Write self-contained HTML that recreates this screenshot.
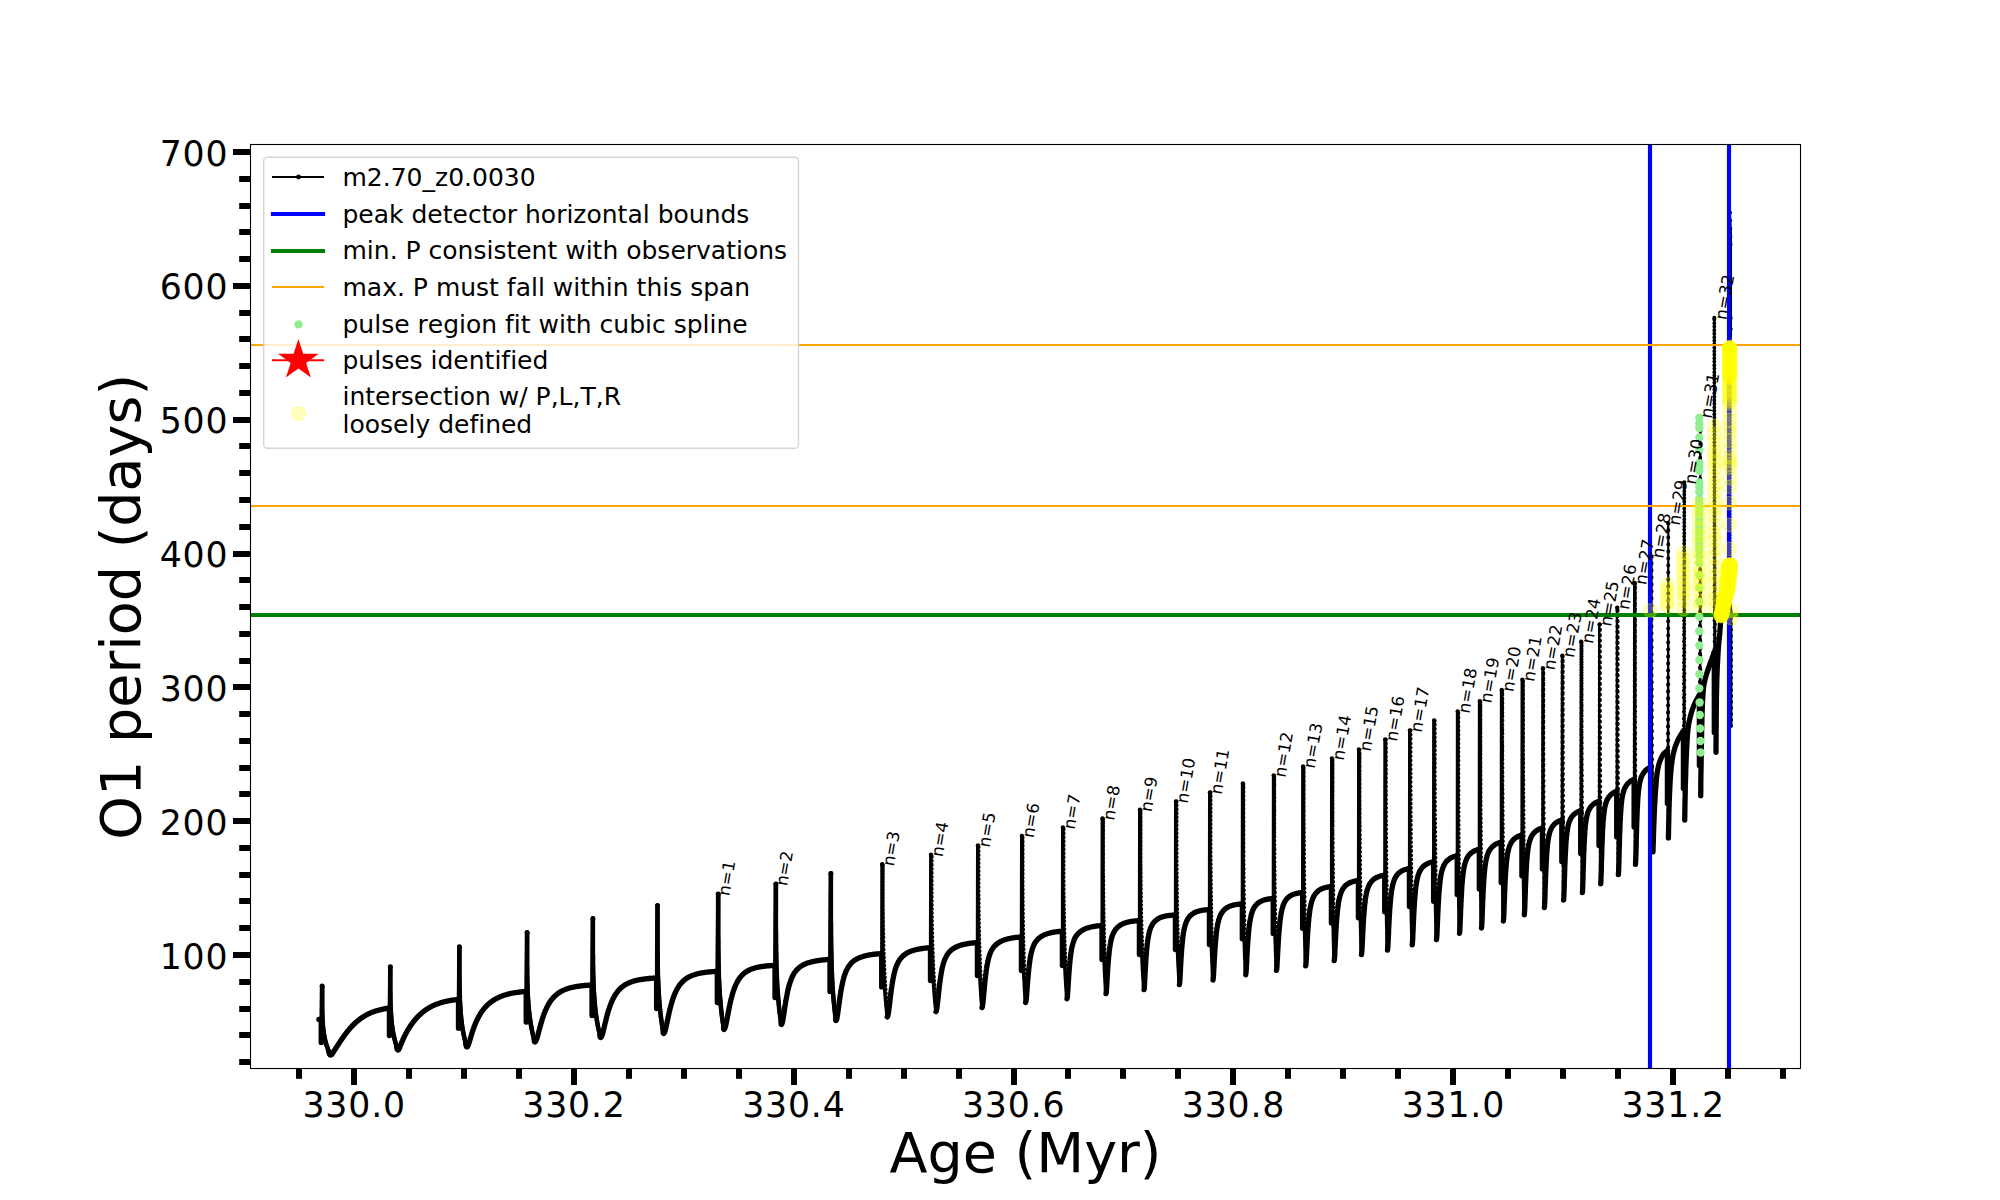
<!DOCTYPE html>
<html lang="en"><head><meta charset="utf-8"><title>O1 period vs Age</title>
<style>html,body{margin:0;padding:0;background:#fff}svg{display:block}text{font-family:"DejaVu Sans","Liberation Sans",sans-serif;fill:#000;font-variant-ligatures:none;font-kerning:none}</style></head><body>
<svg width="2000" height="1200" viewBox="0 0 2000 1200">
<rect width="2000" height="1200" fill="#fff"/>
<defs><clipPath id="ax"><rect x="250.5" y="144.5" width="1550.0" height="924.0"/></clipPath></defs>
<g clip-path="url(#ax)">
<g fill="none" stroke="#000" stroke-linejoin="round" stroke-linecap="round">
<g stroke-width="5.3">
<polyline points="318.9,1019.4 321.0,1019.4"/>
<polyline points="321.2,1019.4 321.2,1042.6"/>
<polyline points="328.7,1051.1 328.9,1052.0 329.1,1052.8 329.3,1053.5 329.5,1054.1 329.7,1054.5 330.0,1054.8 330.3,1055.0 330.6,1055.1 330.9,1055.0 331.3,1054.8 331.7,1054.5 332.1,1054.1 332.5,1053.5 333.0,1052.8 333.4,1052.0 333.9,1051.1 334.1,1050.9 334.3,1050.5 334.6,1050.1 334.8,1049.8 335.1,1049.4 335.3,1049.0 335.6,1048.6 335.8,1048.3 336.1,1047.9 336.3,1047.5 336.6,1047.1 336.8,1046.7 337.1,1046.4 337.3,1046.0 337.5,1045.6 337.8,1045.2 338.0,1044.8 338.3,1044.4 338.5,1044.1 338.8,1043.7 339.0,1043.3 339.3,1042.9 339.5,1042.5 339.8,1042.2 340.0,1041.8 340.3,1041.4 340.5,1041.0 340.8,1040.7 341.0,1040.3 341.3,1039.9 341.5,1039.6 341.8,1039.2 342.0,1038.8 342.3,1038.5 342.5,1038.1 342.8,1037.7 343.0,1037.4 343.3,1037.0 343.5,1036.7 343.7,1036.3 344.0,1036.0 344.2,1035.7 344.5,1035.3 344.7,1035.0 345.0,1034.6 345.2,1034.3 345.5,1034.0 345.7,1033.6 346.0,1033.3 346.2,1033.0 346.5,1032.7 346.7,1032.3 347.0,1032.0 347.2,1031.7 347.5,1031.4 347.7,1031.1 348.0,1030.8 348.2,1030.5 348.5,1030.2 348.7,1029.9 349.0,1029.6 349.2,1029.3 349.5,1029.0 349.7,1028.7 350.0,1028.4 350.2,1028.1 350.4,1027.9 350.7,1027.6 350.9,1027.3 351.2,1027.0 351.4,1026.8 351.7,1026.5 351.9,1026.2 352.2,1026.0 352.4,1025.7 352.7,1025.5 352.9,1025.2 353.2,1025.0 353.4,1024.7 353.7,1024.5 353.9,1024.2 354.2,1024.0 354.4,1023.7 354.7,1023.5 354.9,1023.3 355.2,1023.0 355.4,1022.8 355.7,1022.6 355.9,1022.4 356.2,1022.1 356.4,1021.9 356.7,1021.7 356.9,1021.5 357.1,1021.3 357.4,1021.1 357.6,1020.9 357.9,1020.7 358.1,1020.5 358.4,1020.3 358.6,1020.1 358.9,1019.9 359.1,1019.7 359.4,1019.5 359.6,1019.3 359.9,1019.1 360.1,1018.9 360.4,1018.7 360.6,1018.6 360.9,1018.4 361.1,1018.2 361.4,1018.0 361.6,1017.9 361.9,1017.7 362.1,1017.5 362.4,1017.4 362.6,1017.2 362.9,1017.0 363.1,1016.9 363.3,1016.7 363.6,1016.6 363.8,1016.4 364.1,1016.3 364.3,1016.1 364.6,1016.0 364.8,1015.8 365.1,1015.7 365.3,1015.5 365.6,1015.4 365.8,1015.3 366.1,1015.1 366.3,1015.0 366.6,1014.8 366.8,1014.7 367.1,1014.6 367.3,1014.5 367.6,1014.3 367.8,1014.2 368.1,1014.1 368.3,1014.0 368.6,1013.8 368.8,1013.7 369.1,1013.6 369.3,1013.5 369.6,1013.4 369.8,1013.3 370.0,1013.2 370.3,1013.0 370.5,1012.9 370.8,1012.8 371.0,1012.7 371.3,1012.6 371.5,1012.5 371.8,1012.4 372.0,1012.3 372.3,1012.2 372.5,1012.1 372.8,1012.0 373.0,1011.9 373.3,1011.9 373.5,1011.8 373.8,1011.7 374.0,1011.6 374.3,1011.5 374.5,1011.4 374.8,1011.3 375.0,1011.2 375.3,1011.2 375.5,1011.1 375.8,1011.0 376.0,1010.9 376.3,1010.8 376.5,1010.8 376.7,1010.7 377.0,1010.6 377.2,1010.5 377.5,1010.5 377.7,1010.4 378.0,1010.3 378.2,1010.3 378.5,1010.2 378.7,1010.1 379.0,1010.1 379.2,1010.0 379.5,1009.9 379.7,1009.9 380.0,1009.8 380.2,1009.7 380.5,1009.7 380.7,1009.6 381.0,1009.6 381.2,1009.5 381.5,1009.4 381.7,1009.4 382.0,1009.3 382.2,1009.3 382.5,1009.2 382.7,1009.2 382.9,1009.1 383.2,1009.1 383.4,1009.0 383.7,1009.0 383.9,1008.9 384.2,1008.9 384.4,1008.8 384.7,1008.8 384.9,1008.7 385.2,1008.7 385.4,1008.6 385.7,1008.6 385.9,1008.5 386.2,1008.5 386.4,1008.5 386.7,1008.4 386.9,1008.4 387.2,1008.3 387.4,1008.3 387.7,1008.3 387.9,1008.2 388.2,1008.2 388.4,1008.1 388.7,1008.1 388.9,1008.1 389.2,1008.0 389.4,1008.0"/>
<polyline points="389.4,1008.0 389.4,1035.6"/>
<polyline points="396.6,1046.1 396.7,1047.0 396.8,1047.8 397.0,1048.5 397.2,1049.1 397.4,1049.5 397.6,1049.8 397.8,1050.0 398.0,1050.1 398.2,1050.0 398.5,1049.8 398.7,1049.5 399.0,1049.1 399.3,1048.5 399.6,1047.8 399.9,1047.0 400.2,1046.1 400.2,1046.1 400.5,1045.4 400.7,1044.8 401.0,1044.2 401.2,1043.6 401.5,1043.0 401.7,1042.4 402.0,1041.8 402.2,1041.2 402.5,1040.6 402.7,1040.1 403.0,1039.5 403.2,1039.0 403.5,1038.4 403.7,1037.9 404.0,1037.4 404.2,1036.8 404.4,1036.3 404.7,1035.8 404.9,1035.3 405.2,1034.8 405.4,1034.4 405.7,1033.9 405.9,1033.4 406.2,1033.0 406.4,1032.5 406.7,1032.1 406.9,1031.6 407.2,1031.2 407.4,1030.7 407.7,1030.3 407.9,1029.9 408.2,1029.5 408.4,1029.1 408.7,1028.7 408.9,1028.3 409.2,1027.9 409.4,1027.5 409.7,1027.1 409.9,1026.7 410.1,1026.3 410.4,1026.0 410.6,1025.6 410.9,1025.2 411.1,1024.9 411.4,1024.5 411.6,1024.2 411.9,1023.8 412.1,1023.5 412.4,1023.2 412.6,1022.8 412.9,1022.5 413.1,1022.2 413.4,1021.9 413.6,1021.5 413.9,1021.2 414.1,1020.9 414.4,1020.6 414.6,1020.3 414.9,1020.0 415.1,1019.7 415.4,1019.4 415.6,1019.1 415.9,1018.9 416.1,1018.6 416.3,1018.3 416.6,1018.0 416.8,1017.7 417.1,1017.5 417.3,1017.2 417.6,1017.0 417.8,1016.7 418.1,1016.4 418.3,1016.2 418.6,1015.9 418.8,1015.7 419.1,1015.4 419.3,1015.2 419.6,1015.0 419.8,1014.7 420.1,1014.5 420.3,1014.3 420.6,1014.0 420.8,1013.8 421.1,1013.6 421.3,1013.4 421.6,1013.2 421.8,1013.0 422.1,1012.7 422.3,1012.5 422.5,1012.3 422.8,1012.1 423.0,1011.9 423.3,1011.7 423.5,1011.5 423.8,1011.3 424.0,1011.2 424.3,1011.0 424.5,1010.8 424.8,1010.6 425.0,1010.4 425.3,1010.2 425.5,1010.1 425.8,1009.9 426.0,1009.7 426.3,1009.5 426.5,1009.4 426.8,1009.2 427.0,1009.0 427.3,1008.9 427.5,1008.7 427.8,1008.6 428.0,1008.4 428.2,1008.3 428.5,1008.1 428.7,1008.0 429.0,1007.8 429.2,1007.7 429.5,1007.5 429.7,1007.4 430.0,1007.3 430.2,1007.1 430.5,1007.0 430.7,1006.8 431.0,1006.7 431.2,1006.6 431.5,1006.5 431.7,1006.3 432.0,1006.2 432.2,1006.1 432.5,1006.0 432.7,1005.8 433.0,1005.7 433.2,1005.6 433.5,1005.5 433.7,1005.4 434.0,1005.3 434.2,1005.2 434.4,1005.0 434.7,1004.9 434.9,1004.8 435.2,1004.7 435.4,1004.6 435.7,1004.5 435.9,1004.4 436.2,1004.3 436.4,1004.2 436.7,1004.1 436.9,1004.0 437.2,1003.9 437.4,1003.8 437.7,1003.8 437.9,1003.7 438.2,1003.6 438.4,1003.5 438.7,1003.4 438.9,1003.3 439.2,1003.2 439.4,1003.2 439.7,1003.1 439.9,1003.0 440.2,1002.9 440.4,1002.8 440.6,1002.8 440.9,1002.7 441.1,1002.6 441.4,1002.5 441.6,1002.5 441.9,1002.4 442.1,1002.3 442.4,1002.3 442.6,1002.2 442.9,1002.1 443.1,1002.1 443.4,1002.0 443.6,1001.9 443.9,1001.9 444.1,1001.8 444.4,1001.7 444.6,1001.7 444.9,1001.6 445.1,1001.6 445.4,1001.5 445.6,1001.4 445.9,1001.4 446.1,1001.3 446.4,1001.3 446.6,1001.2 446.8,1001.2 447.1,1001.1 447.3,1001.1 447.6,1001.0 447.8,1001.0 448.1,1000.9 448.3,1000.9 448.6,1000.8 448.8,1000.8 449.1,1000.7 449.3,1000.7 449.6,1000.6 449.8,1000.6 450.1,1000.5 450.3,1000.5 450.6,1000.5 450.8,1000.4 451.1,1000.4 451.3,1000.3 451.6,1000.3 451.8,1000.3 452.1,1000.2 452.3,1000.2 452.5,1000.1 452.8,1000.1 453.0,1000.1 453.3,1000.0 453.5,1000.0 453.8,1000.0 454.0,999.9 454.3,999.9 454.5,999.9 454.8,999.8 455.0,999.8 455.3,999.8 455.5,999.7 455.8,999.7 456.0,999.7 456.3,999.6 456.5,999.6 456.8,999.6 457.0,999.6 457.3,999.5 457.5,999.5 457.8,999.5 458.0,999.5 458.3,999.4 458.5,999.4"/>
<polyline points="458.5,999.4 458.5,1028.2"/>
<polyline points="465.7,1043.0 465.8,1043.9 465.9,1044.8 466.1,1045.4 466.2,1046.0 466.4,1046.4 466.5,1046.8 466.7,1046.9 466.9,1047.0 467.1,1046.9 467.3,1046.8 467.6,1046.4 467.8,1046.0 468.1,1045.4 468.4,1044.8 468.7,1043.9 469.0,1043.0 469.1,1042.5 469.4,1041.7 469.6,1040.9 469.9,1040.1 470.1,1039.2 470.4,1038.4 470.6,1037.5 470.9,1036.7 471.1,1035.9 471.4,1035.0 471.6,1034.2 471.9,1033.4 472.1,1032.7 472.4,1031.9 472.6,1031.1 472.9,1030.4 473.1,1029.7 473.4,1029.0 473.6,1028.3 473.8,1027.6 474.1,1026.9 474.3,1026.2 474.6,1025.6 474.8,1025.0 475.1,1024.4 475.3,1023.8 475.6,1023.2 475.8,1022.6 476.1,1022.0 476.3,1021.5 476.6,1020.9 476.8,1020.4 477.1,1019.9 477.3,1019.3 477.6,1018.8 477.8,1018.4 478.1,1017.9 478.3,1017.4 478.6,1016.9 478.8,1016.5 479.1,1016.0 479.3,1015.6 479.6,1015.2 479.8,1014.8 480.1,1014.3 480.3,1013.9 480.5,1013.5 480.8,1013.2 481.0,1012.8 481.3,1012.4 481.5,1012.0 481.8,1011.7 482.0,1011.3 482.3,1011.0 482.5,1010.6 482.8,1010.3 483.0,1010.0 483.3,1009.6 483.5,1009.3 483.8,1009.0 484.0,1008.7 484.3,1008.4 484.5,1008.1 484.8,1007.8 485.0,1007.5 485.3,1007.3 485.5,1007.0 485.8,1006.7 486.0,1006.5 486.3,1006.2 486.5,1005.9 486.7,1005.7 487.0,1005.4 487.2,1005.2 487.5,1004.9 487.7,1004.7 488.0,1004.5 488.2,1004.3 488.5,1004.0 488.7,1003.8 489.0,1003.6 489.2,1003.4 489.5,1003.2 489.7,1003.0 490.0,1002.8 490.2,1002.6 490.5,1002.4 490.7,1002.2 491.0,1002.0 491.2,1001.8 491.5,1001.6 491.7,1001.4 492.0,1001.3 492.2,1001.1 492.5,1000.9 492.7,1000.7 493.0,1000.6 493.2,1000.4 493.4,1000.2 493.7,1000.1 493.9,999.9 494.2,999.8 494.4,999.6 494.7,999.5 494.9,999.3 495.2,999.2 495.4,999.0 495.7,998.9 495.9,998.8 496.2,998.6 496.4,998.5 496.7,998.4 496.9,998.2 497.2,998.1 497.4,998.0 497.7,997.9 497.9,997.7 498.2,997.6 498.4,997.5 498.7,997.4 498.9,997.3 499.2,997.2 499.4,997.0 499.7,996.9 499.9,996.8 500.1,996.7 500.4,996.6 500.6,996.5 500.9,996.4 501.1,996.3 501.4,996.2 501.6,996.1 501.9,996.0 502.1,995.9 502.4,995.9 502.6,995.8 502.9,995.7 503.1,995.6 503.4,995.5 503.6,995.4 503.9,995.3 504.1,995.3 504.4,995.2 504.6,995.1 504.9,995.0 505.1,994.9 505.4,994.9 505.6,994.8 505.9,994.7 506.1,994.6 506.4,994.6 506.6,994.5 506.8,994.4 507.1,994.4 507.3,994.3 507.6,994.2 507.8,994.2 508.1,994.1 508.3,994.0 508.6,994.0 508.8,993.9 509.1,993.9 509.3,993.8 509.6,993.7 509.8,993.7 510.1,993.6 510.3,993.6 510.6,993.5 510.8,993.5 511.1,993.4 511.3,993.4 511.6,993.3 511.8,993.3 512.1,993.2 512.3,993.2 512.6,993.1 512.8,993.1 513.0,993.0 513.3,993.0 513.5,992.9 513.8,992.9 514.0,992.9 514.3,992.8 514.5,992.8 514.8,992.7 515.0,992.7 515.3,992.6 515.5,992.6 515.8,992.6 516.0,992.5 516.3,992.5 516.5,992.5 516.8,992.4 517.0,992.4 517.3,992.3 517.5,992.3 517.8,992.3 518.0,992.2 518.3,992.2 518.5,992.2 518.8,992.1 519.0,992.1 519.3,992.1 519.5,992.1 519.7,992.0 520.0,992.0 520.2,992.0 520.5,991.9 520.7,991.9 521.0,991.9 521.2,991.9 521.5,991.8 521.7,991.8 522.0,991.8 522.2,991.8 522.5,991.7 522.7,991.7 523.0,991.7 523.2,991.7 523.5,991.6 523.7,991.6 524.0,991.6 524.2,991.6 524.5,991.5 524.7,991.5 525.0,991.5 525.2,991.5 525.5,991.5 525.7,991.4 526.0,991.4 526.2,991.4"/>
<polyline points="526.2,991.4 526.2,1022.0"/>
<polyline points="534.2,1039.5 534.2,1040.1 534.3,1040.6 534.3,1041.0 534.4,1041.4 534.5,1041.6 534.6,1041.8 534.8,1042.0 534.9,1042.0 535.1,1042.0 535.2,1041.8 535.4,1041.6 535.6,1041.4 535.8,1041.0 536.0,1040.6 536.3,1040.1 536.5,1039.5 536.6,1039.2 536.9,1038.5 537.1,1037.7 537.4,1036.8 537.6,1036.0 537.9,1035.1 538.1,1034.1 538.4,1033.2 538.6,1032.3 538.9,1031.3 539.1,1030.4 539.4,1029.4 539.6,1028.5 539.9,1027.5 540.1,1026.6 540.4,1025.7 540.6,1024.8 540.9,1023.9 541.1,1023.1 541.4,1022.2 541.6,1021.4 541.9,1020.6 542.1,1019.8 542.3,1019.0 542.6,1018.2 542.8,1017.5 543.1,1016.7 543.3,1016.0 543.6,1015.3 543.8,1014.6 544.1,1013.9 544.3,1013.3 544.6,1012.7 544.8,1012.0 545.1,1011.4 545.3,1010.8 545.6,1010.2 545.8,1009.7 546.1,1009.1 546.3,1008.6 546.6,1008.0 546.8,1007.5 547.1,1007.0 547.3,1006.5 547.6,1006.1 547.8,1005.6 548.1,1005.1 548.3,1004.7 548.6,1004.2 548.8,1003.8 549.1,1003.4 549.3,1003.0 549.5,1002.6 549.8,1002.2 550.0,1001.8 550.3,1001.5 550.5,1001.1 550.8,1000.8 551.0,1000.4 551.3,1000.1 551.5,999.7 551.8,999.4 552.0,999.1 552.3,998.8 552.5,998.5 552.8,998.2 553.0,997.9 553.3,997.7 553.5,997.4 553.8,997.1 554.0,996.9 554.3,996.6 554.5,996.4 554.8,996.1 555.0,995.9 555.3,995.6 555.5,995.4 555.8,995.2 556.0,995.0 556.3,994.8 556.5,994.6 556.7,994.4 557.0,994.2 557.2,994.0 557.5,993.8 557.7,993.6 558.0,993.4 558.2,993.2 558.5,993.1 558.7,992.9 559.0,992.7 559.2,992.5 559.5,992.4 559.7,992.2 560.0,992.1 560.2,991.9 560.5,991.8 560.7,991.6 561.0,991.5 561.2,991.4 561.5,991.2 561.7,991.1 562.0,991.0 562.2,990.8 562.5,990.7 562.7,990.6 563.0,990.5 563.2,990.4 563.5,990.2 563.7,990.1 563.9,990.0 564.2,989.9 564.4,989.8 564.7,989.7 564.9,989.6 565.2,989.5 565.4,989.4 565.7,989.3 565.9,989.2 566.2,989.1 566.4,989.0 566.7,988.9 566.9,988.9 567.2,988.8 567.4,988.7 567.7,988.6 567.9,988.5 568.2,988.4 568.4,988.4 568.7,988.3 568.9,988.2 569.2,988.2 569.4,988.1 569.7,988.0 569.9,987.9 570.2,987.9 570.4,987.8 570.6,987.7 570.9,987.7 571.1,987.6 571.4,987.6 571.6,987.5 571.9,987.4 572.1,987.4 572.4,987.3 572.6,987.3 572.9,987.2 573.1,987.2 573.4,987.1 573.6,987.1 573.9,987.0 574.1,987.0 574.4,986.9 574.6,986.9 574.9,986.8 575.1,986.8 575.4,986.7 575.6,986.7 575.9,986.6 576.1,986.6 576.4,986.6 576.6,986.5 576.9,986.5 577.1,986.4 577.4,986.4 577.6,986.4 577.8,986.3 578.1,986.3 578.3,986.2 578.6,986.2 578.8,986.2 579.1,986.1 579.3,986.1 579.6,986.1 579.8,986.0 580.1,986.0 580.3,986.0 580.6,985.9 580.8,985.9 581.1,985.9 581.3,985.9 581.6,985.8 581.8,985.8 582.1,985.8 582.3,985.7 582.6,985.7 582.8,985.7 583.1,985.7 583.3,985.6 583.6,985.6 583.8,985.6 584.1,985.6 584.3,985.6 584.6,985.5 584.8,985.5 585.0,985.5 585.3,985.5 585.5,985.4 585.8,985.4 586.0,985.4 586.3,985.4 586.5,985.4 586.8,985.3 587.0,985.3 587.3,985.3 587.5,985.3 587.8,985.3 588.0,985.2 588.3,985.2 588.5,985.2 588.8,985.2 589.0,985.2 589.3,985.2 589.5,985.1 589.8,985.1 590.0,985.1 590.3,985.1 590.5,985.1 590.8,985.1 591.0,985.1 591.3,985.0 591.5,985.0 591.8,985.0 592.0,985.0"/>
<polyline points="592.0,985.0 592.0,1015.6"/>
<polyline points="599.9,1035.1 600.0,1035.7 600.0,1036.2 600.1,1036.6 600.2,1037.0 600.3,1037.2 600.4,1037.4 600.5,1037.6 600.6,1037.6 600.7,1037.6 600.9,1037.4 601.1,1037.2 601.3,1037.0 601.5,1036.6 601.7,1036.2 601.9,1035.7 602.1,1035.1 602.3,1034.5 602.6,1033.6 602.8,1032.7 603.1,1031.8 603.3,1030.8 603.6,1029.8 603.8,1028.7 604.1,1027.7 604.3,1026.6 604.6,1025.6 604.8,1024.5 605.1,1023.5 605.3,1022.4 605.6,1021.4 605.8,1020.4 606.1,1019.4 606.3,1018.4 606.5,1017.4 606.8,1016.5 607.0,1015.6 607.3,1014.7 607.5,1013.8 607.8,1012.9 608.0,1012.1 608.3,1011.2 608.5,1010.4 608.8,1009.7 609.0,1008.9 609.3,1008.1 609.5,1007.4 609.8,1006.7 610.0,1006.0 610.3,1005.3 610.5,1004.7 610.8,1004.0 611.0,1003.4 611.3,1002.8 611.5,1002.2 611.8,1001.6 612.0,1001.0 612.2,1000.5 612.5,1000.0 612.7,999.4 613.0,998.9 613.2,998.4 613.5,998.0 613.7,997.5 614.0,997.0 614.2,996.6 614.5,996.2 614.7,995.7 615.0,995.3 615.2,994.9 615.5,994.5 615.7,994.1 616.0,993.8 616.2,993.4 616.5,993.0 616.7,992.7 617.0,992.4 617.2,992.0 617.4,991.7 617.7,991.4 617.9,991.1 618.2,990.8 618.4,990.5 618.7,990.2 618.9,990.0 619.2,989.7 619.4,989.4 619.7,989.2 619.9,988.9 620.2,988.7 620.4,988.4 620.7,988.2 620.9,988.0 621.2,987.8 621.4,987.5 621.7,987.3 621.9,987.1 622.2,986.9 622.4,986.7 622.7,986.5 622.9,986.3 623.1,986.2 623.4,986.0 623.6,985.8 623.9,985.6 624.1,985.5 624.4,985.3 624.6,985.1 624.9,985.0 625.1,984.8 625.4,984.7 625.6,984.5 625.9,984.4 626.1,984.2 626.4,984.1 626.6,984.0 626.9,983.8 627.1,983.7 627.4,983.6 627.6,983.5 627.9,983.3 628.1,983.2 628.4,983.1 628.6,983.0 628.8,982.9 629.1,982.8 629.3,982.7 629.6,982.6 629.8,982.5 630.1,982.4 630.3,982.3 630.6,982.2 630.8,982.1 631.1,982.0 631.3,981.9 631.6,981.8 631.8,981.7 632.1,981.6 632.3,981.5 632.6,981.5 632.8,981.4 633.1,981.3 633.3,981.2 633.6,981.2 633.8,981.1 634.1,981.0 634.3,980.9 634.5,980.9 634.8,980.8 635.0,980.7 635.3,980.7 635.5,980.6 635.8,980.6 636.0,980.5 636.3,980.4 636.5,980.4 636.8,980.3 637.0,980.3 637.3,980.2 637.5,980.2 637.8,980.1 638.0,980.0 638.3,980.0 638.5,979.9 638.8,979.9 639.0,979.9 639.3,979.8 639.5,979.8 639.8,979.7 640.0,979.7 640.2,979.6 640.5,979.6 640.7,979.5 641.0,979.5 641.2,979.5 641.5,979.4 641.7,979.4 642.0,979.3 642.2,979.3 642.5,979.3 642.7,979.2 643.0,979.2 643.2,979.2 643.5,979.1 643.7,979.1 644.0,979.1 644.2,979.0 644.5,979.0 644.7,979.0 645.0,978.9 645.2,978.9 645.4,978.9 645.7,978.8 645.9,978.8 646.2,978.8 646.4,978.8 646.7,978.7 646.9,978.7 647.2,978.7 647.4,978.7 647.7,978.6 647.9,978.6 648.2,978.6 648.4,978.6 648.7,978.5 648.9,978.5 649.2,978.5 649.4,978.5 649.7,978.5 649.9,978.4 650.2,978.4 650.4,978.4 650.7,978.4 650.9,978.4 651.1,978.3 651.4,978.3 651.6,978.3 651.9,978.3 652.1,978.3 652.4,978.2 652.6,978.2 652.9,978.2 653.1,978.2 653.4,978.2 653.6,978.2 653.9,978.2 654.1,978.1 654.4,978.1 654.6,978.1 654.9,978.1 655.1,978.1 655.4,978.1 655.6,978.1 655.9,978.0 656.1,978.0 656.4,978.0 656.6,978.0"/>
<polyline points="656.6,978.0 656.6,1008.6"/>
<polyline points="663.1,1031.1 663.1,1031.7 663.2,1032.2 663.2,1032.6 663.2,1033.0 663.3,1033.2 663.4,1033.4 663.5,1033.6 663.6,1033.6 663.7,1033.6 663.9,1033.4 664.0,1033.2 664.2,1033.0 664.4,1032.6 664.6,1032.2 664.8,1031.7 665.0,1031.1 665.1,1030.9 665.3,1030.0 665.6,1029.0 665.8,1028.0 666.1,1026.9 666.3,1025.7 666.6,1024.6 666.8,1023.4 667.1,1022.2 667.3,1021.0 667.6,1019.8 667.8,1018.6 668.1,1017.5 668.3,1016.3 668.6,1015.2 668.8,1014.0 669.1,1012.9 669.3,1011.8 669.6,1010.8 669.8,1009.8 670.1,1008.7 670.3,1007.8 670.6,1006.8 670.8,1005.8 671.1,1004.9 671.3,1004.0 671.6,1003.2 671.8,1002.3 672.1,1001.5 672.3,1000.7 672.5,999.9 672.8,999.2 673.0,998.5 673.3,997.7 673.5,997.0 673.8,996.4 674.0,995.7 674.3,995.1 674.5,994.5 674.8,993.9 675.0,993.3 675.3,992.7 675.5,992.2 675.8,991.6 676.0,991.1 676.3,990.6 676.5,990.1 676.8,989.6 677.0,989.2 677.3,988.7 677.5,988.3 677.8,987.9 678.0,987.5 678.3,987.1 678.5,986.7 678.8,986.3 679.0,985.9 679.3,985.6 679.5,985.2 679.8,984.9 680.0,984.5 680.3,984.2 680.5,983.9 680.8,983.6 681.0,983.3 681.3,983.0 681.5,982.7 681.7,982.4 682.0,982.2 682.2,981.9 682.5,981.7 682.7,981.4 683.0,981.2 683.2,980.9 683.5,980.7 683.7,980.5 684.0,980.3 684.2,980.1 684.5,979.9 684.7,979.7 685.0,979.5 685.2,979.3 685.5,979.1 685.7,978.9 686.0,978.7 686.2,978.6 686.5,978.4 686.7,978.2 687.0,978.1 687.2,977.9 687.5,977.7 687.7,977.6 688.0,977.5 688.2,977.3 688.5,977.2 688.7,977.0 689.0,976.9 689.2,976.8 689.5,976.6 689.7,976.5 690.0,976.4 690.2,976.3 690.5,976.2 690.7,976.1 690.9,975.9 691.2,975.8 691.4,975.7 691.7,975.6 691.9,975.5 692.2,975.4 692.4,975.3 692.7,975.2 692.9,975.1 693.2,975.1 693.4,975.0 693.7,974.9 693.9,974.8 694.2,974.7 694.4,974.6 694.7,974.6 694.9,974.5 695.2,974.4 695.4,974.3 695.7,974.3 695.9,974.2 696.2,974.1 696.4,974.1 696.7,974.0 696.9,973.9 697.2,973.9 697.4,973.8 697.7,973.7 697.9,973.7 698.2,973.6 698.4,973.6 698.7,973.5 698.9,973.4 699.2,973.4 699.4,973.3 699.6,973.3 699.9,973.2 700.1,973.2 700.4,973.1 700.6,973.1 700.9,973.1 701.1,973.0 701.4,973.0 701.6,972.9 701.9,972.9 702.1,972.8 702.4,972.8 702.6,972.8 702.9,972.7 703.1,972.7 703.4,972.6 703.6,972.6 703.9,972.6 704.1,972.5 704.4,972.5 704.6,972.5 704.9,972.4 705.1,972.4 705.4,972.4 705.6,972.3 705.9,972.3 706.1,972.3 706.4,972.2 706.6,972.2 706.9,972.2 707.1,972.2 707.4,972.1 707.6,972.1 707.9,972.1 708.1,972.1 708.3,972.0 708.6,972.0 708.8,972.0 709.1,972.0 709.3,971.9 709.6,971.9 709.8,971.9 710.1,971.9 710.3,971.9 710.6,971.8 710.8,971.8 711.1,971.8 711.3,971.8 711.6,971.8 711.8,971.7 712.1,971.7 712.3,971.7 712.6,971.7 712.8,971.7 713.1,971.6 713.3,971.6 713.6,971.6 713.8,971.6 714.1,971.6 714.3,971.6 714.6,971.5 714.8,971.5 715.1,971.5 715.3,971.5 715.6,971.5 715.8,971.5 716.1,971.5 716.3,971.5 716.6,971.4 716.8,971.4 717.1,971.4 717.3,971.4"/>
<polyline points="717.3,971.4 717.3,1002.6"/>
<polyline points="723.6,1027.1 723.6,1027.7 723.6,1028.2 723.6,1028.6 723.7,1029.0 723.7,1029.2 723.8,1029.4 723.9,1029.6 724.0,1029.6 724.1,1029.6 724.2,1029.4 724.4,1029.2 724.5,1029.0 724.7,1028.6 724.9,1028.2 725.1,1027.7 725.3,1027.1 725.5,1026.5 725.7,1025.5 726.0,1024.4 726.2,1023.2 726.5,1022.0 726.7,1020.7 727.0,1019.4 727.2,1018.1 727.5,1016.7 727.7,1015.4 728.0,1014.1 728.2,1012.7 728.5,1011.4 728.7,1010.2 729.0,1008.9 729.2,1007.7 729.4,1006.5 729.7,1005.3 729.9,1004.1 730.2,1003.0 730.4,1001.9 730.7,1000.9 730.9,999.8 731.2,998.8 731.4,997.9 731.7,996.9 731.9,996.0 732.2,995.1 732.4,994.3 732.7,993.4 732.9,992.6 733.2,991.8 733.4,991.1 733.7,990.3 733.9,989.6 734.2,988.9 734.4,988.2 734.6,987.6 734.9,987.0 735.1,986.4 735.4,985.8 735.6,985.2 735.9,984.6 736.1,984.1 736.4,983.6 736.6,983.1 736.9,982.6 737.1,982.1 737.4,981.7 737.6,981.2 737.9,980.8 738.1,980.4 738.4,980.0 738.6,979.6 738.9,979.2 739.1,978.8 739.3,978.5 739.6,978.1 739.8,977.8 740.1,977.4 740.3,977.1 740.6,976.8 740.8,976.5 741.1,976.2 741.3,975.9 741.6,975.7 741.8,975.4 742.1,975.1 742.3,974.9 742.6,974.6 742.8,974.4 743.1,974.2 743.3,973.9 743.6,973.7 743.8,973.5 744.1,973.3 744.3,973.1 744.5,972.9 744.8,972.7 745.0,972.5 745.3,972.3 745.5,972.2 745.8,972.0 746.0,971.8 746.3,971.7 746.5,971.5 746.8,971.4 747.0,971.2 747.3,971.1 747.5,970.9 747.8,970.8 748.0,970.6 748.3,970.5 748.5,970.4 748.8,970.3 749.0,970.1 749.3,970.0 749.5,969.9 749.7,969.8 750.0,969.7 750.2,969.6 750.5,969.5 750.7,969.4 751.0,969.2 751.2,969.2 751.5,969.1 751.7,969.0 752.0,968.9 752.2,968.8 752.5,968.7 752.7,968.6 753.0,968.5 753.2,968.4 753.5,968.4 753.7,968.3 754.0,968.2 754.2,968.1 754.5,968.1 754.7,968.0 754.9,967.9 755.2,967.9 755.4,967.8 755.7,967.7 755.9,967.7 756.2,967.6 756.4,967.6 756.7,967.5 756.9,967.4 757.2,967.4 757.4,967.3 757.7,967.3 757.9,967.2 758.2,967.2 758.4,967.1 758.7,967.1 758.9,967.0 759.2,967.0 759.4,966.9 759.7,966.9 759.9,966.8 760.1,966.8 760.4,966.8 760.6,966.7 760.9,966.7 761.1,966.6 761.4,966.6 761.6,966.6 761.9,966.5 762.1,966.5 762.4,966.5 762.6,966.4 762.9,966.4 763.1,966.4 763.4,966.3 763.6,966.3 763.9,966.3 764.1,966.2 764.4,966.2 764.6,966.2 764.8,966.2 765.1,966.1 765.3,966.1 765.6,966.1 765.8,966.0 766.1,966.0 766.3,966.0 766.6,966.0 766.8,965.9 767.1,965.9 767.3,965.9 767.6,965.9 767.8,965.9 768.1,965.8 768.3,965.8 768.6,965.8 768.8,965.8 769.1,965.8 769.3,965.7 769.6,965.7 769.8,965.7 770.0,965.7 770.3,965.7 770.5,965.7 770.8,965.6 771.0,965.6 771.3,965.6 771.5,965.6 771.8,965.6 772.0,965.6 772.3,965.5 772.5,965.5 772.8,965.5 773.0,965.5 773.3,965.5 773.5,965.5 773.8,965.5 774.0,965.4 774.3,965.4 774.5,965.4 774.8,965.4 775.0,965.4"/>
<polyline points="775.0,965.4 775.0,997.6"/>
<polyline points="781.0,1022.1 781.0,1022.7 781.0,1023.2 781.1,1023.6 781.1,1024.0 781.2,1024.2 781.2,1024.4 781.3,1024.6 781.4,1024.6 781.5,1024.6 781.6,1024.4 781.7,1024.2 781.8,1024.0 782.0,1023.6 782.1,1023.2 782.3,1022.7 782.5,1022.1 782.6,1021.2 782.9,1019.9 783.1,1018.5 783.4,1017.0 783.6,1015.4 783.9,1013.7 784.1,1012.0 784.4,1010.4 784.6,1008.7 784.9,1007.0 785.1,1005.4 785.4,1003.9 785.6,1002.3 785.9,1000.8 786.1,999.4 786.4,998.0 786.6,996.6 786.9,995.3 787.1,994.1 787.4,992.9 787.6,991.7 787.8,990.6 788.1,989.5 788.3,988.5 788.6,987.5 788.8,986.6 789.1,985.7 789.3,984.8 789.6,984.0 789.8,983.2 790.1,982.4 790.3,981.7 790.6,981.0 790.8,980.3 791.1,979.6 791.3,979.0 791.6,978.4 791.8,977.8 792.1,977.3 792.3,976.7 792.6,976.2 792.8,975.7 793.1,975.2 793.3,974.8 793.5,974.4 793.8,973.9 794.0,973.5 794.3,973.1 794.5,972.7 794.8,972.4 795.0,972.0 795.3,971.7 795.5,971.4 795.8,971.0 796.0,970.7 796.3,970.4 796.5,970.1 796.8,969.9 797.0,969.6 797.3,969.3 797.5,969.1 797.8,968.8 798.0,968.6 798.3,968.4 798.5,968.1 798.8,967.9 799.0,967.7 799.3,967.5 799.5,967.3 799.7,967.1 800.0,966.9 800.2,966.8 800.5,966.6 800.7,966.4 801.0,966.2 801.2,966.1 801.5,965.9 801.7,965.8 802.0,965.6 802.2,965.5 802.5,965.3 802.7,965.2 803.0,965.0 803.2,964.9 803.5,964.8 803.7,964.7 804.0,964.5 804.2,964.4 804.5,964.3 804.7,964.2 805.0,964.1 805.2,964.0 805.5,963.8 805.7,963.7 805.9,963.6 806.2,963.5 806.4,963.4 806.7,963.3 806.9,963.3 807.2,963.2 807.4,963.1 807.7,963.0 807.9,962.9 808.2,962.8 808.4,962.7 808.7,962.7 808.9,962.6 809.2,962.5 809.4,962.4 809.7,962.4 809.9,962.3 810.2,962.2 810.4,962.1 810.7,962.1 810.9,962.0 811.2,961.9 811.4,961.9 811.7,961.8 811.9,961.8 812.1,961.7 812.4,961.6 812.6,961.6 812.9,961.5 813.1,961.5 813.4,961.4 813.6,961.4 813.9,961.3 814.1,961.3 814.4,961.2 814.6,961.2 814.9,961.1 815.1,961.1 815.4,961.0 815.6,961.0 815.9,960.9 816.1,960.9 816.4,960.8 816.6,960.8 816.9,960.8 817.1,960.7 817.4,960.7 817.6,960.6 817.9,960.6 818.1,960.6 818.3,960.5 818.6,960.5 818.8,960.5 819.1,960.4 819.3,960.4 819.6,960.4 819.8,960.3 820.1,960.3 820.3,960.3 820.6,960.2 820.8,960.2 821.1,960.2 821.3,960.1 821.6,960.1 821.8,960.1 822.1,960.1 822.3,960.0 822.6,960.0 822.8,960.0 823.1,959.9 823.3,959.9 823.6,959.9 823.8,959.9 824.0,959.8 824.3,959.8 824.5,959.8 824.8,959.8 825.0,959.8 825.3,959.7 825.5,959.7 825.8,959.7 826.0,959.7 826.3,959.7 826.5,959.6 826.8,959.6 827.0,959.6 827.3,959.6 827.5,959.6 827.8,959.5 828.0,959.5 828.3,959.5 828.5,959.5 828.8,959.5 829.0,959.5 829.3,959.4 829.5,959.4 829.8,959.4 830.0,959.4"/>
<polyline points="830.0,959.4 830.0,991.6"/>
<polyline points="835.6,1018.1 835.7,1018.7 835.7,1019.2 835.7,1019.6 835.7,1020.0 835.8,1020.2 835.9,1020.4 835.9,1020.6 836.0,1020.6 836.1,1020.6 836.2,1020.4 836.3,1020.2 836.4,1020.0 836.5,1019.6 836.7,1019.2 836.8,1018.7 837.0,1018.1 837.0,1018.0 837.2,1016.7 837.5,1015.2 837.7,1013.5 838.0,1011.8 838.2,1010.0 838.5,1008.1 838.7,1006.2 839.0,1004.3 839.2,1002.5 839.5,1000.7 839.7,998.9 840.0,997.2 840.2,995.5 840.5,993.9 840.7,992.3 841.0,990.8 841.2,989.4 841.5,988.0 841.7,986.7 842.0,985.5 842.2,984.3 842.5,983.1 842.7,982.0 843.0,981.0 843.2,980.0 843.5,979.0 843.7,978.1 843.9,977.3 844.2,976.4 844.4,975.6 844.7,974.9 844.9,974.2 845.2,973.5 845.4,972.8 845.7,972.2 845.9,971.6 846.2,971.0 846.4,970.5 846.7,969.9 846.9,969.4 847.2,968.9 847.4,968.5 847.7,968.0 847.9,967.6 848.2,967.2 848.4,966.8 848.7,966.4 848.9,966.0 849.2,965.7 849.4,965.3 849.7,965.0 849.9,964.7 850.2,964.4 850.4,964.1 850.7,963.8 850.9,963.5 851.2,963.2 851.4,963.0 851.6,962.7 851.9,962.5 852.1,962.3 852.4,962.0 852.6,961.8 852.9,961.6 853.1,961.4 853.4,961.2 853.6,961.0 853.9,960.8 854.1,960.6 854.4,960.5 854.6,960.3 854.9,960.1 855.1,960.0 855.4,959.8 855.6,959.6 855.9,959.5 856.1,959.3 856.4,959.2 856.6,959.1 856.9,958.9 857.1,958.8 857.4,958.7 857.6,958.5 857.9,958.4 858.1,958.3 858.4,958.2 858.6,958.1 858.9,957.9 859.1,957.8 859.3,957.7 859.6,957.6 859.8,957.5 860.1,957.4 860.3,957.3 860.6,957.2 860.8,957.1 861.1,957.1 861.3,957.0 861.6,956.9 861.8,956.8 862.1,956.7 862.3,956.6 862.6,956.6 862.8,956.5 863.1,956.4 863.3,956.3 863.6,956.3 863.8,956.2 864.1,956.1 864.3,956.1 864.6,956.0 864.8,955.9 865.1,955.9 865.3,955.8 865.6,955.7 865.8,955.7 866.1,955.6 866.3,955.6 866.5,955.5 866.8,955.4 867.0,955.4 867.3,955.3 867.5,955.3 867.8,955.2 868.0,955.2 868.3,955.1 868.5,955.1 868.8,955.1 869.0,955.0 869.3,955.0 869.5,954.9 869.8,954.9 870.0,954.8 870.3,954.8 870.5,954.8 870.8,954.7 871.0,954.7 871.3,954.6 871.5,954.6 871.8,954.6 872.0,954.5 872.3,954.5 872.5,954.5 872.8,954.4 873.0,954.4 873.3,954.4 873.5,954.3 873.8,954.3 874.0,954.3 874.2,954.2 874.5,954.2 874.7,954.2 875.0,954.2 875.2,954.1 875.5,954.1 875.7,954.1 876.0,954.1 876.2,954.0 876.5,954.0 876.7,954.0 877.0,954.0 877.2,953.9 877.5,953.9 877.7,953.9 878.0,953.9 878.2,953.9 878.5,953.8 878.7,953.8 879.0,953.8 879.2,953.8 879.5,953.8 879.7,953.7 880.0,953.7 880.2,953.7 880.5,953.7 880.7,953.7 881.0,953.6 881.2,953.6 881.5,953.6 881.7,953.6"/>
<polyline points="881.7,953.6 881.7,986.9"/>
<polyline points="887.3,1016.9 887.5,1016.7 887.8,1016.1 888.0,1015.1 888.3,1013.9 888.5,1012.3 888.8,1010.5 889.0,1008.6 889.3,1006.6 889.5,1004.5 889.8,1002.3 890.0,1000.2 890.3,998.1 890.5,996.0 890.8,994.0 891.0,992.1 891.3,990.2 891.5,988.4 891.8,986.6 892.0,985.0 892.3,983.4 892.5,981.9 892.8,980.5 893.0,979.1 893.3,977.8 893.5,976.6 893.8,975.4 894.0,974.3 894.3,973.3 894.5,972.3 894.7,971.4 895.0,970.5 895.2,969.6 895.5,968.8 895.7,968.1 896.0,967.3 896.2,966.6 896.5,966.0 896.7,965.3 897.0,964.8 897.2,964.2 897.5,963.6 897.7,963.1 898.0,962.6 898.2,962.1 898.5,961.7 898.7,961.3 899.0,960.8 899.2,960.4 899.5,960.1 899.7,959.7 900.0,959.3 900.2,959.0 900.5,958.7 900.7,958.4 901.0,958.1 901.2,957.8 901.5,957.5 901.7,957.2 901.9,956.9 902.2,956.7 902.4,956.4 902.7,956.2 902.9,956.0 903.2,955.8 903.4,955.5 903.7,955.3 903.9,955.1 904.2,954.9 904.4,954.7 904.7,954.6 904.9,954.4 905.2,954.2 905.4,954.0 905.7,953.9 905.9,953.7 906.2,953.5 906.4,953.4 906.7,953.2 906.9,953.1 907.2,953.0 907.4,952.8 907.7,952.7 907.9,952.6 908.2,952.4 908.4,952.3 908.7,952.2 908.9,952.1 909.1,952.0 909.4,951.8 909.6,951.7 909.9,951.6 910.1,951.5 910.4,951.4 910.6,951.3 910.9,951.2 911.1,951.1 911.4,951.0 911.6,950.9 911.9,950.9 912.1,950.8 912.4,950.7 912.6,950.6 912.9,950.5 913.1,950.4 913.4,950.4 913.6,950.3 913.9,950.2 914.1,950.1 914.4,950.1 914.6,950.0 914.9,949.9 915.1,949.9 915.4,949.8 915.6,949.8 915.9,949.7 916.1,949.6 916.3,949.6 916.6,949.5 916.8,949.5 917.1,949.4 917.3,949.3 917.6,949.3 917.8,949.2 918.1,949.2 918.3,949.1 918.6,949.1 918.8,949.1 919.1,949.0 919.3,949.0 919.6,948.9 919.8,948.9 920.1,948.8 920.3,948.8 920.6,948.8 920.8,948.7 921.1,948.7 921.3,948.6 921.6,948.6 921.8,948.6 922.1,948.5 922.3,948.5 922.6,948.5 922.8,948.4 923.1,948.4 923.3,948.4 923.5,948.3 923.8,948.3 924.0,948.3 924.3,948.2 924.5,948.2 924.8,948.2 925.0,948.2 925.3,948.1 925.5,948.1 925.8,948.1 926.0,948.1 926.3,948.0 926.5,948.0 926.8,948.0 927.0,948.0 927.3,947.9 927.5,947.9 927.8,947.9 928.0,947.9 928.3,947.9 928.5,947.8 928.8,947.8 929.0,947.8 929.3,947.8 929.5,947.8 929.8,947.8 930.0,947.7 930.3,947.7 930.5,947.7"/>
<polyline points="930.5,947.7 930.5,980.6"/>
<polyline points="936.0,1011.6 936.2,1011.3 936.5,1010.6 936.7,1009.3 937.0,1007.7 937.2,1005.8 937.5,1003.7 937.7,1001.4 938.0,999.0 938.2,996.6 938.5,994.3 938.7,991.9 939.0,989.7 939.2,987.5 939.5,985.4 939.7,983.3 940.0,981.4 940.2,979.6 940.5,977.9 940.7,976.2 941.0,974.7 941.2,973.3 941.5,971.9 941.7,970.6 941.9,969.4 942.2,968.2 942.4,967.2 942.7,966.1 942.9,965.2 943.2,964.3 943.4,963.4 943.7,962.6 943.9,961.8 944.2,961.1 944.4,960.4 944.7,959.8 944.9,959.2 945.2,958.6 945.4,958.0 945.7,957.5 945.9,957.0 946.2,956.5 946.4,956.1 946.7,955.6 946.9,955.2 947.2,954.8 947.4,954.4 947.7,954.1 947.9,953.7 948.1,953.4 948.4,953.1 948.6,952.8 948.9,952.5 949.1,952.2 949.4,951.9 949.6,951.6 949.9,951.4 950.1,951.1 950.4,950.9 950.6,950.7 950.9,950.4 951.1,950.2 951.4,950.0 951.6,949.8 951.9,949.6 952.1,949.4 952.4,949.2 952.6,949.1 952.9,948.9 953.1,948.7 953.4,948.6 953.6,948.4 953.8,948.2 954.1,948.1 954.3,947.9 954.6,947.8 954.8,947.7 955.1,947.5 955.3,947.4 955.6,947.3 955.8,947.1 956.1,947.0 956.3,946.9 956.6,946.8 956.8,946.7 957.1,946.6 957.3,946.5 957.6,946.4 957.8,946.2 958.1,946.1 958.3,946.1 958.6,946.0 958.8,945.9 959.1,945.8 959.3,945.7 959.6,945.6 959.8,945.5 960.0,945.4 960.3,945.3 960.5,945.3 960.8,945.2 961.0,945.1 961.3,945.0 961.5,945.0 961.8,944.9 962.0,944.8 962.3,944.8 962.5,944.7 962.8,944.6 963.0,944.6 963.3,944.5 963.5,944.5 963.8,944.4 964.0,944.3 964.3,944.3 964.5,944.2 964.8,944.2 965.0,944.1 965.3,944.1 965.5,944.0 965.7,944.0 966.0,943.9 966.2,943.9 966.5,943.8 966.7,943.8 967.0,943.8 967.2,943.7 967.5,943.7 967.7,943.6 968.0,943.6 968.2,943.6 968.5,943.5 968.7,943.5 969.0,943.4 969.2,943.4 969.5,943.4 969.7,943.3 970.0,943.3 970.2,943.3 970.5,943.2 970.7,943.2 971.0,943.2 971.2,943.2 971.5,943.1 971.7,943.1 971.9,943.1 972.2,943.0 972.4,943.0 972.7,943.0 972.9,943.0 973.2,942.9 973.4,942.9 973.7,942.9 973.9,942.9 974.2,942.8 974.4,942.8 974.7,942.8 974.9,942.8 975.2,942.8 975.4,942.7 975.7,942.7 975.9,942.7 976.2,942.7 976.4,942.7 976.7,942.7 976.9,942.6 977.2,942.6 977.4,942.6"/>
<polyline points="977.4,942.6 977.4,975.6"/>
<polyline points="982.0,1007.6 982.2,1007.2 982.5,1006.2 982.7,1004.5 983.0,1002.4 983.2,999.9 983.5,997.2 983.7,994.5 984.0,991.7 984.2,988.9 984.5,986.2 984.7,983.6 985.0,981.2 985.2,978.9 985.5,976.6 985.7,974.6 986.0,972.6 986.2,970.8 986.5,969.1 986.7,967.5 987.0,966.0 987.2,964.6 987.5,963.3 987.7,962.1 987.9,960.9 988.2,959.9 988.4,958.9 988.7,957.9 988.9,957.0 989.2,956.2 989.4,955.4 989.7,954.7 989.9,954.0 990.2,953.4 990.4,952.8 990.7,952.2 990.9,951.6 991.2,951.1 991.4,950.6 991.7,950.2 991.9,949.7 992.2,949.3 992.4,948.9 992.7,948.5 992.9,948.2 993.2,947.8 993.4,947.5 993.6,947.1 993.9,946.8 994.1,946.5 994.4,946.3 994.6,946.0 994.9,945.7 995.1,945.5 995.4,945.2 995.6,945.0 995.9,944.8 996.1,944.5 996.4,944.3 996.6,944.1 996.9,943.9 997.1,943.7 997.4,943.5 997.6,943.4 997.9,943.2 998.1,943.0 998.4,942.8 998.6,942.7 998.9,942.5 999.1,942.4 999.3,942.2 999.6,942.1 999.8,941.9 1000.1,941.8 1000.3,941.7 1000.6,941.5 1000.8,941.4 1001.1,941.3 1001.3,941.2 1001.6,941.1 1001.8,940.9 1002.1,940.8 1002.3,940.7 1002.6,940.6 1002.8,940.5 1003.1,940.4 1003.3,940.3 1003.6,940.2 1003.8,940.1 1004.1,940.0 1004.3,939.9 1004.5,939.9 1004.8,939.8 1005.0,939.7 1005.3,939.6 1005.5,939.5 1005.8,939.5 1006.0,939.4 1006.3,939.3 1006.5,939.2 1006.8,939.2 1007.0,939.1 1007.3,939.0 1007.5,939.0 1007.8,938.9 1008.0,938.8 1008.3,938.8 1008.5,938.7 1008.8,938.7 1009.0,938.6 1009.3,938.6 1009.5,938.5 1009.8,938.5 1010.0,938.4 1010.2,938.4 1010.5,938.3 1010.7,938.3 1011.0,938.2 1011.2,938.2 1011.5,938.1 1011.7,938.1 1012.0,938.0 1012.2,938.0 1012.5,938.0 1012.7,937.9 1013.0,937.9 1013.2,937.8 1013.5,937.8 1013.7,937.8 1014.0,937.7 1014.2,937.7 1014.5,937.7 1014.7,937.6 1015.0,937.6 1015.2,937.6 1015.5,937.5 1015.7,937.5 1015.9,937.5 1016.2,937.5 1016.4,937.4 1016.7,937.4 1016.9,937.4 1017.2,937.4 1017.4,937.3 1017.7,937.3 1017.9,937.3 1018.2,937.3 1018.4,937.2 1018.7,937.2 1018.9,937.2 1019.2,937.2 1019.4,937.1 1019.7,937.1 1019.9,937.1 1020.2,937.1 1020.4,937.1 1020.7,937.1 1020.9,937.0 1021.2,937.0 1021.4,937.0"/>
<polyline points="1021.4,937.0 1021.4,970.6"/>
<polyline points="1025.6,1002.6 1025.8,1002.1 1026.1,1000.5 1026.3,998.2 1026.6,995.4 1026.8,992.2 1027.1,988.9 1027.3,985.6 1027.6,982.4 1027.8,979.4 1028.1,976.5 1028.3,973.7 1028.6,971.2 1028.8,968.8 1029.1,966.6 1029.3,964.6 1029.6,962.7 1029.8,960.9 1030.0,959.3 1030.3,957.8 1030.5,956.4 1030.8,955.2 1031.0,954.0 1031.3,952.9 1031.5,951.9 1031.8,950.9 1032.0,950.0 1032.3,949.2 1032.5,948.4 1032.8,947.7 1033.0,947.0 1033.3,946.4 1033.5,945.8 1033.8,945.3 1034.0,944.7 1034.2,944.2 1034.5,943.8 1034.7,943.3 1035.0,942.9 1035.2,942.5 1035.5,942.1 1035.7,941.7 1036.0,941.4 1036.2,941.1 1036.5,940.8 1036.7,940.5 1037.0,940.2 1037.2,939.9 1037.5,939.6 1037.7,939.4 1037.9,939.1 1038.2,938.9 1038.4,938.6 1038.7,938.4 1038.9,938.2 1039.2,938.0 1039.4,937.8 1039.7,937.6 1039.9,937.4 1040.2,937.2 1040.4,937.1 1040.7,936.9 1040.9,936.7 1041.2,936.6 1041.4,936.4 1041.7,936.3 1041.9,936.1 1042.1,936.0 1042.4,935.8 1042.6,935.7 1042.9,935.6 1043.1,935.4 1043.4,935.3 1043.6,935.2 1043.9,935.1 1044.1,935.0 1044.4,934.8 1044.6,934.7 1044.9,934.6 1045.1,934.5 1045.4,934.4 1045.6,934.3 1045.9,934.2 1046.1,934.1 1046.3,934.0 1046.6,934.0 1046.8,933.9 1047.1,933.8 1047.3,933.7 1047.6,933.6 1047.8,933.6 1048.1,933.5 1048.3,933.4 1048.6,933.3 1048.8,933.3 1049.1,933.2 1049.3,933.1 1049.6,933.1 1049.8,933.0 1050.1,932.9 1050.3,932.9 1050.5,932.8 1050.8,932.8 1051.0,932.7 1051.3,932.6 1051.5,932.6 1051.8,932.5 1052.0,932.5 1052.3,932.4 1052.5,932.4 1052.8,932.4 1053.0,932.3 1053.3,932.3 1053.5,932.2 1053.8,932.2 1054.0,932.1 1054.2,932.1 1054.5,932.1 1054.7,932.0 1055.0,932.0 1055.2,931.9 1055.5,931.9 1055.7,931.9 1056.0,931.8 1056.2,931.8 1056.5,931.8 1056.7,931.7 1057.0,931.7 1057.2,931.7 1057.5,931.7 1057.7,931.6 1058.0,931.6 1058.2,931.6 1058.4,931.5 1058.7,931.5 1058.9,931.5 1059.2,931.5 1059.4,931.4 1059.7,931.4 1059.9,931.4 1060.2,931.4 1060.4,931.4 1060.7,931.3 1060.9,931.3 1061.2,931.3 1061.4,931.3 1061.7,931.3 1061.9,931.2 1062.2,931.2 1062.4,931.2"/>
<polyline points="1062.4,931.2 1062.4,965.6"/>
<polyline points="1067.0,998.8 1067.2,997.9 1067.5,995.5 1067.7,992.0 1068.0,988.1 1068.2,984.1 1068.5,980.1 1068.7,976.3 1069.0,972.7 1069.2,969.4 1069.5,966.4 1069.7,963.6 1070.0,961.1 1070.2,958.8 1070.5,956.7 1070.7,954.7 1070.9,953.0 1071.2,951.4 1071.4,949.9 1071.7,948.6 1071.9,947.4 1072.2,946.2 1072.4,945.2 1072.7,944.2 1072.9,943.4 1073.2,942.5 1073.4,941.8 1073.7,941.1 1073.9,940.4 1074.1,939.8 1074.4,939.2 1074.6,938.7 1074.9,938.2 1075.1,937.7 1075.4,937.3 1075.6,936.9 1075.9,936.5 1076.1,936.1 1076.4,935.7 1076.6,935.4 1076.9,935.1 1077.1,934.8 1077.4,934.5 1077.6,934.2 1077.8,933.9 1078.1,933.6 1078.3,933.4 1078.6,933.1 1078.8,932.9 1079.1,932.7 1079.3,932.5 1079.6,932.3 1079.8,932.0 1080.1,931.9 1080.3,931.7 1080.6,931.5 1080.8,931.3 1081.0,931.1 1081.3,931.0 1081.5,930.8 1081.8,930.6 1082.0,930.5 1082.3,930.3 1082.5,930.2 1082.8,930.0 1083.0,929.9 1083.3,929.8 1083.5,929.6 1083.8,929.5 1084.0,929.4 1084.3,929.3 1084.5,929.2 1084.7,929.1 1085.0,928.9 1085.2,928.8 1085.5,928.7 1085.7,928.6 1086.0,928.5 1086.2,928.4 1086.5,928.3 1086.7,928.2 1087.0,928.2 1087.2,928.1 1087.5,928.0 1087.7,927.9 1088.0,927.8 1088.2,927.8 1088.4,927.7 1088.7,927.6 1088.9,927.5 1089.2,927.5 1089.4,927.4 1089.7,927.3 1089.9,927.3 1090.2,927.2 1090.4,927.1 1090.7,927.1 1090.9,927.0 1091.2,927.0 1091.4,926.9 1091.6,926.9 1091.9,926.8 1092.1,926.8 1092.4,926.7 1092.6,926.7 1092.9,926.6 1093.1,926.6 1093.4,926.5 1093.6,926.5 1093.9,926.4 1094.1,926.4 1094.4,926.3 1094.6,926.3 1094.9,926.3 1095.1,926.2 1095.3,926.2 1095.6,926.2 1095.8,926.1 1096.1,926.1 1096.3,926.1 1096.6,926.0 1096.8,926.0 1097.1,926.0 1097.3,925.9 1097.6,925.9 1097.8,925.9 1098.1,925.9 1098.3,925.8 1098.5,925.8 1098.8,925.8 1099.0,925.8 1099.3,925.7 1099.5,925.7 1099.8,925.7 1100.0,925.7 1100.3,925.6 1100.5,925.6 1100.8,925.6 1101.0,925.6 1101.3,925.6 1101.5,925.5 1101.8,925.5 1102.0,925.5"/>
<polyline points="1102.0,925.5 1102.0,959.6"/>
<polyline points="1106.0,993.6 1106.2,992.5 1106.5,989.7 1106.7,985.8 1107.0,981.5 1107.2,977.2 1107.5,973.0 1107.7,969.1 1108.0,965.4 1108.2,962.1 1108.5,959.1 1108.7,956.4 1109.0,953.9 1109.2,951.6 1109.5,949.6 1109.7,947.8 1110.0,946.1 1110.2,944.6 1110.5,943.2 1110.7,941.9 1110.9,940.7 1111.2,939.7 1111.4,938.7 1111.7,937.8 1111.9,937.0 1112.2,936.2 1112.4,935.5 1112.7,934.8 1112.9,934.2 1113.2,933.6 1113.4,933.1 1113.7,932.6 1113.9,932.1 1114.2,931.7 1114.4,931.2 1114.7,930.8 1114.9,930.5 1115.2,930.1 1115.4,929.8 1115.6,929.4 1115.9,929.1 1116.1,928.8 1116.4,928.5 1116.6,928.3 1116.9,928.0 1117.1,927.7 1117.4,927.5 1117.6,927.3 1117.9,927.0 1118.1,926.8 1118.4,926.6 1118.6,926.4 1118.9,926.2 1119.1,926.0 1119.4,925.8 1119.6,925.7 1119.9,925.5 1120.1,925.3 1120.3,925.2 1120.6,925.0 1120.8,924.9 1121.1,924.7 1121.3,924.6 1121.6,924.5 1121.8,924.3 1122.1,924.2 1122.3,924.1 1122.6,924.0 1122.8,923.8 1123.1,923.7 1123.3,923.6 1123.6,923.5 1123.8,923.4 1124.1,923.3 1124.3,923.2 1124.6,923.1 1124.8,923.0 1125.1,922.9 1125.3,922.9 1125.5,922.8 1125.8,922.7 1126.0,922.6 1126.3,922.5 1126.5,922.5 1126.8,922.4 1127.0,922.3 1127.3,922.3 1127.5,922.2 1127.8,922.1 1128.0,922.1 1128.3,922.0 1128.5,922.0 1128.8,921.9 1129.0,921.9 1129.3,921.8 1129.5,921.8 1129.8,921.7 1130.0,921.7 1130.2,921.6 1130.5,921.6 1130.7,921.5 1131.0,921.5 1131.2,921.4 1131.5,921.4 1131.7,921.4 1132.0,921.3 1132.2,921.3 1132.5,921.3 1132.7,921.2 1133.0,921.2 1133.2,921.2 1133.5,921.1 1133.7,921.1 1134.0,921.1 1134.2,921.0 1134.5,921.0 1134.7,921.0 1134.9,921.0 1135.2,920.9 1135.4,920.9 1135.7,920.9 1135.9,920.9 1136.2,920.8 1136.4,920.8 1136.7,920.8 1136.9,920.8 1137.2,920.8 1137.4,920.7 1137.7,920.7 1137.9,920.7 1138.2,920.7 1138.4,920.7 1138.7,920.6 1138.9,920.6 1139.2,920.6 1139.4,920.6"/>
<polyline points="1139.4,920.6 1139.4,954.6"/>
<polyline points="1144.0,989.6 1144.2,988.3 1144.5,984.9 1144.7,980.3 1145.0,975.5 1145.2,970.7 1145.5,966.2 1145.7,962.1 1146.0,958.3 1146.2,954.9 1146.5,951.9 1146.7,949.1 1147.0,946.6 1147.2,944.4 1147.5,942.3 1147.7,940.5 1148.0,938.9 1148.2,937.4 1148.5,936.0 1148.7,934.8 1148.9,933.7 1149.2,932.6 1149.4,931.7 1149.7,930.8 1149.9,930.0 1150.2,929.3 1150.4,928.6 1150.7,927.9 1150.9,927.3 1151.2,926.8 1151.4,926.3 1151.7,925.8 1151.9,925.3 1152.2,924.9 1152.4,924.4 1152.7,924.1 1152.9,923.7 1153.1,923.3 1153.4,923.0 1153.6,922.7 1153.9,922.4 1154.1,922.1 1154.4,921.8 1154.6,921.5 1154.9,921.3 1155.1,921.0 1155.4,920.8 1155.6,920.6 1155.9,920.4 1156.1,920.2 1156.4,920.0 1156.6,919.8 1156.9,919.6 1157.1,919.4 1157.4,919.2 1157.6,919.1 1157.8,918.9 1158.1,918.8 1158.3,918.6 1158.6,918.5 1158.8,918.3 1159.1,918.2 1159.3,918.1 1159.6,918.0 1159.8,917.9 1160.1,917.7 1160.3,917.6 1160.6,917.5 1160.8,917.4 1161.1,917.3 1161.3,917.2 1161.6,917.1 1161.8,917.1 1162.0,917.0 1162.3,916.9 1162.5,916.8 1162.8,916.7 1163.0,916.7 1163.3,916.6 1163.5,916.5 1163.8,916.5 1164.0,916.4 1164.3,916.3 1164.5,916.3 1164.8,916.2 1165.0,916.2 1165.3,916.1 1165.5,916.1 1165.8,916.0 1166.0,916.0 1166.3,915.9 1166.5,915.9 1166.7,915.8 1167.0,915.8 1167.2,915.8 1167.5,915.7 1167.7,915.7 1168.0,915.6 1168.2,915.6 1168.5,915.6 1168.7,915.5 1169.0,915.5 1169.2,915.5 1169.5,915.5 1169.7,915.4 1170.0,915.4 1170.2,915.4 1170.5,915.3 1170.7,915.3 1170.9,915.3 1171.2,915.3 1171.4,915.3 1171.7,915.2 1171.9,915.2 1172.2,915.2 1172.4,915.2 1172.7,915.2 1172.9,915.1 1173.2,915.1 1173.4,915.1 1173.7,915.1 1173.9,915.1 1174.2,915.1 1174.4,915.1 1174.7,915.0 1174.9,915.0 1175.2,915.0 1175.4,915.0"/>
<polyline points="1175.4,915.0 1175.4,949.6"/>
<polyline points="1179.4,984.6 1179.6,983.3 1179.9,980.0 1180.1,975.6 1180.4,970.9 1180.6,966.1 1180.9,961.6 1181.1,957.5 1181.4,953.7 1181.6,950.2 1181.9,947.1 1182.1,944.3 1182.4,941.8 1182.6,939.5 1182.8,937.4 1183.1,935.5 1183.3,933.8 1183.6,932.3 1183.8,930.9 1184.1,929.7 1184.3,928.5 1184.6,927.4 1184.8,926.5 1185.1,925.6 1185.3,924.7 1185.5,924.0 1185.8,923.3 1186.0,922.6 1186.3,922.0 1186.5,921.4 1186.8,920.9 1187.0,920.4 1187.3,919.9 1187.5,919.4 1187.8,919.0 1188.0,918.6 1188.3,918.2 1188.5,917.9 1188.7,917.5 1189.0,917.2 1189.2,916.9 1189.5,916.6 1189.7,916.3 1190.0,916.1 1190.2,915.8 1190.5,915.6 1190.7,915.3 1191.0,915.1 1191.2,914.9 1191.4,914.7 1191.7,914.5 1191.9,914.3 1192.2,914.1 1192.4,913.9 1192.7,913.8 1192.9,913.6 1193.2,913.4 1193.4,913.3 1193.7,913.1 1193.9,913.0 1194.2,912.9 1194.4,912.7 1194.6,912.6 1194.9,912.5 1195.1,912.4 1195.4,912.3 1195.6,912.1 1195.9,912.0 1196.1,911.9 1196.4,911.8 1196.6,911.7 1196.9,911.7 1197.1,911.6 1197.4,911.5 1197.6,911.4 1197.8,911.3 1198.1,911.3 1198.3,911.2 1198.6,911.1 1198.8,911.0 1199.1,911.0 1199.3,910.9 1199.6,910.9 1199.8,910.8 1200.1,910.7 1200.3,910.7 1200.5,910.6 1200.8,910.6 1201.0,910.5 1201.3,910.5 1201.5,910.4 1201.8,910.4 1202.0,910.4 1202.3,910.3 1202.5,910.3 1202.8,910.2 1203.0,910.2 1203.3,910.2 1203.5,910.1 1203.7,910.1 1204.0,910.1 1204.2,910.0 1204.5,910.0 1204.7,910.0 1205.0,910.0 1205.2,909.9 1205.5,909.9 1205.7,909.9 1206.0,909.9 1206.2,909.8 1206.4,909.8 1206.7,909.8 1206.9,909.8 1207.2,909.7 1207.4,909.7 1207.7,909.7 1207.9,909.7 1208.2,909.7 1208.4,909.7 1208.7,909.6 1208.9,909.6 1209.2,909.6 1209.4,909.6"/>
<polyline points="1209.4,909.6 1209.4,944.6"/>
<polyline points="1213.0,980.0 1213.2,978.8 1213.5,975.5 1213.7,971.2 1214.0,966.4 1214.2,961.6 1214.5,957.1 1214.7,952.9 1215.0,949.0 1215.2,945.5 1215.5,942.3 1215.7,939.5 1216.0,936.9 1216.2,934.5 1216.4,932.4 1216.7,930.5 1216.9,928.8 1217.2,927.2 1217.4,925.7 1217.7,924.4 1217.9,923.2 1218.2,922.1 1218.4,921.1 1218.7,920.2 1218.9,919.4 1219.2,918.6 1219.4,917.8 1219.6,917.2 1219.9,916.5 1220.1,915.9 1220.4,915.4 1220.6,914.9 1220.9,914.4 1221.1,913.9 1221.4,913.5 1221.6,913.1 1221.9,912.7 1222.1,912.3 1222.4,912.0 1222.6,911.6 1222.8,911.3 1223.1,911.0 1223.3,910.7 1223.6,910.5 1223.8,910.2 1224.1,910.0 1224.3,909.7 1224.6,909.5 1224.8,909.3 1225.1,909.1 1225.3,908.8 1225.6,908.7 1225.8,908.5 1226.0,908.3 1226.3,908.1 1226.5,907.9 1226.8,907.8 1227.0,907.6 1227.3,907.5 1227.5,907.3 1227.8,907.2 1228.0,907.1 1228.3,906.9 1228.5,906.8 1228.8,906.7 1229.0,906.6 1229.3,906.5 1229.5,906.4 1229.7,906.3 1230.0,906.2 1230.2,906.1 1230.5,906.0 1230.7,905.9 1231.0,905.8 1231.2,905.7 1231.5,905.6 1231.7,905.6 1232.0,905.5 1232.2,905.4 1232.5,905.3 1232.7,905.3 1232.9,905.2 1233.2,905.1 1233.4,905.1 1233.7,905.0 1233.9,905.0 1234.2,904.9 1234.4,904.9 1234.7,904.8 1234.9,904.8 1235.2,904.7 1235.4,904.7 1235.7,904.6 1235.9,904.6 1236.1,904.6 1236.4,904.5 1236.6,904.5 1236.9,904.4 1237.1,904.4 1237.4,904.4 1237.6,904.3 1237.9,904.3 1238.1,904.3 1238.4,904.3 1238.6,904.2 1238.9,904.2 1239.1,904.2 1239.3,904.1 1239.6,904.1 1239.8,904.1 1240.1,904.1 1240.3,904.1 1240.6,904.0 1240.8,904.0 1241.1,904.0 1241.3,904.0 1241.6,904.0 1241.8,903.9 1242.1,903.9 1242.3,903.9"/>
<polyline points="1242.3,903.9 1242.3,938.8"/>
<polyline points="1245.7,974.8 1245.9,973.6 1246.2,970.5 1246.4,966.2 1246.7,961.5 1246.9,956.8 1247.2,952.2 1247.4,948.0 1247.7,944.1 1247.9,940.5 1248.2,937.3 1248.4,934.4 1248.6,931.7 1248.9,929.3 1249.1,927.2 1249.4,925.2 1249.6,923.4 1249.9,921.8 1250.1,920.3 1250.4,919.0 1250.6,917.8 1250.9,916.6 1251.1,915.6 1251.3,914.7 1251.6,913.8 1251.8,913.0 1252.1,912.2 1252.3,911.5 1252.6,910.9 1252.8,910.3 1253.1,909.7 1253.3,909.2 1253.6,908.7 1253.8,908.2 1254.0,907.8 1254.3,907.4 1254.5,907.0 1254.8,906.6 1255.0,906.3 1255.3,905.9 1255.5,905.6 1255.8,905.3 1256.0,905.0 1256.3,904.7 1256.5,904.5 1256.7,904.2 1257.0,904.0 1257.2,903.8 1257.5,903.5 1257.7,903.3 1258.0,903.1 1258.2,902.9 1258.5,902.8 1258.7,902.6 1259.0,902.4 1259.2,902.2 1259.5,902.1 1259.7,901.9 1259.9,901.8 1260.2,901.7 1260.4,901.5 1260.7,901.4 1260.9,901.3 1261.2,901.1 1261.4,901.0 1261.7,900.9 1261.9,900.8 1262.2,900.7 1262.4,900.6 1262.6,900.5 1262.9,900.4 1263.1,900.3 1263.4,900.2 1263.6,900.2 1263.9,900.1 1264.1,900.0 1264.4,899.9 1264.6,899.9 1264.9,899.8 1265.1,899.7 1265.3,899.7 1265.6,899.6 1265.8,899.5 1266.1,899.5 1266.3,899.4 1266.6,899.4 1266.8,899.3 1267.1,899.3 1267.3,899.2 1267.6,899.2 1267.8,899.1 1268.0,899.1 1268.3,899.1 1268.5,899.0 1268.8,899.0 1269.0,899.0 1269.3,898.9 1269.5,898.9 1269.8,898.9 1270.0,898.8 1270.3,898.8 1270.5,898.8 1270.7,898.7 1271.0,898.7 1271.2,898.7 1271.5,898.7 1271.7,898.6 1272.0,898.6 1272.2,898.6 1272.5,898.6 1272.7,898.5 1273.0,898.5 1273.2,898.5"/>
<polyline points="1273.2,898.5 1273.2,933.6"/>
<polyline points="1276.5,970.4 1276.7,969.2 1277.0,966.1 1277.2,961.8 1277.5,957.0 1277.7,952.2 1278.0,947.6 1278.2,943.3 1278.5,939.3 1278.7,935.6 1279.0,932.3 1279.2,929.3 1279.5,926.5 1279.7,924.0 1279.9,921.8 1280.2,919.7 1280.4,917.9 1280.7,916.2 1280.9,914.7 1281.2,913.3 1281.4,912.0 1281.7,910.8 1281.9,909.8 1282.2,908.8 1282.4,907.9 1282.7,907.0 1282.9,906.3 1283.1,905.5 1283.4,904.9 1283.6,904.2 1283.9,903.7 1284.1,903.1 1284.4,902.6 1284.6,902.1 1284.9,901.7 1285.1,901.2 1285.4,900.8 1285.6,900.5 1285.9,900.1 1286.1,899.8 1286.3,899.4 1286.6,899.1 1286.8,898.8 1287.1,898.6 1287.3,898.3 1287.6,898.0 1287.8,897.8 1288.1,897.6 1288.3,897.4 1288.6,897.1 1288.8,896.9 1289.1,896.7 1289.3,896.6 1289.5,896.4 1289.8,896.2 1290.0,896.0 1290.3,895.9 1290.5,895.7 1290.8,895.6 1291.0,895.5 1291.3,895.3 1291.5,895.2 1291.8,895.1 1292.0,895.0 1292.3,894.8 1292.5,894.7 1292.8,894.6 1293.0,894.5 1293.2,894.4 1293.5,894.3 1293.7,894.2 1294.0,894.2 1294.2,894.1 1294.5,894.0 1294.7,893.9 1295.0,893.8 1295.2,893.8 1295.5,893.7 1295.7,893.6 1296.0,893.6 1296.2,893.5 1296.4,893.4 1296.7,893.4 1296.9,893.3 1297.2,893.3 1297.4,893.2 1297.7,893.2 1297.9,893.1 1298.2,893.1 1298.4,893.0 1298.7,893.0 1298.9,893.0 1299.2,892.9 1299.4,892.9 1299.6,892.8 1299.9,892.8 1300.1,892.8 1300.4,892.7 1300.6,892.7 1300.9,892.7 1301.1,892.7 1301.4,892.6 1301.6,892.6 1301.9,892.6 1302.1,892.5 1302.4,892.5 1302.6,892.5"/>
<polyline points="1302.6,892.5 1302.6,928.3"/>
<polyline points="1305.7,965.8 1305.9,964.5 1306.2,961.2 1306.4,956.7 1306.7,951.7 1306.9,946.7 1307.2,941.9 1307.4,937.5 1307.7,933.4 1307.9,929.6 1308.2,926.2 1308.4,923.2 1308.7,920.4 1308.9,917.9 1309.2,915.7 1309.4,913.6 1309.7,911.8 1309.9,910.1 1310.1,908.6 1310.4,907.2 1310.6,906.0 1310.9,904.8 1311.1,903.7 1311.4,902.8 1311.6,901.9 1311.9,901.1 1312.1,900.3 1312.4,899.6 1312.6,898.9 1312.9,898.3 1313.1,897.7 1313.4,897.2 1313.6,896.7 1313.9,896.2 1314.1,895.8 1314.3,895.3 1314.6,895.0 1314.8,894.6 1315.1,894.2 1315.3,893.9 1315.6,893.6 1315.8,893.3 1316.1,893.0 1316.3,892.7 1316.6,892.4 1316.8,892.2 1317.1,891.9 1317.3,891.7 1317.6,891.5 1317.8,891.2 1318.1,891.0 1318.3,890.8 1318.6,890.7 1318.8,890.5 1319.0,890.3 1319.3,890.1 1319.5,890.0 1319.8,889.8 1320.0,889.7 1320.3,889.5 1320.5,889.4 1320.8,889.3 1321.0,889.1 1321.3,889.0 1321.5,888.9 1321.8,888.8 1322.0,888.7 1322.3,888.6 1322.5,888.5 1322.8,888.4 1323.0,888.3 1323.2,888.2 1323.5,888.1 1323.7,888.0 1324.0,887.9 1324.2,887.9 1324.5,887.8 1324.7,887.7 1325.0,887.6 1325.2,887.6 1325.5,887.5 1325.7,887.4 1326.0,887.4 1326.2,887.3 1326.5,887.3 1326.7,887.2 1327.0,887.2 1327.2,887.1 1327.4,887.1 1327.7,887.0 1327.9,887.0 1328.2,886.9 1328.4,886.9 1328.7,886.9 1328.9,886.8 1329.2,886.8 1329.4,886.7 1329.7,886.7 1329.9,886.7 1330.2,886.6 1330.4,886.6 1330.7,886.6 1330.9,886.6 1331.2,886.5 1331.4,886.5"/>
<polyline points="1331.4,886.5 1331.4,923.1"/>
<polyline points="1334.2,960.6 1334.4,959.3 1334.7,955.8 1334.9,951.0 1335.2,945.8 1335.4,940.7 1335.7,935.7 1335.9,931.1 1336.2,927.0 1336.4,923.1 1336.7,919.7 1336.9,916.6 1337.2,913.8 1337.4,911.3 1337.7,909.1 1337.9,907.0 1338.2,905.2 1338.4,903.5 1338.6,902.0 1338.9,900.6 1339.1,899.4 1339.4,898.2 1339.6,897.2 1339.9,896.2 1340.1,895.4 1340.4,894.5 1340.6,893.8 1340.9,893.1 1341.1,892.4 1341.4,891.8 1341.6,891.3 1341.9,890.8 1342.1,890.3 1342.3,889.8 1342.6,889.4 1342.8,888.9 1343.1,888.6 1343.3,888.2 1343.6,887.8 1343.8,887.5 1344.1,887.2 1344.3,886.9 1344.6,886.6 1344.8,886.3 1345.1,886.1 1345.3,885.8 1345.6,885.6 1345.8,885.4 1346.1,885.1 1346.3,884.9 1346.5,884.7 1346.8,884.5 1347.0,884.4 1347.3,884.2 1347.5,884.0 1347.8,883.9 1348.0,883.7 1348.3,883.5 1348.5,883.4 1348.8,883.3 1349.0,883.1 1349.3,883.0 1349.5,882.9 1349.8,882.8 1350.0,882.6 1350.3,882.5 1350.5,882.4 1350.7,882.3 1351.0,882.2 1351.2,882.1 1351.5,882.0 1351.7,882.0 1352.0,881.9 1352.2,881.8 1352.5,881.7 1352.7,881.6 1353.0,881.6 1353.2,881.5 1353.5,881.4 1353.7,881.4 1354.0,881.3 1354.2,881.2 1354.4,881.2 1354.7,881.1 1354.9,881.1 1355.2,881.0 1355.4,881.0 1355.7,880.9 1355.9,880.9 1356.2,880.8 1356.4,880.8 1356.7,880.7 1356.9,880.7 1357.2,880.7 1357.4,880.6 1357.7,880.6 1357.9,880.6 1358.2,880.5 1358.4,880.5"/>
<polyline points="1358.4,880.5 1358.4,917.8"/>
<polyline points="1361.5,954.6 1361.7,953.2 1362.0,949.6 1362.2,944.7 1362.5,939.4 1362.7,934.2 1363.0,929.2 1363.2,924.6 1363.5,920.4 1363.7,916.6 1364.0,913.2 1364.2,910.1 1364.5,907.4 1364.7,904.9 1365.0,902.7 1365.2,900.7 1365.4,898.9 1365.7,897.3 1365.9,895.8 1366.2,894.5 1366.4,893.3 1366.7,892.2 1366.9,891.2 1367.2,890.3 1367.4,889.4 1367.7,888.6 1367.9,887.9 1368.2,887.2 1368.4,886.6 1368.7,886.0 1368.9,885.5 1369.2,885.0 1369.4,884.5 1369.6,884.1 1369.9,883.7 1370.1,883.3 1370.4,882.9 1370.6,882.5 1370.9,882.2 1371.1,881.9 1371.4,881.6 1371.6,881.3 1371.9,881.0 1372.1,880.7 1372.4,880.5 1372.6,880.2 1372.9,880.0 1373.1,879.8 1373.3,879.6 1373.6,879.4 1373.8,879.2 1374.1,879.0 1374.3,878.8 1374.6,878.7 1374.8,878.5 1375.1,878.3 1375.3,878.2 1375.6,878.0 1375.8,877.9 1376.1,877.8 1376.3,877.6 1376.6,877.5 1376.8,877.4 1377.0,877.3 1377.3,877.2 1377.5,877.0 1377.8,876.9 1378.0,876.8 1378.3,876.8 1378.5,876.7 1378.8,876.6 1379.0,876.5 1379.3,876.4 1379.5,876.3 1379.8,876.2 1380.0,876.2 1380.3,876.1 1380.5,876.0 1380.8,876.0 1381.0,875.9 1381.2,875.8 1381.5,875.8 1381.7,875.7 1382.0,875.7 1382.2,875.6 1382.5,875.6 1382.7,875.5 1383.0,875.5 1383.2,875.4 1383.5,875.4 1383.7,875.4 1384.0,875.3 1384.2,875.3 1384.5,875.2 1384.7,875.2"/>
<polyline points="1384.7,875.2 1384.7,911.8"/>
<polyline points="1387.5,950.1 1387.7,948.6 1388.0,944.8 1388.2,939.6 1388.5,934.0 1388.7,928.4 1389.0,923.2 1389.2,918.4 1389.5,914.1 1389.7,910.2 1390.0,906.6 1390.2,903.5 1390.5,900.7 1390.7,898.1 1390.9,895.9 1391.2,893.8 1391.4,892.0 1391.7,890.4 1391.9,888.9 1392.2,887.6 1392.4,886.3 1392.7,885.2 1392.9,884.2 1393.2,883.3 1393.4,882.5 1393.7,881.7 1393.9,880.9 1394.1,880.3 1394.4,879.7 1394.6,879.1 1394.9,878.5 1395.1,878.0 1395.4,877.6 1395.6,877.1 1395.9,876.7 1396.1,876.3 1396.4,875.9 1396.6,875.6 1396.9,875.2 1397.1,874.9 1397.3,874.6 1397.6,874.3 1397.8,874.1 1398.1,873.8 1398.3,873.5 1398.6,873.3 1398.8,873.1 1399.1,872.9 1399.3,872.6 1399.6,872.4 1399.8,872.3 1400.0,872.1 1400.3,871.9 1400.5,871.7 1400.8,871.6 1401.0,871.4 1401.3,871.2 1401.5,871.1 1401.8,871.0 1402.0,870.8 1402.3,870.7 1402.5,870.6 1402.8,870.5 1403.0,870.3 1403.2,870.2 1403.5,870.1 1403.7,870.0 1404.0,869.9 1404.2,869.8 1404.5,869.7 1404.7,869.7 1405.0,869.6 1405.2,869.5 1405.5,869.4 1405.7,869.3 1406.0,869.3 1406.2,869.2 1406.4,869.1 1406.7,869.1 1406.9,869.0 1407.2,868.9 1407.4,868.9 1407.7,868.8 1407.9,868.8 1408.2,868.7 1408.4,868.7 1408.7,868.6 1408.9,868.6 1409.2,868.5 1409.4,868.5"/>
<polyline points="1409.4,868.5 1409.4,906.6"/>
<polyline points="1412.2,944.8 1412.4,943.2 1412.7,939.1 1412.9,933.7 1413.2,927.8 1413.4,922.0 1413.7,916.7 1413.9,911.7 1414.2,907.3 1414.4,903.3 1414.7,899.7 1414.9,896.5 1415.2,893.6 1415.4,891.1 1415.6,888.8 1415.9,886.8 1416.1,885.0 1416.4,883.4 1416.6,881.9 1416.9,880.6 1417.1,879.4 1417.4,878.3 1417.6,877.3 1417.9,876.4 1418.1,875.5 1418.3,874.8 1418.6,874.1 1418.8,873.4 1419.1,872.8 1419.3,872.2 1419.6,871.7 1419.8,871.2 1420.1,870.7 1420.3,870.3 1420.6,869.9 1420.8,869.5 1421.1,869.1 1421.3,868.8 1421.5,868.4 1421.8,868.1 1422.0,867.8 1422.3,867.5 1422.5,867.2 1422.8,867.0 1423.0,866.7 1423.3,866.5 1423.5,866.3 1423.8,866.0 1424.0,865.8 1424.3,865.6 1424.5,865.4 1424.7,865.2 1425.0,865.1 1425.2,864.9 1425.5,864.7 1425.7,864.6 1426.0,864.4 1426.2,864.3 1426.5,864.1 1426.7,864.0 1427.0,863.9 1427.2,863.7 1427.5,863.6 1427.7,863.5 1427.9,863.4 1428.2,863.3 1428.4,863.2 1428.7,863.1 1428.9,863.0 1429.2,862.9 1429.4,862.8 1429.7,862.7 1429.9,862.6 1430.2,862.6 1430.4,862.5 1430.6,862.4 1430.9,862.3 1431.1,862.3 1431.4,862.2 1431.6,862.1 1431.9,862.1 1432.1,862.0 1432.4,862.0 1432.6,861.9 1432.9,861.8 1433.1,861.8 1433.4,861.7 1433.6,861.7"/>
<polyline points="1433.6,861.7 1433.6,901.3"/>
<polyline points="1436.5,939.6 1436.7,937.9 1437.0,933.6 1437.2,927.8 1437.5,921.7 1437.7,915.8 1438.0,910.2 1438.2,905.2 1438.5,900.7 1438.7,896.6 1439.0,893.0 1439.2,889.8 1439.5,887.0 1439.7,884.4 1440.0,882.2 1440.2,880.2 1440.4,878.4 1440.7,876.8 1440.9,875.4 1441.2,874.1 1441.4,872.9 1441.7,871.8 1441.9,870.8 1442.2,870.0 1442.4,869.1 1442.7,868.4 1442.9,867.7 1443.2,867.1 1443.4,866.5 1443.6,865.9 1443.9,865.4 1444.1,864.9 1444.4,864.5 1444.6,864.0 1444.9,863.6 1445.1,863.2 1445.4,862.9 1445.6,862.5 1445.9,862.2 1446.1,861.9 1446.4,861.6 1446.6,861.3 1446.8,861.0 1447.1,860.8 1447.3,860.5 1447.6,860.3 1447.8,860.1 1448.1,859.9 1448.3,859.7 1448.6,859.5 1448.8,859.3 1449.1,859.1 1449.3,858.9 1449.6,858.7 1449.8,858.6 1450.1,858.4 1450.3,858.3 1450.5,858.1 1450.8,858.0 1451.0,857.8 1451.3,857.7 1451.5,857.6 1451.8,857.5 1452.0,857.3 1452.3,857.2 1452.5,857.1 1452.8,857.0 1453.0,856.9 1453.3,856.8 1453.5,856.7 1453.8,856.6 1454.0,856.6 1454.2,856.5 1454.5,856.4 1454.7,856.3 1455.0,856.3 1455.2,856.2 1455.5,856.1 1455.7,856.0 1456.0,856.0 1456.2,855.9 1456.5,855.9 1456.7,855.8 1457.0,855.8 1457.2,855.7"/>
<polyline points="1457.2,855.7 1457.2,894.6"/>
<polyline points="1459.5,933.3 1459.7,931.6 1460.0,927.1 1460.2,921.1 1460.5,914.9 1460.7,908.8 1461.0,903.2 1461.2,898.1 1461.5,893.5 1461.7,889.4 1461.9,885.8 1462.2,882.6 1462.4,879.8 1462.7,877.2 1462.9,875.0 1463.2,873.0 1463.4,871.3 1463.7,869.7 1463.9,868.3 1464.1,867.0 1464.4,865.9 1464.6,864.8 1464.9,863.9 1465.1,863.0 1465.4,862.2 1465.6,861.5 1465.9,860.8 1466.1,860.2 1466.3,859.6 1466.6,859.0 1466.8,858.5 1467.1,858.1 1467.3,857.6 1467.6,857.2 1467.8,856.8 1468.1,856.4 1468.3,856.1 1468.5,855.7 1468.8,855.4 1469.0,855.1 1469.3,854.8 1469.5,854.6 1469.8,854.3 1470.0,854.0 1470.3,853.8 1470.5,853.6 1470.7,853.3 1471.0,853.1 1471.2,852.9 1471.5,852.7 1471.7,852.5 1472.0,852.4 1472.2,852.2 1472.5,852.0 1472.7,851.9 1472.9,851.7 1473.2,851.6 1473.4,851.4 1473.7,851.3 1473.9,851.1 1474.2,851.0 1474.4,850.9 1474.7,850.8 1474.9,850.7 1475.1,850.5 1475.4,850.4 1475.6,850.3 1475.9,850.2 1476.1,850.1 1476.4,850.1 1476.6,850.0 1476.9,849.9 1477.1,849.8 1477.3,849.7 1477.6,849.7 1477.8,849.6 1478.1,849.5 1478.3,849.4 1478.6,849.4 1478.8,849.3 1479.1,849.3 1479.3,849.2"/>
<polyline points="1479.3,849.2 1479.3,889.1"/>
<polyline points="1481.5,928.0 1481.7,926.0 1482.0,921.1 1482.2,914.7 1482.5,908.0 1482.7,901.6 1483.0,895.7 1483.2,890.5 1483.5,885.8 1483.7,881.7 1484.0,878.0 1484.2,874.8 1484.5,872.0 1484.7,869.6 1484.9,867.4 1485.2,865.4 1485.4,863.7 1485.7,862.2 1485.9,860.8 1486.2,859.6 1486.4,858.4 1486.7,857.4 1486.9,856.5 1487.2,855.7 1487.4,854.9 1487.7,854.2 1487.9,853.6 1488.1,853.0 1488.4,852.4 1488.6,851.9 1488.9,851.4 1489.1,850.9 1489.4,850.5 1489.6,850.1 1489.9,849.7 1490.1,849.3 1490.4,849.0 1490.6,848.7 1490.9,848.3 1491.1,848.0 1491.3,847.8 1491.6,847.5 1491.8,847.2 1492.1,847.0 1492.3,846.7 1492.6,846.5 1492.8,846.3 1493.1,846.1 1493.3,845.9 1493.6,845.7 1493.8,845.5 1494.1,845.3 1494.3,845.1 1494.6,845.0 1494.8,844.8 1495.0,844.6 1495.3,844.5 1495.5,844.4 1495.8,844.2 1496.0,844.1 1496.3,844.0 1496.5,843.8 1496.8,843.7 1497.0,843.6 1497.3,843.5 1497.5,843.4 1497.8,843.3 1498.0,843.2 1498.2,843.1 1498.5,843.0 1498.7,842.9 1499.0,842.8 1499.2,842.8 1499.5,842.7 1499.7,842.6 1500.0,842.5 1500.2,842.5 1500.5,842.4 1500.7,842.3 1501.0,842.3 1501.2,842.2"/>
<polyline points="1501.2,842.2 1501.2,882.6"/>
<polyline points="1503.4,921.1 1503.6,919.0 1503.9,913.7 1504.1,907.0 1504.4,900.1 1504.6,893.5 1504.9,887.6 1505.1,882.2 1505.3,877.5 1505.6,873.4 1505.8,869.7 1506.1,866.6 1506.3,863.8 1506.6,861.3 1506.8,859.1 1507.1,857.2 1507.3,855.5 1507.5,854.0 1507.8,852.7 1508.0,851.5 1508.3,850.4 1508.5,849.4 1508.8,848.5 1509.0,847.7 1509.2,847.0 1509.5,846.3 1509.7,845.7 1510.0,845.1 1510.2,844.5 1510.5,844.0 1510.7,843.5 1510.9,843.1 1511.2,842.7 1511.4,842.3 1511.7,841.9 1511.9,841.6 1512.2,841.2 1512.4,840.9 1512.7,840.6 1512.9,840.3 1513.1,840.0 1513.4,839.8 1513.6,839.5 1513.9,839.3 1514.1,839.0 1514.4,838.8 1514.6,838.6 1514.8,838.4 1515.1,838.2 1515.3,838.0 1515.6,837.9 1515.8,837.7 1516.1,837.5 1516.3,837.4 1516.5,837.2 1516.8,837.1 1517.0,836.9 1517.3,836.8 1517.5,836.6 1517.8,836.5 1518.0,836.4 1518.2,836.3 1518.5,836.2 1518.7,836.1 1519.0,836.0 1519.2,835.9 1519.5,835.8 1519.7,835.7 1520.0,835.6 1520.2,835.5 1520.4,835.4 1520.7,835.3 1520.9,835.3 1521.2,835.2 1521.4,835.1 1521.7,835.1 1521.9,835.0"/>
<polyline points="1521.9,835.0 1521.9,875.8"/>
<polyline points="1524.3,914.9 1524.5,912.6 1524.8,906.8 1525.0,899.6 1525.3,892.3 1525.5,885.5 1525.8,879.4 1526.0,874.0 1526.3,869.2 1526.5,865.1 1526.7,861.5 1527.0,858.3 1527.2,855.6 1527.5,853.2 1527.7,851.1 1528.0,849.3 1528.2,847.6 1528.5,846.2 1528.7,844.9 1528.9,843.8 1529.2,842.7 1529.4,841.8 1529.7,840.9 1529.9,840.2 1530.2,839.4 1530.4,838.8 1530.7,838.2 1530.9,837.6 1531.1,837.1 1531.4,836.6 1531.6,836.2 1531.9,835.7 1532.1,835.3 1532.4,834.9 1532.6,834.6 1532.9,834.2 1533.1,833.9 1533.3,833.6 1533.6,833.3 1533.8,833.0 1534.1,832.8 1534.3,832.5 1534.6,832.3 1534.8,832.0 1535.1,831.8 1535.3,831.6 1535.6,831.4 1535.8,831.2 1536.0,831.0 1536.3,830.8 1536.5,830.6 1536.8,830.5 1537.0,830.3 1537.3,830.2 1537.5,830.0 1537.8,829.9 1538.0,829.7 1538.2,829.6 1538.5,829.5 1538.7,829.4 1539.0,829.2 1539.2,829.1 1539.5,829.0 1539.7,828.9 1540.0,828.8 1540.2,828.7 1540.4,828.6 1540.7,828.5 1540.9,828.4 1541.2,828.4 1541.4,828.3 1541.7,828.2 1541.9,828.1 1542.2,828.1 1542.4,828.0"/>
<polyline points="1542.4,828.0 1542.4,868.9"/>
<polyline points="1544.4,907.6 1544.6,905.0 1544.9,898.7 1545.1,891.0 1545.4,883.4 1545.6,876.4 1545.9,870.1 1546.1,864.6 1546.4,859.8 1546.6,855.7 1546.9,852.1 1547.1,849.0 1547.3,846.4 1547.6,844.0 1547.8,842.0 1548.1,840.2 1548.3,838.6 1548.6,837.3 1548.8,836.0 1549.1,834.9 1549.3,833.9 1549.5,833.0 1549.8,832.2 1550.0,831.5 1550.3,830.8 1550.5,830.2 1550.8,829.6 1551.0,829.0 1551.3,828.5 1551.5,828.1 1551.8,827.6 1552.0,827.2 1552.2,826.8 1552.5,826.5 1552.7,826.1 1553.0,825.8 1553.2,825.5 1553.5,825.2 1553.7,824.9 1554.0,824.6 1554.2,824.4 1554.4,824.1 1554.7,823.9 1554.9,823.7 1555.2,823.4 1555.4,823.2 1555.7,823.0 1555.9,822.8 1556.2,822.7 1556.4,822.5 1556.7,822.3 1556.9,822.2 1557.1,822.0 1557.4,821.9 1557.6,821.7 1557.9,821.6 1558.1,821.4 1558.4,821.3 1558.6,821.2 1558.9,821.1 1559.1,821.0 1559.3,820.9 1559.6,820.8 1559.8,820.7 1560.1,820.6 1560.3,820.5 1560.6,820.4 1560.8,820.3 1561.1,820.2 1561.3,820.1 1561.6,820.1 1561.8,820.0"/>
<polyline points="1561.8,820.0 1561.8,861.6"/>
<polyline points="1563.6,900.1 1563.8,897.2 1564.1,890.3 1564.3,882.1 1564.6,874.0 1564.8,866.7 1565.1,860.3 1565.3,854.7 1565.6,849.9 1565.8,845.7 1566.0,842.1 1566.3,839.1 1566.5,836.4 1566.8,834.1 1567.0,832.2 1567.3,830.4 1567.5,828.9 1567.8,827.5 1568.0,826.3 1568.2,825.3 1568.5,824.3 1568.7,823.4 1569.0,822.7 1569.2,821.9 1569.5,821.3 1569.7,820.7 1570.0,820.1 1570.2,819.6 1570.4,819.1 1570.7,818.6 1570.9,818.2 1571.2,817.8 1571.4,817.4 1571.7,817.1 1571.9,816.7 1572.2,816.4 1572.4,816.1 1572.6,815.8 1572.9,815.5 1573.1,815.2 1573.4,815.0 1573.6,814.7 1573.9,814.5 1574.1,814.3 1574.3,814.1 1574.6,813.9 1574.8,813.7 1575.1,813.5 1575.3,813.3 1575.6,813.1 1575.8,812.9 1576.1,812.8 1576.3,812.6 1576.5,812.5 1576.8,812.3 1577.0,812.2 1577.3,812.1 1577.5,811.9 1577.8,811.8 1578.0,811.7 1578.3,811.6 1578.5,811.5 1578.7,811.4 1579.0,811.3 1579.2,811.2 1579.5,811.1 1579.7,811.0 1580.0,810.9 1580.2,810.9 1580.5,810.8 1580.7,810.7"/>
<polyline points="1580.7,810.7 1580.7,853.6"/>
<polyline points="1582.4,892.6 1582.6,889.3 1582.9,881.7 1583.1,872.9 1583.4,864.4 1583.6,856.8 1583.9,850.1 1584.1,844.4 1584.4,839.5 1584.6,835.4 1584.8,831.8 1585.1,828.8 1585.3,826.2 1585.6,824.0 1585.8,822.0 1586.1,820.3 1586.3,818.9 1586.6,817.6 1586.8,816.4 1587.0,815.4 1587.3,814.4 1587.5,813.6 1587.8,812.8 1588.0,812.1 1588.3,811.5 1588.5,810.9 1588.7,810.4 1589.0,809.9 1589.2,809.4 1589.5,808.9 1589.7,808.5 1590.0,808.1 1590.2,807.8 1590.5,807.4 1590.7,807.1 1590.9,806.7 1591.2,806.4 1591.4,806.2 1591.7,805.9 1591.9,805.6 1592.2,805.4 1592.4,805.1 1592.7,804.9 1592.9,804.7 1593.1,804.5 1593.4,804.2 1593.6,804.1 1593.9,803.9 1594.1,803.7 1594.4,803.5 1594.6,803.4 1594.8,803.2 1595.1,803.0 1595.3,802.9 1595.6,802.8 1595.8,802.6 1596.1,802.5 1596.3,802.4 1596.6,802.3 1596.8,802.1 1597.0,802.0 1597.3,801.9 1597.5,801.8 1597.8,801.7 1598.0,801.6 1598.3,801.5 1598.5,801.5 1598.8,801.4 1599.0,801.3"/>
<polyline points="1599.0,801.3 1599.0,845.6"/>
<polyline points="1600.7,883.9 1600.9,880.5 1601.2,872.7 1601.4,863.6 1601.7,854.9 1601.9,847.0 1602.2,840.3 1602.4,834.5 1602.6,829.5 1602.9,825.3 1603.1,821.7 1603.4,818.7 1603.6,816.1 1603.9,813.8 1604.1,811.9 1604.3,810.2 1604.6,808.7 1604.8,807.4 1605.1,806.3 1605.3,805.2 1605.5,804.3 1605.8,803.5 1606.0,802.7 1606.3,802.0 1606.5,801.4 1606.8,800.8 1607.0,800.3 1607.2,799.7 1607.5,799.3 1607.7,798.8 1608.0,798.4 1608.2,798.0 1608.5,797.6 1608.7,797.3 1608.9,796.9 1609.2,796.6 1609.4,796.3 1609.7,796.0 1609.9,795.7 1610.2,795.5 1610.4,795.2 1610.6,795.0 1610.9,794.7 1611.1,794.5 1611.4,794.3 1611.6,794.1 1611.9,793.9 1612.1,793.7 1612.3,793.5 1612.6,793.4 1612.8,793.2 1613.1,793.0 1613.3,792.9 1613.5,792.7 1613.8,792.6 1614.0,792.5 1614.3,792.3 1614.5,792.2 1614.8,792.1 1615.0,792.0 1615.2,791.9 1615.5,791.8 1615.7,791.7 1616.0,791.6 1616.2,791.5 1616.5,791.4 1616.7,791.3"/>
<polyline points="1616.7,791.3 1616.7,836.9"/>
<polyline points="1618.4,874.7 1618.6,871.1 1618.9,862.6 1619.1,852.9 1619.4,843.7 1619.6,835.5 1619.9,828.5 1620.1,822.5 1620.4,817.5 1620.6,813.2 1620.9,809.6 1621.1,806.5 1621.3,803.9 1621.6,801.6 1621.8,799.7 1622.1,798.0 1622.3,796.6 1622.6,795.3 1622.8,794.2 1623.1,793.1 1623.3,792.2 1623.6,791.4 1623.8,790.6 1624.0,790.0 1624.3,789.3 1624.5,788.7 1624.8,788.2 1625.0,787.7 1625.3,787.2 1625.5,786.8 1625.8,786.3 1626.0,785.9 1626.2,785.5 1626.5,785.2 1626.7,784.8 1627.0,784.5 1627.2,784.2 1627.5,783.9 1627.7,783.6 1628.0,783.4 1628.2,783.1 1628.5,782.8 1628.7,782.6 1628.9,782.4 1629.2,782.2 1629.4,782.0 1629.7,781.8 1629.9,781.6 1630.2,781.4 1630.4,781.2 1630.7,781.0 1630.9,780.9 1631.2,780.7 1631.4,780.6 1631.6,780.4 1631.9,780.3 1632.1,780.2 1632.4,780.0 1632.6,779.9 1632.9,779.8 1633.1,779.7 1633.4,779.6 1633.6,779.5 1633.9,779.4 1634.1,779.3"/>
<polyline points="1634.1,779.3 1634.1,826.9"/>
<polyline points="1635.5,864.3 1635.7,860.5 1636.0,851.7 1636.2,841.7 1636.5,832.1 1636.7,823.7 1637.0,816.5 1637.2,810.4 1637.5,805.3 1637.7,800.9 1637.9,797.3 1638.2,794.2 1638.4,791.6 1638.7,789.4 1638.9,787.4 1639.2,785.8 1639.4,784.3 1639.7,783.0 1639.9,781.9 1640.1,780.9 1640.4,780.0 1640.6,779.2 1640.9,778.4 1641.1,777.7 1641.4,777.1 1641.6,776.5 1641.9,775.9 1642.1,775.4 1642.3,775.0 1642.6,774.5 1642.8,774.1 1643.1,773.7 1643.3,773.3 1643.6,772.9 1643.8,772.6 1644.1,772.2 1644.3,771.9 1644.5,771.6 1644.8,771.3 1645.0,771.0 1645.3,770.8 1645.5,770.5 1645.8,770.3 1646.0,770.1 1646.3,769.8 1646.5,769.6 1646.7,769.4 1647.0,769.2 1647.2,769.0 1647.5,768.9 1647.7,768.7 1648.0,768.5 1648.2,768.4 1648.5,768.2 1648.7,768.1 1648.9,767.9 1649.2,767.8 1649.4,767.7 1649.7,767.5 1649.9,767.4 1650.2,767.3 1650.4,767.2 1650.7,767.1 1650.9,767.0"/>
<polyline points="1650.9,767.0 1650.9,815.6"/>
<polyline points="1667.4,750.7 1667.4,803.6"/>
<polyline points="1683.4,731.0 1683.4,788.6"/>
<polyline points="1699.4,695.0 1699.4,765.6"/>
<polyline points="1714.3,652.0 1714.3,732.6"/>
<polyline points="1653.0,851.8 1653.1,847.7 1653.3,841.8 1653.5,835.0 1653.7,827.8 1654.0,820.9 1654.2,815.0 1654.4,810.1 1654.6,805.5 1654.9,801.3 1655.1,797.4 1655.3,793.6 1655.6,790.0 1655.9,786.5 1656.1,783.2 1656.4,780.1 1656.6,777.2 1657.0,774.5 1657.3,772.0 1657.7,769.7 1658.1,767.7 1658.5,765.8 1659.0,764.1 1659.5,762.5 1660.0,761.0 1660.5,759.6 1661.1,758.2 1661.7,757.0 1662.3,755.9 1662.9,754.9 1663.5,754.0 1664.2,753.2 1664.9,752.5 1665.7,751.9 1666.4,751.4 1667.0,751.0 1667.4,750.7"/>
<polyline points="1668.4,837.9 1668.5,833.6 1668.6,827.6 1668.8,820.5 1668.9,813.1 1669.1,806.0 1669.3,800.0 1669.5,795.0 1669.7,790.4 1669.9,786.2 1670.1,782.3 1670.3,778.6 1670.6,775.0 1670.9,771.6 1671.1,768.6 1671.4,765.7 1671.8,763.0 1672.1,760.5 1672.5,758.0 1672.9,755.7 1673.4,753.5 1673.9,751.5 1674.4,749.6 1674.9,747.8 1675.5,746.0 1676.1,744.3 1676.8,742.7 1677.4,741.1 1678.1,739.7 1678.8,738.3 1679.5,737.0 1680.2,735.8 1681.0,734.6 1681.7,733.4 1682.4,732.4 1683.0,731.6 1683.4,731.0"/>
<polyline points="1684.7,820.0 1684.8,815.5 1684.9,809.3 1685.0,801.9 1685.2,794.1 1685.3,786.6 1685.5,780.0 1685.7,774.3 1685.8,768.9 1686.0,763.8 1686.2,759.0 1686.4,754.4 1686.6,750.0 1686.8,745.9 1687.0,742.1 1687.2,738.6 1687.4,735.2 1687.7,732.0 1688.0,729.0 1688.4,726.1 1688.8,723.4 1689.3,720.9 1689.9,718.5 1690.4,716.2 1691.0,714.0 1691.6,711.9 1692.2,709.9 1692.9,708.1 1693.6,706.3 1694.3,704.6 1695.0,703.0 1695.8,701.4 1696.6,699.8 1697.5,698.3 1698.2,697.0 1698.9,695.8 1699.4,695.0"/>
<polyline points="1700.7,795.6 1700.8,790.6 1700.8,783.6 1700.9,775.3 1701.1,766.5 1701.2,757.8 1701.3,750.0 1701.4,742.8 1701.6,735.6 1701.7,728.5 1701.9,721.8 1702.0,715.6 1702.2,710.0 1702.4,705.2 1702.6,701.0 1702.8,697.2 1703.0,693.9 1703.2,690.9 1703.5,688.0 1703.8,685.4 1704.2,683.3 1704.6,681.4 1705.0,679.6 1705.5,677.9 1706.0,676.0 1706.6,674.0 1707.2,672.0 1707.9,670.0 1708.6,668.0 1709.3,666.0 1710.0,664.0 1710.7,661.9 1711.6,659.6 1712.4,657.2 1713.2,655.1 1713.8,653.3 1714.3,652.0"/>
<polyline points="1716.0,752.3 1716.0,748.8 1716.0,743.8 1716.1,738.0 1716.1,731.8 1716.2,725.6 1716.2,720.0 1716.3,714.8 1716.3,709.6 1716.4,704.5 1716.4,699.5 1716.5,694.7 1716.6,690.0 1716.7,685.5 1716.8,681.1 1716.9,676.9 1717.1,672.8 1717.2,668.8 1717.4,665.0 1717.6,661.3 1717.8,657.7 1718.0,654.2 1718.2,650.9 1718.4,647.8 1718.6,645.0 1718.8,642.5 1719.0,640.3 1719.2,638.4 1719.4,636.6 1719.6,634.8 1719.8,633.0 1719.9,631.2 1720.0,629.4 1720.2,627.8 1720.3,626.1 1720.4,624.5 1720.5,623.0 1720.6,621.6 1720.6,620.4 1720.6,619.2 1720.7,617.9 1720.8,616.6 1721.0,615.0 1721.3,613.2 1721.7,611.2 1722.1,609.0 1722.5,606.8 1723.0,604.6 1723.5,602.5 1724.0,600.4 1724.6,598.4 1725.1,596.3 1725.7,594.2 1726.2,592.1 1726.7,590.0 1727.1,587.9 1727.5,585.7 1727.8,583.5 1728.1,581.3 1728.4,579.1 1728.6,577.0 1728.8,574.7 1729.0,572.3 1729.2,569.9 1729.4,567.7 1729.5,565.9 1729.6,564.5"/>
</g>
<circle cx="322.1" cy="986.1" r="2.50" fill="#000" stroke="none"/>
<polyline stroke-width="4.2" points="321.6,1042.6 322.1,986.1 322.1,986.1 322.2,987.0 322.2,987.9 322.2,988.7 322.2,989.6 322.2,990.5 322.2,991.3 322.2,992.2 322.2,993.0 322.2,993.9 322.2,994.8 322.2,995.6 322.2,996.5 322.2,997.4 322.2,998.2 322.2,999.1 322.2,999.9 322.2,1000.8 322.2,1001.7 322.2,1002.5 322.2,1003.4 322.2,1004.2 322.2,1005.1 322.2,1006.0 322.2,1006.8 322.2,1007.7 322.2,1008.6 322.2,1009.4 322.3,1010.3 322.3,1011.1 322.3,1012.0 322.3,1012.9 322.3,1013.7 322.4,1014.6 322.4,1015.5 322.4,1016.3 322.4,1017.2 322.5,1018.0 322.5,1018.9 322.6,1019.8 322.6,1020.6 322.7,1021.5 322.7,1022.3 322.8,1023.2 322.8,1024.1 322.9,1024.9 323.0,1025.8 323.1,1026.7 323.1,1027.5 323.2,1028.4 323.3,1029.2 323.4,1030.1 323.5,1031.0 323.6,1031.8 323.8,1032.7 323.9,1033.6 324.0,1034.4 324.2,1035.3 324.3,1036.1 324.5,1037.0 324.7,1037.9 324.9,1038.7 325.0,1039.6 325.2,1040.4 325.5,1041.3 325.7,1042.2 325.9,1043.0 326.2,1043.9 326.4,1044.8 326.7,1045.6 327.0,1046.5 327.3,1047.3 327.6,1048.2 327.9,1049.1 328.2,1049.9 328.6,1050.8 328.7,1051.1"/>
<polyline stroke-width="4.8" stroke-dasharray="0 2.0" points="321.6,1042.6 322.1,986.1 322.1,986.1 322.2,987.0 322.2,987.9 322.2,988.7 322.2,989.6 322.2,990.5 322.2,991.3 322.2,992.2 322.2,993.0 322.2,993.9 322.2,994.8 322.2,995.6 322.2,996.5 322.2,997.4 322.2,998.2 322.2,999.1 322.2,999.9 322.2,1000.8 322.2,1001.7 322.2,1002.5 322.2,1003.4 322.2,1004.2 322.2,1005.1 322.2,1006.0 322.2,1006.8 322.2,1007.7 322.2,1008.6 322.2,1009.4 322.3,1010.3 322.3,1011.1 322.3,1012.0 322.3,1012.9 322.3,1013.7 322.4,1014.6 322.4,1015.5 322.4,1016.3 322.4,1017.2 322.5,1018.0 322.5,1018.9 322.6,1019.8 322.6,1020.6 322.7,1021.5 322.7,1022.3 322.8,1023.2 322.8,1024.1 322.9,1024.9 323.0,1025.8 323.1,1026.7 323.1,1027.5 323.2,1028.4 323.3,1029.2 323.4,1030.1 323.5,1031.0 323.6,1031.8 323.8,1032.7 323.9,1033.6 324.0,1034.4 324.2,1035.3 324.3,1036.1 324.5,1037.0 324.7,1037.9 324.9,1038.7 325.0,1039.6 325.2,1040.4 325.5,1041.3 325.7,1042.2 325.9,1043.0 326.2,1043.9 326.4,1044.8 326.7,1045.6 327.0,1046.5 327.3,1047.3 327.6,1048.2 327.9,1049.1 328.2,1049.9 328.6,1050.8 328.7,1051.1"/>
<circle cx="390.3" cy="966.8" r="2.50" fill="#000" stroke="none"/>
<polyline stroke-width="4.2" points="389.7,1035.6 390.3,966.8 390.3,966.8 390.3,967.8 390.3,968.9 390.3,969.9 390.3,971.0 390.3,972.0 390.3,973.0 390.3,974.1 390.3,975.1 390.3,976.2 390.3,977.2 390.3,978.3 390.3,979.3 390.3,980.3 390.3,981.4 390.3,982.4 390.3,983.5 390.3,984.5 390.3,985.5 390.3,986.6 390.3,987.6 390.3,988.7 390.3,989.7 390.3,990.7 390.3,991.8 390.4,992.8 390.4,993.9 390.4,994.9 390.4,996.0 390.4,997.0 390.4,998.0 390.4,999.1 390.5,1000.1 390.5,1001.2 390.5,1002.2 390.5,1003.2 390.6,1004.3 390.6,1005.3 390.6,1006.4 390.7,1007.4 390.7,1008.4 390.8,1009.5 390.8,1010.5 390.9,1011.6 390.9,1012.6 391.0,1013.7 391.1,1014.7 391.1,1015.7 391.2,1016.8 391.3,1017.8 391.4,1018.9 391.5,1019.9 391.6,1020.9 391.7,1022.0 391.8,1023.0 391.9,1024.1 392.0,1025.1 392.2,1026.2 392.3,1027.2 392.4,1028.2 392.6,1029.3 392.8,1030.3 392.9,1031.4 393.1,1032.4 393.3,1033.4 393.5,1034.5 393.7,1035.5 394.0,1036.6 394.2,1037.6 394.4,1038.6 394.7,1039.7 395.0,1040.7 395.2,1041.8 395.5,1042.8 395.8,1043.9 396.2,1044.9 396.5,1045.9 396.6,1046.1"/>
<polyline stroke-width="4.8" stroke-dasharray="0 2.0" points="389.7,1035.6 390.3,966.8 390.3,966.8 390.3,967.8 390.3,968.9 390.3,969.9 390.3,971.0 390.3,972.0 390.3,973.0 390.3,974.1 390.3,975.1 390.3,976.2 390.3,977.2 390.3,978.3 390.3,979.3 390.3,980.3 390.3,981.4 390.3,982.4 390.3,983.5 390.3,984.5 390.3,985.5 390.3,986.6 390.3,987.6 390.3,988.7 390.3,989.7 390.3,990.7 390.3,991.8 390.4,992.8 390.4,993.9 390.4,994.9 390.4,996.0 390.4,997.0 390.4,998.0 390.4,999.1 390.5,1000.1 390.5,1001.2 390.5,1002.2 390.5,1003.2 390.6,1004.3 390.6,1005.3 390.6,1006.4 390.7,1007.4 390.7,1008.4 390.8,1009.5 390.8,1010.5 390.9,1011.6 390.9,1012.6 391.0,1013.7 391.1,1014.7 391.1,1015.7 391.2,1016.8 391.3,1017.8 391.4,1018.9 391.5,1019.9 391.6,1020.9 391.7,1022.0 391.8,1023.0 391.9,1024.1 392.0,1025.1 392.2,1026.2 392.3,1027.2 392.4,1028.2 392.6,1029.3 392.8,1030.3 392.9,1031.4 393.1,1032.4 393.3,1033.4 393.5,1034.5 393.7,1035.5 394.0,1036.6 394.2,1037.6 394.4,1038.6 394.7,1039.7 395.0,1040.7 395.2,1041.8 395.5,1042.8 395.8,1043.9 396.2,1044.9 396.5,1045.9 396.6,1046.1"/>
<circle cx="459.4" cy="946.8" r="2.50" fill="#000" stroke="none"/>
<polyline stroke-width="4.2" points="458.8,1028.2 459.4,946.8 459.4,946.8 459.4,948.1 459.4,949.3 459.4,950.6 459.4,951.8 459.4,953.1 459.4,954.3 459.4,955.6 459.4,956.8 459.4,958.1 459.4,959.3 459.4,960.6 459.4,961.8 459.4,963.1 459.4,964.3 459.4,965.6 459.4,966.8 459.4,968.1 459.4,969.3 459.4,970.6 459.4,971.8 459.4,973.1 459.4,974.4 459.4,975.6 459.4,976.9 459.5,978.1 459.5,979.4 459.5,980.6 459.5,981.9 459.5,983.1 459.5,984.4 459.5,985.6 459.6,986.9 459.6,988.1 459.6,989.4 459.6,990.6 459.7,991.9 459.7,993.1 459.7,994.4 459.8,995.6 459.8,996.9 459.9,998.2 459.9,999.4 460.0,1000.7 460.0,1001.9 460.1,1003.2 460.1,1004.4 460.2,1005.7 460.3,1006.9 460.4,1008.2 460.4,1009.4 460.5,1010.7 460.6,1011.9 460.7,1013.2 460.8,1014.4 461.0,1015.7 461.1,1016.9 461.2,1018.2 461.3,1019.4 461.5,1020.7 461.6,1022.0 461.8,1023.2 462.0,1024.5 462.1,1025.7 462.3,1027.0 462.5,1028.2 462.7,1029.5 463.0,1030.7 463.2,1032.0 463.4,1033.2 463.7,1034.5 463.9,1035.7 464.2,1037.0 464.5,1038.2 464.8,1039.5 465.1,1040.7 465.4,1042.0 465.7,1043.0"/>
<polyline stroke-width="4.8" stroke-dasharray="0 2.0" points="458.8,1028.2 459.4,946.8 459.4,946.8 459.4,948.1 459.4,949.3 459.4,950.6 459.4,951.8 459.4,953.1 459.4,954.3 459.4,955.6 459.4,956.8 459.4,958.1 459.4,959.3 459.4,960.6 459.4,961.8 459.4,963.1 459.4,964.3 459.4,965.6 459.4,966.8 459.4,968.1 459.4,969.3 459.4,970.6 459.4,971.8 459.4,973.1 459.4,974.4 459.4,975.6 459.4,976.9 459.5,978.1 459.5,979.4 459.5,980.6 459.5,981.9 459.5,983.1 459.5,984.4 459.5,985.6 459.6,986.9 459.6,988.1 459.6,989.4 459.6,990.6 459.7,991.9 459.7,993.1 459.7,994.4 459.8,995.6 459.8,996.9 459.9,998.2 459.9,999.4 460.0,1000.7 460.0,1001.9 460.1,1003.2 460.1,1004.4 460.2,1005.7 460.3,1006.9 460.4,1008.2 460.4,1009.4 460.5,1010.7 460.6,1011.9 460.7,1013.2 460.8,1014.4 461.0,1015.7 461.1,1016.9 461.2,1018.2 461.3,1019.4 461.5,1020.7 461.6,1022.0 461.8,1023.2 462.0,1024.5 462.1,1025.7 462.3,1027.0 462.5,1028.2 462.7,1029.5 463.0,1030.7 463.2,1032.0 463.4,1033.2 463.7,1034.5 463.9,1035.7 464.2,1037.0 464.5,1038.2 464.8,1039.5 465.1,1040.7 465.4,1042.0 465.7,1043.0"/>
<circle cx="527.1" cy="932.4" r="2.50" fill="#000" stroke="none"/>
<polyline stroke-width="4.2" points="526.5,1022.0 527.1,932.4 527.1,932.4 527.1,933.8 527.1,935.1 527.1,936.5 527.1,937.9 527.1,939.2 527.1,940.6 527.1,942.0 527.1,943.4 527.1,944.7 527.1,946.1 527.1,947.5 527.1,948.8 527.1,950.2 527.1,951.6 527.1,952.9 527.1,954.3 527.1,955.7 527.1,957.1 527.1,958.4 527.1,959.8 527.1,961.2 527.1,962.5 527.1,963.9 527.1,965.3 527.2,966.6 527.2,968.0 527.2,969.4 527.2,970.8 527.2,972.1 527.2,973.5 527.2,974.9 527.3,976.2 527.3,977.6 527.3,979.0 527.3,980.4 527.4,981.7 527.4,983.1 527.4,984.5 527.5,985.8 527.5,987.2 527.6,988.6 527.6,989.9 527.7,991.3 527.7,992.7 527.8,994.0 527.9,995.4 527.9,996.8 528.0,998.2 528.1,999.5 528.2,1000.9 528.3,1002.3 528.4,1003.6 528.5,1005.0 528.6,1006.4 528.7,1007.8 528.8,1009.1 529.0,1010.5 529.1,1011.9 529.3,1013.2 529.4,1014.6 529.6,1016.0 529.8,1017.3 530.0,1018.7 530.2,1020.1 530.4,1021.5 530.6,1022.8 530.8,1024.2 531.0,1025.6 531.3,1026.9 531.6,1028.3 531.8,1029.7 532.1,1031.0 532.4,1032.4 532.7,1033.8 533.0,1035.2 533.4,1036.5 533.7,1037.9 534.1,1039.3 534.2,1039.5"/>
<polyline stroke-width="4.8" stroke-dasharray="0 2.0" points="526.5,1022.0 527.1,932.4 527.1,932.4 527.1,933.8 527.1,935.1 527.1,936.5 527.1,937.9 527.1,939.2 527.1,940.6 527.1,942.0 527.1,943.4 527.1,944.7 527.1,946.1 527.1,947.5 527.1,948.8 527.1,950.2 527.1,951.6 527.1,952.9 527.1,954.3 527.1,955.7 527.1,957.1 527.1,958.4 527.1,959.8 527.1,961.2 527.1,962.5 527.1,963.9 527.1,965.3 527.2,966.6 527.2,968.0 527.2,969.4 527.2,970.8 527.2,972.1 527.2,973.5 527.2,974.9 527.3,976.2 527.3,977.6 527.3,979.0 527.3,980.4 527.4,981.7 527.4,983.1 527.4,984.5 527.5,985.8 527.5,987.2 527.6,988.6 527.6,989.9 527.7,991.3 527.7,992.7 527.8,994.0 527.9,995.4 527.9,996.8 528.0,998.2 528.1,999.5 528.2,1000.9 528.3,1002.3 528.4,1003.6 528.5,1005.0 528.6,1006.4 528.7,1007.8 528.8,1009.1 529.0,1010.5 529.1,1011.9 529.3,1013.2 529.4,1014.6 529.6,1016.0 529.8,1017.3 530.0,1018.7 530.2,1020.1 530.4,1021.5 530.6,1022.8 530.8,1024.2 531.0,1025.6 531.3,1026.9 531.6,1028.3 531.8,1029.7 532.1,1031.0 532.4,1032.4 532.7,1033.8 533.0,1035.2 533.4,1036.5 533.7,1037.9 534.1,1039.3 534.2,1039.5"/>
<circle cx="592.9" cy="918.4" r="2.50" fill="#000" stroke="none"/>
<polyline stroke-width="4.2" points="592.3,1015.6 592.9,918.4 592.9,918.4 592.9,919.9 592.9,921.4 592.9,922.9 592.9,924.4 592.9,925.9 592.9,927.3 592.9,928.8 592.9,930.3 592.9,931.8 592.9,933.3 592.9,934.8 592.9,936.3 592.9,937.8 592.9,939.3 592.9,940.8 592.9,942.2 592.9,943.7 592.9,945.2 592.9,946.7 592.9,948.2 592.9,949.7 592.9,951.2 592.9,952.7 592.9,954.2 593.0,955.6 593.0,957.1 593.0,958.6 593.0,960.1 593.0,961.6 593.0,963.1 593.0,964.6 593.1,966.1 593.1,967.6 593.1,969.1 593.1,970.5 593.2,972.0 593.2,973.5 593.2,975.0 593.3,976.5 593.3,978.0 593.4,979.5 593.4,981.0 593.5,982.5 593.5,984.0 593.6,985.4 593.7,986.9 593.7,988.4 593.8,989.9 593.9,991.4 594.0,992.9 594.1,994.4 594.2,995.9 594.3,997.4 594.4,998.9 594.5,1000.3 594.6,1001.8 594.8,1003.3 594.9,1004.8 595.0,1006.3 595.2,1007.8 595.4,1009.3 595.5,1010.8 595.7,1012.3 595.9,1013.8 596.1,1015.2 596.3,1016.7 596.6,1018.2 596.8,1019.7 597.0,1021.2 597.3,1022.7 597.6,1024.2 597.8,1025.7 598.1,1027.2 598.4,1028.7 598.8,1030.1 599.1,1031.6 599.5,1033.1 599.8,1034.6 599.9,1035.1"/>
<polyline stroke-width="4.8" stroke-dasharray="0 2.0" points="592.3,1015.6 592.9,918.4 592.9,918.4 592.9,919.9 592.9,921.4 592.9,922.9 592.9,924.4 592.9,925.9 592.9,927.3 592.9,928.8 592.9,930.3 592.9,931.8 592.9,933.3 592.9,934.8 592.9,936.3 592.9,937.8 592.9,939.3 592.9,940.8 592.9,942.2 592.9,943.7 592.9,945.2 592.9,946.7 592.9,948.2 592.9,949.7 592.9,951.2 592.9,952.7 592.9,954.2 593.0,955.6 593.0,957.1 593.0,958.6 593.0,960.1 593.0,961.6 593.0,963.1 593.0,964.6 593.1,966.1 593.1,967.6 593.1,969.1 593.1,970.5 593.2,972.0 593.2,973.5 593.2,975.0 593.3,976.5 593.3,978.0 593.4,979.5 593.4,981.0 593.5,982.5 593.5,984.0 593.6,985.4 593.7,986.9 593.7,988.4 593.8,989.9 593.9,991.4 594.0,992.9 594.1,994.4 594.2,995.9 594.3,997.4 594.4,998.9 594.5,1000.3 594.6,1001.8 594.8,1003.3 594.9,1004.8 595.0,1006.3 595.2,1007.8 595.4,1009.3 595.5,1010.8 595.7,1012.3 595.9,1013.8 596.1,1015.2 596.3,1016.7 596.6,1018.2 596.8,1019.7 597.0,1021.2 597.3,1022.7 597.6,1024.2 597.8,1025.7 598.1,1027.2 598.4,1028.7 598.8,1030.1 599.1,1031.6 599.5,1033.1 599.8,1034.6 599.9,1035.1"/>
<circle cx="657.5" cy="905.4" r="2.50" fill="#000" stroke="none"/>
<polyline stroke-width="4.2" points="656.9,1008.6 657.5,905.4 657.5,905.4 657.5,907.0 657.5,908.6 657.5,910.2 657.5,911.8 657.5,913.4 657.5,915.0 657.5,916.6 657.5,918.2 657.5,919.8 657.5,921.4 657.5,923.0 657.5,924.6 657.5,926.2 657.5,927.8 657.5,929.4 657.5,931.0 657.5,932.6 657.5,934.2 657.5,935.8 657.5,937.4 657.5,939.1 657.5,940.7 657.5,942.3 657.5,943.9 657.5,945.5 657.6,947.1 657.6,948.7 657.6,950.3 657.6,951.9 657.6,953.5 657.6,955.1 657.6,956.7 657.6,958.3 657.7,959.9 657.7,961.5 657.7,963.1 657.7,964.7 657.8,966.3 657.8,967.9 657.8,969.5 657.9,971.1 657.9,972.7 657.9,974.3 658.0,975.9 658.0,977.5 658.1,979.1 658.2,980.7 658.2,982.3 658.3,983.9 658.3,985.5 658.4,987.1 658.5,988.7 658.6,990.3 658.7,991.9 658.8,993.5 658.9,995.1 659.0,996.7 659.1,998.3 659.2,999.9 659.3,1001.5 659.5,1003.2 659.6,1004.8 659.7,1006.4 659.9,1008.0 660.1,1009.6 660.2,1011.2 660.4,1012.8 660.6,1014.4 660.8,1016.0 661.0,1017.6 661.2,1019.2 661.4,1020.8 661.7,1022.4 661.9,1024.0 662.2,1025.6 662.4,1027.2 662.7,1028.8 663.0,1030.4 663.1,1031.1"/>
<polyline stroke-width="4.8" stroke-dasharray="0 2.0" points="656.9,1008.6 657.5,905.4 657.5,905.4 657.5,907.0 657.5,908.6 657.5,910.2 657.5,911.8 657.5,913.4 657.5,915.0 657.5,916.6 657.5,918.2 657.5,919.8 657.5,921.4 657.5,923.0 657.5,924.6 657.5,926.2 657.5,927.8 657.5,929.4 657.5,931.0 657.5,932.6 657.5,934.2 657.5,935.8 657.5,937.4 657.5,939.1 657.5,940.7 657.5,942.3 657.5,943.9 657.5,945.5 657.6,947.1 657.6,948.7 657.6,950.3 657.6,951.9 657.6,953.5 657.6,955.1 657.6,956.7 657.6,958.3 657.7,959.9 657.7,961.5 657.7,963.1 657.7,964.7 657.8,966.3 657.8,967.9 657.8,969.5 657.9,971.1 657.9,972.7 657.9,974.3 658.0,975.9 658.0,977.5 658.1,979.1 658.2,980.7 658.2,982.3 658.3,983.9 658.3,985.5 658.4,987.1 658.5,988.7 658.6,990.3 658.7,991.9 658.8,993.5 658.9,995.1 659.0,996.7 659.1,998.3 659.2,999.9 659.3,1001.5 659.5,1003.2 659.6,1004.8 659.7,1006.4 659.9,1008.0 660.1,1009.6 660.2,1011.2 660.4,1012.8 660.6,1014.4 660.8,1016.0 661.0,1017.6 661.2,1019.2 661.4,1020.8 661.7,1022.4 661.9,1024.0 662.2,1025.6 662.4,1027.2 662.7,1028.8 663.0,1030.4 663.1,1031.1"/>
<circle cx="718.2" cy="893.9" r="2.50" fill="#000" stroke="none"/>
<polyline stroke-width="4.2" points="717.6,1002.6 718.2,893.9 718.2,893.9 718.2,895.6 718.2,897.3 718.2,899.0 718.2,900.7 718.2,902.4 718.2,904.1 718.2,905.8 718.2,907.5 718.2,909.2 718.2,910.9 718.2,912.6 718.2,914.3 718.2,916.0 718.2,917.6 718.2,919.3 718.2,921.0 718.2,922.7 718.2,924.4 718.2,926.1 718.2,927.8 718.2,929.5 718.2,931.2 718.2,932.9 718.2,934.6 718.2,936.3 718.3,938.0 718.3,939.7 718.3,941.4 718.3,943.1 718.3,944.8 718.3,946.5 718.3,948.2 718.3,949.9 718.4,951.6 718.4,953.3 718.4,955.0 718.4,956.7 718.5,958.4 718.5,960.1 718.5,961.8 718.6,963.4 718.6,965.1 718.6,966.8 718.7,968.5 718.7,970.2 718.8,971.9 718.8,973.6 718.9,975.3 718.9,977.0 719.0,978.7 719.1,980.4 719.1,982.1 719.2,983.8 719.3,985.5 719.4,987.2 719.5,988.9 719.6,990.6 719.7,992.3 719.8,994.0 719.9,995.7 720.1,997.4 720.2,999.1 720.3,1000.8 720.5,1002.5 720.6,1004.2 720.8,1005.9 721.0,1007.5 721.1,1009.2 721.3,1010.9 721.5,1012.6 721.7,1014.3 721.9,1016.0 722.1,1017.7 722.4,1019.4 722.6,1021.1 722.9,1022.8 723.1,1024.5 723.4,1026.2 723.6,1027.1"/>
<polyline stroke-width="4.8" stroke-dasharray="0 2.0" points="717.6,1002.6 718.2,893.9 718.2,893.9 718.2,895.6 718.2,897.3 718.2,899.0 718.2,900.7 718.2,902.4 718.2,904.1 718.2,905.8 718.2,907.5 718.2,909.2 718.2,910.9 718.2,912.6 718.2,914.3 718.2,916.0 718.2,917.6 718.2,919.3 718.2,921.0 718.2,922.7 718.2,924.4 718.2,926.1 718.2,927.8 718.2,929.5 718.2,931.2 718.2,932.9 718.2,934.6 718.2,936.3 718.3,938.0 718.3,939.7 718.3,941.4 718.3,943.1 718.3,944.8 718.3,946.5 718.3,948.2 718.3,949.9 718.4,951.6 718.4,953.3 718.4,955.0 718.4,956.7 718.5,958.4 718.5,960.1 718.5,961.8 718.6,963.4 718.6,965.1 718.6,966.8 718.7,968.5 718.7,970.2 718.8,971.9 718.8,973.6 718.9,975.3 718.9,977.0 719.0,978.7 719.1,980.4 719.1,982.1 719.2,983.8 719.3,985.5 719.4,987.2 719.5,988.9 719.6,990.6 719.7,992.3 719.8,994.0 719.9,995.7 720.1,997.4 720.2,999.1 720.3,1000.8 720.5,1002.5 720.6,1004.2 720.8,1005.9 721.0,1007.5 721.1,1009.2 721.3,1010.9 721.5,1012.6 721.7,1014.3 721.9,1016.0 722.1,1017.7 722.4,1019.4 722.6,1021.1 722.9,1022.8 723.1,1024.5 723.4,1026.2 723.6,1027.1"/>
<circle cx="775.9" cy="884.0" r="2.50" fill="#000" stroke="none"/>
<polyline stroke-width="4.2" points="775.3,997.6 775.9,884.0 775.9,884.0 775.9,885.8 775.9,887.5 775.9,889.3 775.9,891.0 775.9,892.8 775.9,894.5 775.9,896.3 775.9,898.1 775.9,899.8 775.9,901.6 775.9,903.3 775.9,905.1 775.9,906.8 775.9,908.6 775.9,910.4 775.9,912.1 775.9,913.9 775.9,915.6 775.9,917.4 775.9,919.1 775.9,920.9 775.9,922.7 775.9,924.4 775.9,926.2 775.9,927.9 775.9,929.7 776.0,931.5 776.0,933.2 776.0,935.0 776.0,936.7 776.0,938.5 776.0,940.2 776.0,942.0 776.1,943.8 776.1,945.5 776.1,947.3 776.1,949.0 776.1,950.8 776.2,952.5 776.2,954.3 776.2,956.1 776.3,957.8 776.3,959.6 776.3,961.3 776.4,963.1 776.4,964.8 776.5,966.6 776.5,968.4 776.6,970.1 776.7,971.9 776.7,973.6 776.8,975.4 776.9,977.1 777.0,978.9 777.0,980.7 777.1,982.4 777.2,984.2 777.3,985.9 777.4,987.7 777.5,989.4 777.7,991.2 777.8,993.0 777.9,994.7 778.1,996.5 778.2,998.2 778.4,1000.0 778.5,1001.8 778.7,1003.5 778.9,1005.3 779.0,1007.0 779.2,1008.8 779.4,1010.5 779.6,1012.3 779.9,1014.1 780.1,1015.8 780.3,1017.6 780.6,1019.3 780.8,1021.1 781.0,1022.1"/>
<polyline stroke-width="4.8" stroke-dasharray="0 2.0" points="775.3,997.6 775.9,884.0 775.9,884.0 775.9,885.8 775.9,887.5 775.9,889.3 775.9,891.0 775.9,892.8 775.9,894.5 775.9,896.3 775.9,898.1 775.9,899.8 775.9,901.6 775.9,903.3 775.9,905.1 775.9,906.8 775.9,908.6 775.9,910.4 775.9,912.1 775.9,913.9 775.9,915.6 775.9,917.4 775.9,919.1 775.9,920.9 775.9,922.7 775.9,924.4 775.9,926.2 775.9,927.9 775.9,929.7 776.0,931.5 776.0,933.2 776.0,935.0 776.0,936.7 776.0,938.5 776.0,940.2 776.0,942.0 776.1,943.8 776.1,945.5 776.1,947.3 776.1,949.0 776.1,950.8 776.2,952.5 776.2,954.3 776.2,956.1 776.3,957.8 776.3,959.6 776.3,961.3 776.4,963.1 776.4,964.8 776.5,966.6 776.5,968.4 776.6,970.1 776.7,971.9 776.7,973.6 776.8,975.4 776.9,977.1 777.0,978.9 777.0,980.7 777.1,982.4 777.2,984.2 777.3,985.9 777.4,987.7 777.5,989.4 777.7,991.2 777.8,993.0 777.9,994.7 778.1,996.5 778.2,998.2 778.4,1000.0 778.5,1001.8 778.7,1003.5 778.9,1005.3 779.0,1007.0 779.2,1008.8 779.4,1010.5 779.6,1012.3 779.9,1014.1 780.1,1015.8 780.3,1017.6 780.6,1019.3 780.8,1021.1 781.0,1022.1"/>
<circle cx="830.9" cy="873.4" r="2.50" fill="#000" stroke="none"/>
<polyline stroke-width="4.2" points="830.3,991.6 830.9,873.4 830.9,873.4 830.9,875.2 830.9,877.1 830.9,878.9 830.9,880.8 830.9,882.6 830.9,884.4 830.9,886.3 830.9,888.1 830.9,890.0 830.9,891.8 830.9,893.6 830.9,895.5 830.9,897.3 830.9,899.2 830.9,901.0 830.9,902.8 830.9,904.7 830.9,906.5 830.9,908.4 830.9,910.2 830.9,912.0 830.9,913.9 830.9,915.7 830.9,917.6 830.9,919.4 830.9,921.2 831.0,923.1 831.0,924.9 831.0,926.8 831.0,928.6 831.0,930.4 831.0,932.3 831.0,934.1 831.0,936.0 831.1,937.8 831.1,939.6 831.1,941.5 831.1,943.3 831.1,945.2 831.2,947.0 831.2,948.8 831.2,950.7 831.3,952.5 831.3,954.4 831.4,956.2 831.4,958.0 831.4,959.9 831.5,961.7 831.6,963.6 831.6,965.4 831.7,967.2 831.7,969.1 831.8,970.9 831.9,972.8 832.0,974.6 832.0,976.4 832.1,978.3 832.2,980.1 832.3,982.0 832.4,983.8 832.5,985.6 832.6,987.5 832.8,989.3 832.9,991.2 833.0,993.0 833.2,994.8 833.3,996.7 833.5,998.5 833.6,1000.4 833.8,1002.2 834.0,1004.0 834.2,1005.9 834.4,1007.7 834.6,1009.6 834.8,1011.4 835.0,1013.2 835.2,1015.1 835.5,1016.9 835.6,1018.1"/>
<polyline stroke-width="4.8" stroke-dasharray="0 2.0" points="830.3,991.6 830.9,873.4 830.9,873.4 830.9,875.2 830.9,877.1 830.9,878.9 830.9,880.8 830.9,882.6 830.9,884.4 830.9,886.3 830.9,888.1 830.9,890.0 830.9,891.8 830.9,893.6 830.9,895.5 830.9,897.3 830.9,899.2 830.9,901.0 830.9,902.8 830.9,904.7 830.9,906.5 830.9,908.4 830.9,910.2 830.9,912.0 830.9,913.9 830.9,915.7 830.9,917.6 830.9,919.4 830.9,921.2 831.0,923.1 831.0,924.9 831.0,926.8 831.0,928.6 831.0,930.4 831.0,932.3 831.0,934.1 831.0,936.0 831.1,937.8 831.1,939.6 831.1,941.5 831.1,943.3 831.1,945.2 831.2,947.0 831.2,948.8 831.2,950.7 831.3,952.5 831.3,954.4 831.4,956.2 831.4,958.0 831.4,959.9 831.5,961.7 831.6,963.6 831.6,965.4 831.7,967.2 831.7,969.1 831.8,970.9 831.9,972.8 832.0,974.6 832.0,976.4 832.1,978.3 832.2,980.1 832.3,982.0 832.4,983.8 832.5,985.6 832.6,987.5 832.8,989.3 832.9,991.2 833.0,993.0 833.2,994.8 833.3,996.7 833.5,998.5 833.6,1000.4 833.8,1002.2 834.0,1004.0 834.2,1005.9 834.4,1007.7 834.6,1009.6 834.8,1011.4 835.0,1013.2 835.2,1015.1 835.5,1016.9 835.6,1018.1"/>
<circle cx="882.2" cy="864.2" r="2.20" fill="#000" stroke="none"/>
<polyline stroke-width="2.8" points="881.5,986.9 881.7,864.2 881.7,864.2 881.7,866.1 881.7,868.0 881.7,869.9 881.7,871.8 881.7,873.7 881.7,875.7 881.7,877.6 881.7,879.5 881.7,881.4 881.7,883.3 881.7,885.2 881.7,887.1 881.7,889.0 881.7,890.9 881.7,892.8 881.7,894.7 881.7,896.6 881.7,898.6 881.7,900.5 881.7,902.4 881.7,904.3 881.7,906.2 881.7,908.1 881.8,910.0 881.8,911.9 881.8,913.8 881.8,915.7 881.8,917.6 881.8,919.6 881.9,921.5 881.9,923.4 881.9,925.3 881.9,927.2 882.0,929.1 882.0,931.0 882.0,932.9 882.1,934.8 882.1,936.7 882.2,938.6 882.2,940.5 882.3,942.5 882.3,944.4 882.3,946.3 882.4,948.2 882.5,950.1 882.5,952.0 882.6,953.9 882.6,955.8 882.7,957.7 882.8,959.6 882.9,961.5 882.9,963.5 883.0,965.4 883.1,967.3 883.2,969.2 883.3,971.1 883.4,973.0 883.5,974.9 883.6,976.8 883.7,978.7 883.8,980.6 883.9,982.5 884.0,984.5 884.1,986.4 884.3,988.3 884.4,990.2 884.5,992.1 884.7,994.0 884.8,995.9 885.0,997.8 885.1,999.7 885.3,1001.6 885.5,1003.5 885.6,1005.4 885.8,1007.4 886.0,1009.3 886.2,1011.2 886.4,1013.1 886.5,1015.0 886.8,1016.9"/>
<polyline stroke-width="4.2" stroke-dasharray="0 4.0" points="882.5,986.9 882.8,864.2 882.8,864.2 882.8,866.1 882.8,868.0 882.8,869.9 882.8,871.8 882.8,873.7 882.8,875.7 882.8,877.6 882.8,879.5 882.8,881.4 882.8,883.3 882.8,885.2 882.8,887.1 882.8,889.0 882.8,890.9 882.8,892.8 882.8,894.7 882.8,896.6 882.8,898.6 882.8,900.5 882.8,902.4 882.8,904.3 882.8,906.2 882.8,908.1 882.9,910.0 882.9,911.9 882.9,913.8 882.9,915.7 882.9,917.6 882.9,919.6 883.0,921.5 883.0,923.4 883.0,925.3 883.0,927.2 883.1,929.1 883.1,931.0 883.1,932.9 883.2,934.8 883.2,936.7 883.3,938.6 883.3,940.5 883.4,942.5 883.4,944.4 883.4,946.3 883.5,948.2 883.6,950.1 883.6,952.0 883.7,953.9 883.7,955.8 883.8,957.7 883.9,959.6 884.0,961.5 884.0,963.5 884.1,965.4 884.2,967.3 884.3,969.2 884.4,971.1 884.5,973.0 884.6,974.9 884.7,976.8 884.8,978.7 884.9,980.6 885.0,982.5 885.1,984.5 885.2,986.4 885.4,988.3 885.5,990.2 885.6,992.1 885.8,994.0 885.9,995.9 886.1,997.8 886.2,999.7 886.4,1001.6 886.6,1003.5 886.7,1005.4 886.9,1007.4 887.1,1009.3 887.3,1011.2 887.5,1013.1 887.6,1015.0 887.8,1016.9"/>
<circle cx="931.0" cy="854.8" r="2.20" fill="#000" stroke="none"/>
<polyline stroke-width="2.8" points="930.2,980.6 930.5,854.8 930.5,854.8 930.5,856.8 930.5,858.7 930.5,860.7 930.5,862.6 930.5,864.6 930.5,866.6 930.5,868.5 930.5,870.5 930.5,872.4 930.5,874.4 930.5,876.4 930.5,878.3 930.5,880.3 930.5,882.2 930.5,884.2 930.5,886.2 930.5,888.1 930.5,890.1 930.5,892.0 930.5,894.0 930.5,896.0 930.5,897.9 930.5,899.9 930.6,901.8 930.6,903.8 930.6,905.8 930.6,907.7 930.6,909.7 930.6,911.6 930.7,913.6 930.7,915.6 930.7,917.5 930.7,919.5 930.8,921.4 930.8,923.4 930.8,925.4 930.9,927.3 930.9,929.3 931.0,931.2 931.0,933.2 931.0,935.2 931.1,937.1 931.1,939.1 931.2,941.0 931.2,943.0 931.3,945.0 931.4,946.9 931.4,948.9 931.5,950.8 931.6,952.8 931.6,954.8 931.7,956.7 931.8,958.7 931.9,960.6 932.0,962.6 932.0,964.6 932.1,966.5 932.2,968.5 932.3,970.4 932.4,972.4 932.5,974.4 932.7,976.3 932.8,978.3 932.9,980.2 933.0,982.2 933.2,984.2 933.3,986.1 933.4,988.1 933.6,990.0 933.7,992.0 933.9,994.0 934.0,995.9 934.2,997.9 934.3,999.8 934.5,1001.8 934.7,1003.8 934.9,1005.7 935.1,1007.7 935.3,1009.6 935.5,1011.6"/>
<polyline stroke-width="4.2" stroke-dasharray="0 4.0" points="931.3,980.6 931.5,854.8 931.5,854.8 931.6,856.8 931.6,858.7 931.6,860.7 931.6,862.6 931.6,864.6 931.6,866.6 931.6,868.5 931.6,870.5 931.6,872.4 931.6,874.4 931.6,876.4 931.6,878.3 931.6,880.3 931.6,882.2 931.6,884.2 931.6,886.2 931.6,888.1 931.6,890.1 931.6,892.0 931.6,894.0 931.6,896.0 931.6,897.9 931.6,899.9 931.7,901.8 931.7,903.8 931.7,905.8 931.7,907.7 931.7,909.7 931.7,911.6 931.8,913.6 931.8,915.6 931.8,917.5 931.8,919.5 931.9,921.4 931.9,923.4 931.9,925.4 932.0,927.3 932.0,929.3 932.1,931.2 932.1,933.2 932.1,935.2 932.2,937.1 932.2,939.1 932.3,941.0 932.3,943.0 932.4,945.0 932.5,946.9 932.5,948.9 932.6,950.8 932.7,952.8 932.7,954.8 932.8,956.7 932.9,958.7 933.0,960.6 933.1,962.6 933.1,964.6 933.2,966.5 933.3,968.5 933.4,970.4 933.5,972.4 933.6,974.4 933.8,976.3 933.9,978.3 934.0,980.2 934.1,982.2 934.3,984.2 934.4,986.1 934.5,988.1 934.7,990.0 934.8,992.0 935.0,994.0 935.1,995.9 935.3,997.9 935.4,999.8 935.6,1001.8 935.8,1003.8 936.0,1005.7 936.2,1007.7 936.4,1009.6 936.5,1011.6"/>
<circle cx="977.9" cy="845.4" r="2.20" fill="#000" stroke="none"/>
<polyline stroke-width="2.8" points="977.1,975.6 977.4,845.4 977.4,845.4 977.4,847.4 977.4,849.5 977.4,851.5 977.4,853.5 977.4,855.5 977.4,857.6 977.4,859.6 977.4,861.6 977.4,863.6 977.4,865.7 977.4,867.7 977.4,869.7 977.4,871.8 977.4,873.8 977.4,875.8 977.4,877.8 977.4,879.9 977.4,881.9 977.4,883.9 977.4,886.0 977.4,888.0 977.4,890.0 977.4,892.0 977.4,894.1 977.4,896.1 977.5,898.1 977.5,900.1 977.5,902.2 977.5,904.2 977.5,906.2 977.5,908.3 977.6,910.3 977.6,912.3 977.6,914.3 977.6,916.4 977.7,918.4 977.7,920.4 977.7,922.4 977.8,924.5 977.8,926.5 977.8,928.5 977.9,930.6 977.9,932.6 978.0,934.6 978.0,936.6 978.0,938.7 978.1,940.7 978.1,942.7 978.2,944.7 978.3,946.8 978.3,948.8 978.4,950.8 978.4,952.9 978.5,954.9 978.6,956.9 978.7,958.9 978.7,961.0 978.8,963.0 978.9,965.0 979.0,967.0 979.1,969.1 979.2,971.1 979.3,973.1 979.4,975.2 979.5,977.2 979.6,979.2 979.7,981.2 979.8,983.3 979.9,985.3 980.0,987.3 980.1,989.4 980.3,991.4 980.4,993.4 980.5,995.4 980.7,997.5 980.8,999.5 981.0,1001.5 981.1,1003.5 981.3,1005.6 981.5,1007.6"/>
<polyline stroke-width="4.2" stroke-dasharray="0 4.0" points="978.2,975.6 978.4,845.4 978.4,845.4 978.5,847.4 978.5,849.5 978.5,851.5 978.5,853.5 978.5,855.5 978.5,857.6 978.5,859.6 978.5,861.6 978.5,863.6 978.5,865.7 978.5,867.7 978.5,869.7 978.5,871.8 978.5,873.8 978.5,875.8 978.5,877.8 978.5,879.9 978.5,881.9 978.5,883.9 978.5,886.0 978.5,888.0 978.5,890.0 978.5,892.0 978.5,894.1 978.5,896.1 978.6,898.1 978.6,900.1 978.6,902.2 978.6,904.2 978.6,906.2 978.6,908.3 978.7,910.3 978.7,912.3 978.7,914.3 978.7,916.4 978.8,918.4 978.8,920.4 978.8,922.4 978.9,924.5 978.9,926.5 978.9,928.5 979.0,930.6 979.0,932.6 979.1,934.6 979.1,936.6 979.1,938.7 979.2,940.7 979.2,942.7 979.3,944.7 979.4,946.8 979.4,948.8 979.5,950.8 979.5,952.9 979.6,954.9 979.7,956.9 979.8,958.9 979.8,961.0 979.9,963.0 980.0,965.0 980.1,967.0 980.2,969.1 980.3,971.1 980.4,973.1 980.5,975.2 980.6,977.2 980.7,979.2 980.8,981.2 980.9,983.3 981.0,985.3 981.1,987.3 981.2,989.4 981.4,991.4 981.5,993.4 981.6,995.4 981.8,997.5 981.9,999.5 982.1,1001.5 982.2,1003.5 982.4,1005.6 982.5,1007.6"/>
<circle cx="1021.9" cy="836.0" r="2.20" fill="#000" stroke="none"/>
<polyline stroke-width="2.8" points="1021.1,970.6 1021.4,836.0 1021.4,836.0 1021.4,838.1 1021.4,840.2 1021.4,842.2 1021.4,844.3 1021.4,846.4 1021.4,848.5 1021.4,850.6 1021.4,852.7 1021.4,854.7 1021.4,856.8 1021.4,858.9 1021.4,861.0 1021.4,863.1 1021.4,865.2 1021.4,867.2 1021.4,869.3 1021.4,871.4 1021.4,873.5 1021.4,875.6 1021.4,877.6 1021.4,879.7 1021.4,881.8 1021.4,883.9 1021.4,886.0 1021.4,888.1 1021.5,890.1 1021.5,892.2 1021.5,894.3 1021.5,896.4 1021.5,898.5 1021.5,900.6 1021.5,902.6 1021.6,904.7 1021.6,906.8 1021.6,908.9 1021.6,911.0 1021.7,913.1 1021.7,915.1 1021.7,917.2 1021.8,919.3 1021.8,921.4 1021.8,923.5 1021.9,925.5 1021.9,927.6 1021.9,929.7 1022.0,931.8 1022.0,933.9 1022.1,936.0 1022.1,938.0 1022.2,940.1 1022.2,942.2 1022.3,944.3 1022.3,946.4 1022.4,948.5 1022.5,950.5 1022.5,952.6 1022.6,954.7 1022.7,956.8 1022.7,958.9 1022.8,961.0 1022.9,963.0 1023.0,965.1 1023.1,967.2 1023.2,969.3 1023.3,971.4 1023.3,973.4 1023.4,975.5 1023.5,977.6 1023.7,979.7 1023.8,981.8 1023.9,983.9 1024.0,985.9 1024.1,988.0 1024.2,990.1 1024.4,992.2 1024.5,994.3 1024.6,996.4 1024.8,998.4 1024.9,1000.5 1025.0,1002.6"/>
<polyline stroke-width="4.2" stroke-dasharray="0 4.0" points="1022.2,970.6 1022.4,836.0 1022.4,836.0 1022.5,838.1 1022.5,840.2 1022.5,842.2 1022.5,844.3 1022.5,846.4 1022.5,848.5 1022.5,850.6 1022.5,852.7 1022.5,854.7 1022.5,856.8 1022.5,858.9 1022.5,861.0 1022.5,863.1 1022.5,865.2 1022.5,867.2 1022.5,869.3 1022.5,871.4 1022.5,873.5 1022.5,875.6 1022.5,877.6 1022.5,879.7 1022.5,881.8 1022.5,883.9 1022.5,886.0 1022.5,888.1 1022.6,890.1 1022.6,892.2 1022.6,894.3 1022.6,896.4 1022.6,898.5 1022.6,900.6 1022.6,902.6 1022.7,904.7 1022.7,906.8 1022.7,908.9 1022.7,911.0 1022.8,913.1 1022.8,915.1 1022.8,917.2 1022.9,919.3 1022.9,921.4 1022.9,923.5 1023.0,925.5 1023.0,927.6 1023.0,929.7 1023.1,931.8 1023.1,933.9 1023.2,936.0 1023.2,938.0 1023.3,940.1 1023.3,942.2 1023.4,944.3 1023.4,946.4 1023.5,948.5 1023.6,950.5 1023.6,952.6 1023.7,954.7 1023.8,956.8 1023.8,958.9 1023.9,961.0 1024.0,963.0 1024.1,965.1 1024.2,967.2 1024.3,969.3 1024.4,971.4 1024.4,973.4 1024.5,975.5 1024.6,977.6 1024.8,979.7 1024.9,981.8 1025.0,983.9 1025.1,985.9 1025.2,988.0 1025.3,990.1 1025.5,992.2 1025.6,994.3 1025.7,996.4 1025.9,998.4 1026.0,1000.5 1026.1,1002.6"/>
<circle cx="1062.9" cy="827.4" r="2.20" fill="#000" stroke="none"/>
<polyline stroke-width="2.8" points="1062.2,965.6 1062.4,827.4 1062.4,827.4 1062.4,829.5 1062.4,831.7 1062.4,833.8 1062.4,836.0 1062.4,838.1 1062.4,840.3 1062.4,842.4 1062.4,844.5 1062.4,846.7 1062.4,848.8 1062.4,851.0 1062.4,853.1 1062.4,855.3 1062.4,857.4 1062.4,859.5 1062.4,861.7 1062.4,863.8 1062.4,866.0 1062.4,868.1 1062.4,870.2 1062.4,872.4 1062.4,874.5 1062.4,876.7 1062.4,878.8 1062.4,881.0 1062.5,883.1 1062.5,885.2 1062.5,887.4 1062.5,889.5 1062.5,891.7 1062.5,893.8 1062.6,896.0 1062.6,898.1 1062.6,900.2 1062.6,902.4 1062.7,904.5 1062.7,906.7 1062.7,908.8 1062.8,911.0 1062.8,913.1 1062.8,915.2 1062.9,917.4 1062.9,919.5 1063.0,921.7 1063.0,923.8 1063.0,926.0 1063.1,928.1 1063.1,930.2 1063.2,932.4 1063.3,934.5 1063.3,936.7 1063.4,938.8 1063.4,941.0 1063.5,943.1 1063.6,945.2 1063.7,947.4 1063.7,949.5 1063.8,951.7 1063.9,953.8 1064.0,956.0 1064.1,958.1 1064.2,960.2 1064.3,962.4 1064.4,964.5 1064.5,966.7 1064.6,968.8 1064.7,970.9 1064.8,973.1 1064.9,975.2 1065.0,977.4 1065.1,979.5 1065.3,981.7 1065.4,983.8 1065.5,985.9 1065.7,988.1 1065.8,990.2 1066.0,992.4 1066.1,994.5 1066.3,996.7 1066.5,998.8"/>
<polyline stroke-width="4.2" stroke-dasharray="0 4.0" points="1063.2,965.6 1063.5,827.4 1063.5,827.4 1063.5,829.5 1063.5,831.7 1063.5,833.8 1063.5,836.0 1063.5,838.1 1063.5,840.3 1063.5,842.4 1063.5,844.5 1063.5,846.7 1063.5,848.8 1063.5,851.0 1063.5,853.1 1063.5,855.3 1063.5,857.4 1063.5,859.5 1063.5,861.7 1063.5,863.8 1063.5,866.0 1063.5,868.1 1063.5,870.2 1063.5,872.4 1063.5,874.5 1063.5,876.7 1063.5,878.8 1063.5,881.0 1063.6,883.1 1063.6,885.2 1063.6,887.4 1063.6,889.5 1063.6,891.7 1063.6,893.8 1063.7,896.0 1063.7,898.1 1063.7,900.2 1063.7,902.4 1063.8,904.5 1063.8,906.7 1063.8,908.8 1063.9,911.0 1063.9,913.1 1063.9,915.2 1064.0,917.4 1064.0,919.5 1064.1,921.7 1064.1,923.8 1064.1,926.0 1064.2,928.1 1064.2,930.2 1064.3,932.4 1064.4,934.5 1064.4,936.7 1064.5,938.8 1064.5,941.0 1064.6,943.1 1064.7,945.2 1064.8,947.4 1064.8,949.5 1064.9,951.7 1065.0,953.8 1065.1,956.0 1065.2,958.1 1065.3,960.2 1065.4,962.4 1065.5,964.5 1065.6,966.7 1065.7,968.8 1065.8,970.9 1065.9,973.1 1066.0,975.2 1066.1,977.4 1066.2,979.5 1066.4,981.7 1066.5,983.8 1066.6,985.9 1066.8,988.1 1066.9,990.2 1067.1,992.4 1067.2,994.5 1067.4,996.7 1067.5,998.8"/>
<circle cx="1102.5" cy="818.4" r="2.20" fill="#000" stroke="none"/>
<polyline stroke-width="2.8" points="1101.8,959.6 1102.0,818.4 1102.0,818.4 1102.0,820.6 1102.0,822.8 1102.0,825.0 1102.0,827.2 1102.0,829.4 1102.0,831.5 1102.0,833.7 1102.0,835.9 1102.0,838.1 1102.0,840.3 1102.0,842.5 1102.0,844.7 1102.0,846.9 1102.0,849.1 1102.0,851.2 1102.0,853.4 1102.0,855.6 1102.0,857.8 1102.0,860.0 1102.0,862.2 1102.0,864.4 1102.0,866.6 1102.0,868.8 1102.0,871.0 1102.0,873.1 1102.0,875.3 1102.1,877.5 1102.1,879.7 1102.1,881.9 1102.1,884.1 1102.1,886.3 1102.1,888.5 1102.2,890.7 1102.2,892.9 1102.2,895.0 1102.2,897.2 1102.2,899.4 1102.3,901.6 1102.3,903.8 1102.3,906.0 1102.4,908.2 1102.4,910.4 1102.4,912.6 1102.5,914.8 1102.5,917.0 1102.5,919.1 1102.6,921.3 1102.6,923.5 1102.7,925.7 1102.7,927.9 1102.8,930.1 1102.8,932.3 1102.9,934.5 1102.9,936.7 1103.0,938.9 1103.1,941.0 1103.1,943.2 1103.2,945.4 1103.3,947.6 1103.3,949.8 1103.4,952.0 1103.5,954.2 1103.6,956.4 1103.7,958.6 1103.8,960.8 1103.8,962.9 1103.9,965.1 1104.0,967.3 1104.1,969.5 1104.2,971.7 1104.3,973.9 1104.4,976.1 1104.6,978.3 1104.7,980.5 1104.8,982.7 1104.9,984.8 1105.0,987.0 1105.2,989.2 1105.3,991.4 1105.5,993.6"/>
<polyline stroke-width="4.2" stroke-dasharray="0 4.0" points="1102.8,959.6 1103.0,818.4 1103.0,818.4 1103.1,820.6 1103.1,822.8 1103.1,825.0 1103.1,827.2 1103.1,829.4 1103.1,831.5 1103.1,833.7 1103.1,835.9 1103.1,838.1 1103.1,840.3 1103.1,842.5 1103.1,844.7 1103.1,846.9 1103.1,849.1 1103.1,851.2 1103.1,853.4 1103.1,855.6 1103.1,857.8 1103.1,860.0 1103.1,862.2 1103.1,864.4 1103.1,866.6 1103.1,868.8 1103.1,871.0 1103.1,873.1 1103.1,875.3 1103.2,877.5 1103.2,879.7 1103.2,881.9 1103.2,884.1 1103.2,886.3 1103.2,888.5 1103.3,890.7 1103.3,892.9 1103.3,895.0 1103.3,897.2 1103.3,899.4 1103.4,901.6 1103.4,903.8 1103.4,906.0 1103.5,908.2 1103.5,910.4 1103.5,912.6 1103.6,914.8 1103.6,917.0 1103.6,919.1 1103.7,921.3 1103.7,923.5 1103.8,925.7 1103.8,927.9 1103.9,930.1 1103.9,932.3 1104.0,934.5 1104.0,936.7 1104.1,938.9 1104.2,941.0 1104.2,943.2 1104.3,945.4 1104.4,947.6 1104.4,949.8 1104.5,952.0 1104.6,954.2 1104.7,956.4 1104.8,958.6 1104.9,960.8 1104.9,962.9 1105.0,965.1 1105.1,967.3 1105.2,969.5 1105.3,971.7 1105.4,973.9 1105.5,976.1 1105.7,978.3 1105.8,980.5 1105.9,982.7 1106.0,984.8 1106.1,987.0 1106.3,989.2 1106.4,991.4 1106.5,993.6"/>
<circle cx="1139.9" cy="809.8" r="2.20" fill="#000" stroke="none"/>
<polyline stroke-width="2.8" points="1139.2,954.6 1139.4,809.8 1139.4,809.8 1139.4,812.0 1139.4,814.3 1139.4,816.5 1139.4,818.8 1139.4,821.0 1139.4,823.3 1139.4,825.5 1139.4,827.8 1139.4,830.0 1139.4,832.3 1139.4,834.5 1139.4,836.8 1139.4,839.0 1139.4,841.3 1139.4,843.5 1139.4,845.8 1139.4,848.0 1139.4,850.3 1139.4,852.5 1139.4,854.8 1139.4,857.0 1139.4,859.2 1139.4,861.5 1139.4,863.7 1139.4,866.0 1139.5,868.2 1139.5,870.5 1139.5,872.7 1139.5,875.0 1139.5,877.2 1139.5,879.5 1139.6,881.7 1139.6,884.0 1139.6,886.2 1139.6,888.5 1139.7,890.7 1139.7,893.0 1139.7,895.2 1139.8,897.5 1139.8,899.7 1139.8,901.9 1139.9,904.2 1139.9,906.4 1140.0,908.7 1140.0,910.9 1140.0,913.2 1140.1,915.4 1140.1,917.7 1140.2,919.9 1140.3,922.2 1140.3,924.4 1140.4,926.7 1140.4,928.9 1140.5,931.2 1140.6,933.4 1140.7,935.7 1140.7,937.9 1140.8,940.2 1140.9,942.4 1141.0,944.6 1141.1,946.9 1141.2,949.1 1141.3,951.4 1141.4,953.6 1141.5,955.9 1141.6,958.1 1141.7,960.4 1141.8,962.6 1141.9,964.9 1142.0,967.1 1142.1,969.4 1142.3,971.6 1142.4,973.9 1142.5,976.1 1142.7,978.4 1142.8,980.6 1143.0,982.9 1143.1,985.1 1143.3,987.4 1143.5,989.6"/>
<polyline stroke-width="4.2" stroke-dasharray="0 4.0" points="1140.2,954.6 1140.5,809.8 1140.5,809.8 1140.5,812.0 1140.5,814.3 1140.5,816.5 1140.5,818.8 1140.5,821.0 1140.5,823.3 1140.5,825.5 1140.5,827.8 1140.5,830.0 1140.5,832.3 1140.5,834.5 1140.5,836.8 1140.5,839.0 1140.5,841.3 1140.5,843.5 1140.5,845.8 1140.5,848.0 1140.5,850.3 1140.5,852.5 1140.5,854.8 1140.5,857.0 1140.5,859.2 1140.5,861.5 1140.5,863.7 1140.5,866.0 1140.6,868.2 1140.6,870.5 1140.6,872.7 1140.6,875.0 1140.6,877.2 1140.6,879.5 1140.7,881.7 1140.7,884.0 1140.7,886.2 1140.7,888.5 1140.8,890.7 1140.8,893.0 1140.8,895.2 1140.9,897.5 1140.9,899.7 1140.9,901.9 1141.0,904.2 1141.0,906.4 1141.1,908.7 1141.1,910.9 1141.1,913.2 1141.2,915.4 1141.2,917.7 1141.3,919.9 1141.4,922.2 1141.4,924.4 1141.5,926.7 1141.5,928.9 1141.6,931.2 1141.7,933.4 1141.8,935.7 1141.8,937.9 1141.9,940.2 1142.0,942.4 1142.1,944.6 1142.2,946.9 1142.3,949.1 1142.4,951.4 1142.5,953.6 1142.6,955.9 1142.7,958.1 1142.8,960.4 1142.9,962.6 1143.0,964.9 1143.1,967.1 1143.2,969.4 1143.4,971.6 1143.5,973.9 1143.6,976.1 1143.8,978.4 1143.9,980.6 1144.1,982.9 1144.2,985.1 1144.4,987.4 1144.5,989.6"/>
<circle cx="1175.9" cy="801.4" r="2.20" fill="#000" stroke="none"/>
<polyline stroke-width="2.8" points="1175.2,949.6 1175.4,801.4 1175.4,801.4 1175.4,803.7 1175.4,806.0 1175.4,808.3 1175.4,810.6 1175.4,812.9 1175.4,815.1 1175.4,817.4 1175.4,819.7 1175.4,822.0 1175.4,824.3 1175.4,826.6 1175.4,828.9 1175.4,831.2 1175.4,833.5 1175.4,835.8 1175.4,838.0 1175.4,840.3 1175.4,842.6 1175.4,844.9 1175.4,847.2 1175.4,849.5 1175.4,851.8 1175.4,854.1 1175.4,856.4 1175.4,858.6 1175.4,860.9 1175.5,863.2 1175.5,865.5 1175.5,867.8 1175.5,870.1 1175.5,872.4 1175.5,874.7 1175.6,877.0 1175.6,879.3 1175.6,881.5 1175.6,883.8 1175.6,886.1 1175.7,888.4 1175.7,890.7 1175.7,893.0 1175.8,895.3 1175.8,897.6 1175.8,899.9 1175.9,902.2 1175.9,904.5 1175.9,906.7 1176.0,909.0 1176.0,911.3 1176.1,913.6 1176.1,915.9 1176.2,918.2 1176.2,920.5 1176.3,922.8 1176.3,925.1 1176.4,927.4 1176.5,929.6 1176.5,931.9 1176.6,934.2 1176.7,936.5 1176.7,938.8 1176.8,941.1 1176.9,943.4 1177.0,945.7 1177.1,948.0 1177.2,950.2 1177.2,952.5 1177.3,954.8 1177.4,957.1 1177.5,959.4 1177.6,961.7 1177.7,964.0 1177.8,966.3 1178.0,968.6 1178.1,970.9 1178.2,973.2 1178.3,975.4 1178.4,977.7 1178.6,980.0 1178.7,982.3 1178.9,984.6"/>
<polyline stroke-width="4.2" stroke-dasharray="0 4.0" points="1176.2,949.6 1176.5,801.4 1176.5,801.4 1176.5,803.7 1176.5,806.0 1176.5,808.3 1176.5,810.6 1176.5,812.9 1176.5,815.1 1176.5,817.4 1176.5,819.7 1176.5,822.0 1176.5,824.3 1176.5,826.6 1176.5,828.9 1176.5,831.2 1176.5,833.5 1176.5,835.8 1176.5,838.0 1176.5,840.3 1176.5,842.6 1176.5,844.9 1176.5,847.2 1176.5,849.5 1176.5,851.8 1176.5,854.1 1176.5,856.4 1176.5,858.6 1176.5,860.9 1176.6,863.2 1176.6,865.5 1176.6,867.8 1176.6,870.1 1176.6,872.4 1176.6,874.7 1176.7,877.0 1176.7,879.3 1176.7,881.5 1176.7,883.8 1176.7,886.1 1176.8,888.4 1176.8,890.7 1176.8,893.0 1176.9,895.3 1176.9,897.6 1176.9,899.9 1177.0,902.2 1177.0,904.5 1177.0,906.7 1177.1,909.0 1177.1,911.3 1177.2,913.6 1177.2,915.9 1177.3,918.2 1177.3,920.5 1177.4,922.8 1177.4,925.1 1177.5,927.4 1177.6,929.6 1177.6,931.9 1177.7,934.2 1177.8,936.5 1177.8,938.8 1177.9,941.1 1178.0,943.4 1178.1,945.7 1178.2,948.0 1178.3,950.2 1178.3,952.5 1178.4,954.8 1178.5,957.1 1178.6,959.4 1178.7,961.7 1178.8,964.0 1178.9,966.3 1179.1,968.6 1179.2,970.9 1179.3,973.2 1179.4,975.4 1179.5,977.7 1179.7,980.0 1179.8,982.3 1180.0,984.6"/>
<circle cx="1209.9" cy="792.4" r="2.20" fill="#000" stroke="none"/>
<polyline stroke-width="2.8" points="1209.2,944.6 1209.4,792.4 1209.4,792.4 1209.4,794.7 1209.4,797.1 1209.4,799.4 1209.4,801.8 1209.4,804.1 1209.4,806.5 1209.4,808.8 1209.4,811.2 1209.4,813.5 1209.4,815.9 1209.4,818.2 1209.4,820.5 1209.4,822.9 1209.4,825.2 1209.4,827.6 1209.4,829.9 1209.4,832.3 1209.4,834.6 1209.4,837.0 1209.4,839.3 1209.4,841.6 1209.4,844.0 1209.4,846.3 1209.4,848.7 1209.4,851.0 1209.4,853.4 1209.4,855.7 1209.5,858.1 1209.5,860.4 1209.5,862.8 1209.5,865.1 1209.5,867.4 1209.5,869.8 1209.6,872.1 1209.6,874.5 1209.6,876.8 1209.6,879.2 1209.6,881.5 1209.7,883.9 1209.7,886.2 1209.7,888.5 1209.7,890.9 1209.8,893.2 1209.8,895.6 1209.8,897.9 1209.9,900.3 1209.9,902.6 1210.0,905.0 1210.0,907.3 1210.0,909.6 1210.1,912.0 1210.1,914.3 1210.2,916.7 1210.2,919.0 1210.3,921.4 1210.3,923.7 1210.4,926.1 1210.5,928.4 1210.5,930.8 1210.6,933.1 1210.7,935.4 1210.7,937.8 1210.8,940.1 1210.9,942.5 1210.9,944.8 1211.0,947.2 1211.1,949.5 1211.2,951.9 1211.3,954.2 1211.4,956.5 1211.5,958.9 1211.6,961.2 1211.7,963.6 1211.8,965.9 1211.9,968.3 1212.0,970.6 1212.1,973.0 1212.2,975.3 1212.3,977.7 1212.5,980.0"/>
<polyline stroke-width="4.2" stroke-dasharray="0 4.0" points="1210.2,944.6 1210.5,792.4 1210.5,792.4 1210.5,794.7 1210.5,797.1 1210.5,799.4 1210.5,801.8 1210.5,804.1 1210.5,806.5 1210.5,808.8 1210.5,811.2 1210.5,813.5 1210.5,815.9 1210.5,818.2 1210.5,820.5 1210.5,822.9 1210.5,825.2 1210.5,827.6 1210.5,829.9 1210.5,832.3 1210.5,834.6 1210.5,837.0 1210.5,839.3 1210.5,841.6 1210.5,844.0 1210.5,846.3 1210.5,848.7 1210.5,851.0 1210.5,853.4 1210.5,855.7 1210.6,858.1 1210.6,860.4 1210.6,862.8 1210.6,865.1 1210.6,867.4 1210.6,869.8 1210.7,872.1 1210.7,874.5 1210.7,876.8 1210.7,879.2 1210.7,881.5 1210.8,883.9 1210.8,886.2 1210.8,888.5 1210.8,890.9 1210.9,893.2 1210.9,895.6 1210.9,897.9 1211.0,900.3 1211.0,902.6 1211.1,905.0 1211.1,907.3 1211.1,909.6 1211.2,912.0 1211.2,914.3 1211.3,916.7 1211.3,919.0 1211.4,921.4 1211.4,923.7 1211.5,926.1 1211.6,928.4 1211.6,930.8 1211.7,933.1 1211.8,935.4 1211.8,937.8 1211.9,940.1 1212.0,942.5 1212.0,944.8 1212.1,947.2 1212.2,949.5 1212.3,951.9 1212.4,954.2 1212.5,956.5 1212.6,958.9 1212.7,961.2 1212.8,963.6 1212.9,965.9 1213.0,968.3 1213.1,970.6 1213.2,973.0 1213.3,975.3 1213.4,977.7 1213.5,980.0"/>
<circle cx="1242.8" cy="783.4" r="2.15" fill="#000" stroke="none"/>
<polyline stroke-width="2.7" points="1242.0,938.8 1242.2,783.4 1242.2,783.4 1242.3,785.8 1242.3,788.2 1242.3,790.6 1242.3,793.0 1242.3,795.4 1242.3,797.8 1242.3,800.1 1242.3,802.5 1242.3,804.9 1242.3,807.3 1242.3,809.7 1242.3,812.1 1242.3,814.5 1242.3,816.9 1242.3,819.3 1242.3,821.7 1242.3,824.1 1242.3,826.5 1242.3,828.9 1242.3,831.2 1242.3,833.6 1242.3,836.0 1242.3,838.4 1242.3,840.8 1242.3,843.2 1242.3,845.6 1242.3,848.0 1242.4,850.4 1242.4,852.8 1242.4,855.2 1242.4,857.6 1242.4,860.0 1242.4,862.4 1242.4,864.7 1242.5,867.1 1242.5,869.5 1242.5,871.9 1242.5,874.3 1242.5,876.7 1242.6,879.1 1242.6,881.5 1242.6,883.9 1242.6,886.3 1242.7,888.7 1242.7,891.1 1242.7,893.5 1242.8,895.8 1242.8,898.2 1242.9,900.6 1242.9,903.0 1242.9,905.4 1243.0,907.8 1243.0,910.2 1243.1,912.6 1243.1,915.0 1243.2,917.4 1243.2,919.8 1243.3,922.2 1243.3,924.6 1243.4,927.0 1243.5,929.3 1243.5,931.7 1243.6,934.1 1243.7,936.5 1243.7,938.9 1243.8,941.3 1243.9,943.7 1244.0,946.1 1244.1,948.5 1244.1,950.9 1244.2,953.3 1244.3,955.7 1244.4,958.1 1244.5,960.4 1244.6,962.8 1244.7,965.2 1244.8,967.6 1244.9,970.0 1245.0,972.4 1245.2,974.8"/>
<polyline stroke-width="4.1" stroke-dasharray="0 4.3" points="1243.1,938.8 1243.3,783.4 1243.3,783.4 1243.4,785.8 1243.4,788.2 1243.4,790.6 1243.4,793.0 1243.4,795.4 1243.4,797.8 1243.4,800.1 1243.4,802.5 1243.4,804.9 1243.4,807.3 1243.4,809.7 1243.4,812.1 1243.4,814.5 1243.4,816.9 1243.4,819.3 1243.4,821.7 1243.4,824.1 1243.4,826.5 1243.4,828.9 1243.4,831.2 1243.4,833.6 1243.4,836.0 1243.4,838.4 1243.4,840.8 1243.4,843.2 1243.4,845.6 1243.4,848.0 1243.5,850.4 1243.5,852.8 1243.5,855.2 1243.5,857.6 1243.5,860.0 1243.5,862.4 1243.5,864.7 1243.6,867.1 1243.6,869.5 1243.6,871.9 1243.6,874.3 1243.6,876.7 1243.7,879.1 1243.7,881.5 1243.7,883.9 1243.7,886.3 1243.8,888.7 1243.8,891.1 1243.8,893.5 1243.9,895.8 1243.9,898.2 1244.0,900.6 1244.0,903.0 1244.0,905.4 1244.1,907.8 1244.1,910.2 1244.2,912.6 1244.2,915.0 1244.3,917.4 1244.3,919.8 1244.4,922.2 1244.4,924.6 1244.5,927.0 1244.6,929.3 1244.6,931.7 1244.7,934.1 1244.8,936.5 1244.8,938.9 1244.9,941.3 1245.0,943.7 1245.1,946.1 1245.2,948.5 1245.2,950.9 1245.3,953.3 1245.4,955.7 1245.5,958.1 1245.6,960.4 1245.7,962.8 1245.8,965.2 1245.9,967.6 1246.0,970.0 1246.1,972.4 1246.2,974.8"/>
<circle cx="1273.7" cy="775.4" r="2.15" fill="#000" stroke="none"/>
<polyline stroke-width="2.7" points="1273.0,933.6 1273.2,775.4 1273.2,775.4 1273.2,777.8 1273.2,780.3 1273.2,782.7 1273.2,785.1 1273.2,787.6 1273.2,790.0 1273.2,792.5 1273.2,794.9 1273.2,797.3 1273.2,799.8 1273.2,802.2 1273.2,804.6 1273.2,807.1 1273.2,809.5 1273.2,812.0 1273.2,814.4 1273.2,816.8 1273.2,819.3 1273.2,821.7 1273.2,824.1 1273.2,826.6 1273.2,829.0 1273.2,831.5 1273.2,833.9 1273.2,836.3 1273.2,838.8 1273.2,841.2 1273.2,843.6 1273.3,846.1 1273.3,848.5 1273.3,851.0 1273.3,853.4 1273.3,855.8 1273.3,858.3 1273.3,860.7 1273.4,863.1 1273.4,865.6 1273.4,868.0 1273.4,870.5 1273.5,872.9 1273.5,875.3 1273.5,877.8 1273.5,880.2 1273.6,882.6 1273.6,885.1 1273.6,887.5 1273.7,890.0 1273.7,892.4 1273.7,894.8 1273.8,897.3 1273.8,899.7 1273.9,902.1 1273.9,904.6 1273.9,907.0 1274.0,909.5 1274.0,911.9 1274.1,914.3 1274.2,916.8 1274.2,919.2 1274.3,921.6 1274.3,924.1 1274.4,926.5 1274.5,929.0 1274.5,931.4 1274.6,933.8 1274.7,936.3 1274.7,938.7 1274.8,941.1 1274.9,943.6 1275.0,946.0 1275.1,948.5 1275.1,950.9 1275.2,953.3 1275.3,955.8 1275.4,958.2 1275.5,960.6 1275.6,963.1 1275.7,965.5 1275.8,968.0 1276.0,970.4"/>
<polyline stroke-width="4.1" stroke-dasharray="0 4.3" points="1274.0,933.6 1274.2,775.4 1274.2,775.4 1274.3,777.8 1274.3,780.3 1274.3,782.7 1274.3,785.1 1274.3,787.6 1274.3,790.0 1274.3,792.5 1274.3,794.9 1274.3,797.3 1274.3,799.8 1274.3,802.2 1274.3,804.6 1274.3,807.1 1274.3,809.5 1274.3,812.0 1274.3,814.4 1274.3,816.8 1274.3,819.3 1274.3,821.7 1274.3,824.1 1274.3,826.6 1274.3,829.0 1274.3,831.5 1274.3,833.9 1274.3,836.3 1274.3,838.8 1274.3,841.2 1274.3,843.6 1274.4,846.1 1274.4,848.5 1274.4,851.0 1274.4,853.4 1274.4,855.8 1274.4,858.3 1274.4,860.7 1274.5,863.1 1274.5,865.6 1274.5,868.0 1274.5,870.5 1274.6,872.9 1274.6,875.3 1274.6,877.8 1274.6,880.2 1274.7,882.6 1274.7,885.1 1274.7,887.5 1274.8,890.0 1274.8,892.4 1274.8,894.8 1274.9,897.3 1274.9,899.7 1275.0,902.1 1275.0,904.6 1275.0,907.0 1275.1,909.5 1275.1,911.9 1275.2,914.3 1275.3,916.8 1275.3,919.2 1275.4,921.6 1275.4,924.1 1275.5,926.5 1275.6,929.0 1275.6,931.4 1275.7,933.8 1275.8,936.3 1275.8,938.7 1275.9,941.1 1276.0,943.6 1276.1,946.0 1276.2,948.5 1276.2,950.9 1276.3,953.3 1276.4,955.8 1276.5,958.2 1276.6,960.6 1276.7,963.1 1276.8,965.5 1276.9,968.0 1277.0,970.4"/>
<circle cx="1303.1" cy="766.4" r="2.15" fill="#000" stroke="none"/>
<polyline stroke-width="2.7" points="1302.3,928.3 1302.5,766.4 1302.5,766.4 1302.6,768.9 1302.6,771.4 1302.6,773.9 1302.6,776.4 1302.6,778.9 1302.6,781.4 1302.6,783.8 1302.6,786.3 1302.6,788.8 1302.6,791.3 1302.6,793.8 1302.6,796.3 1302.6,798.8 1302.6,801.3 1302.6,803.8 1302.6,806.3 1302.6,808.8 1302.6,811.3 1302.6,813.8 1302.6,816.2 1302.6,818.7 1302.6,821.2 1302.7,823.7 1302.7,826.2 1302.7,828.7 1302.7,831.2 1302.7,833.7 1302.7,836.2 1302.7,838.7 1302.8,841.2 1302.8,843.7 1302.8,846.2 1302.8,848.7 1302.8,851.1 1302.9,853.6 1302.9,856.1 1302.9,858.6 1302.9,861.1 1303.0,863.6 1303.0,866.1 1303.0,868.6 1303.0,871.1 1303.1,873.6 1303.1,876.1 1303.1,878.6 1303.2,881.1 1303.2,883.5 1303.2,886.0 1303.3,888.5 1303.3,891.0 1303.4,893.5 1303.4,896.0 1303.4,898.5 1303.5,901.0 1303.5,903.5 1303.6,906.0 1303.6,908.5 1303.7,911.0 1303.7,913.5 1303.8,916.0 1303.8,918.4 1303.9,920.9 1303.9,923.4 1304.0,925.9 1304.1,928.4 1304.1,930.9 1304.2,933.4 1304.3,935.9 1304.3,938.4 1304.4,940.9 1304.5,943.4 1304.5,945.9 1304.6,948.4 1304.7,950.8 1304.7,953.3 1304.8,955.8 1304.9,958.3 1305.0,960.8 1305.1,963.3 1305.2,965.8"/>
<polyline stroke-width="4.1" stroke-dasharray="0 4.3" points="1303.4,928.3 1303.6,766.4 1303.6,766.4 1303.7,768.9 1303.7,771.4 1303.7,773.9 1303.7,776.4 1303.7,778.9 1303.7,781.4 1303.7,783.8 1303.7,786.3 1303.7,788.8 1303.7,791.3 1303.7,793.8 1303.7,796.3 1303.7,798.8 1303.7,801.3 1303.7,803.8 1303.7,806.3 1303.7,808.8 1303.7,811.3 1303.7,813.8 1303.7,816.2 1303.7,818.7 1303.7,821.2 1303.8,823.7 1303.8,826.2 1303.8,828.7 1303.8,831.2 1303.8,833.7 1303.8,836.2 1303.8,838.7 1303.9,841.2 1303.9,843.7 1303.9,846.2 1303.9,848.7 1303.9,851.1 1304.0,853.6 1304.0,856.1 1304.0,858.6 1304.0,861.1 1304.1,863.6 1304.1,866.1 1304.1,868.6 1304.1,871.1 1304.2,873.6 1304.2,876.1 1304.2,878.6 1304.3,881.1 1304.3,883.5 1304.3,886.0 1304.4,888.5 1304.4,891.0 1304.5,893.5 1304.5,896.0 1304.5,898.5 1304.6,901.0 1304.6,903.5 1304.7,906.0 1304.7,908.5 1304.8,911.0 1304.8,913.5 1304.9,916.0 1304.9,918.4 1305.0,920.9 1305.0,923.4 1305.1,925.9 1305.2,928.4 1305.2,930.9 1305.3,933.4 1305.4,935.9 1305.4,938.4 1305.5,940.9 1305.6,943.4 1305.6,945.9 1305.7,948.4 1305.8,950.8 1305.8,953.3 1305.9,955.8 1306.0,958.3 1306.1,960.8 1306.2,963.3 1306.2,965.8"/>
<circle cx="1331.9" cy="758.4" r="2.15" fill="#000" stroke="none"/>
<polyline stroke-width="2.7" points="1331.2,923.1 1331.4,758.4 1331.4,758.4 1331.4,760.9 1331.4,763.5 1331.4,766.0 1331.4,768.5 1331.4,771.0 1331.4,773.6 1331.4,776.1 1331.4,778.6 1331.4,781.1 1331.4,783.7 1331.4,786.2 1331.4,788.7 1331.4,791.3 1331.4,793.8 1331.4,796.3 1331.4,798.8 1331.4,801.4 1331.4,803.9 1331.4,806.4 1331.4,809.0 1331.4,811.5 1331.4,814.0 1331.4,816.5 1331.5,819.1 1331.5,821.6 1331.5,824.1 1331.5,826.6 1331.5,829.2 1331.5,831.7 1331.5,834.2 1331.5,836.8 1331.6,839.3 1331.6,841.8 1331.6,844.3 1331.6,846.9 1331.6,849.4 1331.7,851.9 1331.7,854.4 1331.7,857.0 1331.7,859.5 1331.8,862.0 1331.8,864.6 1331.8,867.1 1331.8,869.6 1331.9,872.1 1331.9,874.7 1331.9,877.2 1332.0,879.7 1332.0,882.2 1332.0,884.8 1332.1,887.3 1332.1,889.8 1332.1,892.4 1332.2,894.9 1332.2,897.4 1332.3,899.9 1332.3,902.5 1332.3,905.0 1332.4,907.5 1332.4,910.0 1332.5,912.6 1332.5,915.1 1332.6,917.6 1332.6,920.2 1332.7,922.7 1332.7,925.2 1332.8,927.7 1332.9,930.3 1332.9,932.8 1333.0,935.3 1333.0,937.9 1333.1,940.4 1333.2,942.9 1333.2,945.4 1333.3,948.0 1333.4,950.5 1333.4,953.0 1333.5,955.5 1333.6,958.1 1333.7,960.6"/>
<polyline stroke-width="4.1" stroke-dasharray="0 4.3" points="1332.2,923.1 1332.5,758.4 1332.5,758.4 1332.5,760.9 1332.5,763.5 1332.5,766.0 1332.5,768.5 1332.5,771.0 1332.5,773.6 1332.5,776.1 1332.5,778.6 1332.5,781.1 1332.5,783.7 1332.5,786.2 1332.5,788.7 1332.5,791.3 1332.5,793.8 1332.5,796.3 1332.5,798.8 1332.5,801.4 1332.5,803.9 1332.5,806.4 1332.5,809.0 1332.5,811.5 1332.5,814.0 1332.5,816.5 1332.6,819.1 1332.6,821.6 1332.6,824.1 1332.6,826.6 1332.6,829.2 1332.6,831.7 1332.6,834.2 1332.6,836.8 1332.7,839.3 1332.7,841.8 1332.7,844.3 1332.7,846.9 1332.7,849.4 1332.8,851.9 1332.8,854.4 1332.8,857.0 1332.8,859.5 1332.9,862.0 1332.9,864.6 1332.9,867.1 1332.9,869.6 1333.0,872.1 1333.0,874.7 1333.0,877.2 1333.1,879.7 1333.1,882.2 1333.1,884.8 1333.2,887.3 1333.2,889.8 1333.2,892.4 1333.3,894.9 1333.3,897.4 1333.4,899.9 1333.4,902.5 1333.4,905.0 1333.5,907.5 1333.5,910.0 1333.6,912.6 1333.6,915.1 1333.7,917.6 1333.7,920.2 1333.8,922.7 1333.8,925.2 1333.9,927.7 1334.0,930.3 1334.0,932.8 1334.1,935.3 1334.1,937.9 1334.2,940.4 1334.3,942.9 1334.3,945.4 1334.4,948.0 1334.5,950.5 1334.5,953.0 1334.6,955.5 1334.7,958.1 1334.8,960.6"/>
<circle cx="1358.9" cy="749.4" r="2.15" fill="#000" stroke="none"/>
<polyline stroke-width="2.7" points="1358.2,917.8 1358.4,749.4 1358.4,749.4 1358.4,752.0 1358.4,754.5 1358.4,757.1 1358.4,759.7 1358.4,762.2 1358.4,764.8 1358.4,767.4 1358.4,769.9 1358.4,772.5 1358.4,775.0 1358.4,777.6 1358.4,780.2 1358.4,782.7 1358.4,785.3 1358.4,787.9 1358.4,790.4 1358.4,793.0 1358.4,795.6 1358.4,798.1 1358.4,800.7 1358.4,803.3 1358.4,805.8 1358.5,808.4 1358.5,811.0 1358.5,813.5 1358.5,816.1 1358.5,818.7 1358.5,821.2 1358.5,823.8 1358.6,826.4 1358.6,828.9 1358.6,831.5 1358.6,834.0 1358.6,836.6 1358.7,839.2 1358.7,841.7 1358.7,844.3 1358.7,846.9 1358.8,849.4 1358.8,852.0 1358.8,854.6 1358.8,857.1 1358.9,859.7 1358.9,862.3 1358.9,864.8 1359.0,867.4 1359.0,870.0 1359.0,872.5 1359.1,875.1 1359.1,877.6 1359.2,880.2 1359.2,882.8 1359.2,885.3 1359.3,887.9 1359.3,890.5 1359.4,893.0 1359.4,895.6 1359.5,898.2 1359.5,900.7 1359.6,903.3 1359.6,905.9 1359.7,908.4 1359.7,911.0 1359.8,913.6 1359.9,916.1 1359.9,918.7 1360.0,921.3 1360.1,923.8 1360.1,926.4 1360.2,929.0 1360.3,931.5 1360.3,934.1 1360.4,936.6 1360.5,939.2 1360.5,941.8 1360.6,944.3 1360.7,946.9 1360.8,949.5 1360.9,952.0 1361.0,954.6"/>
<polyline stroke-width="4.1" stroke-dasharray="0 4.3" points="1359.2,917.8 1359.5,749.4 1359.5,749.4 1359.5,752.0 1359.5,754.5 1359.5,757.1 1359.5,759.7 1359.5,762.2 1359.5,764.8 1359.5,767.4 1359.5,769.9 1359.5,772.5 1359.5,775.0 1359.5,777.6 1359.5,780.2 1359.5,782.7 1359.5,785.3 1359.5,787.9 1359.5,790.4 1359.5,793.0 1359.5,795.6 1359.5,798.1 1359.5,800.7 1359.5,803.3 1359.5,805.8 1359.6,808.4 1359.6,811.0 1359.6,813.5 1359.6,816.1 1359.6,818.7 1359.6,821.2 1359.6,823.8 1359.7,826.4 1359.7,828.9 1359.7,831.5 1359.7,834.0 1359.7,836.6 1359.8,839.2 1359.8,841.7 1359.8,844.3 1359.8,846.9 1359.9,849.4 1359.9,852.0 1359.9,854.6 1359.9,857.1 1360.0,859.7 1360.0,862.3 1360.0,864.8 1360.1,867.4 1360.1,870.0 1360.1,872.5 1360.2,875.1 1360.2,877.6 1360.3,880.2 1360.3,882.8 1360.3,885.3 1360.4,887.9 1360.4,890.5 1360.5,893.0 1360.5,895.6 1360.6,898.2 1360.6,900.7 1360.7,903.3 1360.7,905.9 1360.8,908.4 1360.8,911.0 1360.9,913.6 1361.0,916.1 1361.0,918.7 1361.1,921.3 1361.2,923.8 1361.2,926.4 1361.3,929.0 1361.4,931.5 1361.4,934.1 1361.5,936.6 1361.6,939.2 1361.6,941.8 1361.7,944.3 1361.8,946.9 1361.9,949.5 1362.0,952.0 1362.0,954.6"/>
<circle cx="1385.2" cy="739.4" r="2.15" fill="#000" stroke="none"/>
<polyline stroke-width="2.7" points="1384.5,911.8 1384.7,739.4 1384.7,739.4 1384.7,742.0 1384.7,744.7 1384.7,747.3 1384.7,749.9 1384.7,752.6 1384.7,755.2 1384.7,757.8 1384.7,760.5 1384.7,763.1 1384.7,765.7 1384.7,768.4 1384.7,771.0 1384.7,773.6 1384.7,776.3 1384.7,778.9 1384.7,781.5 1384.7,784.2 1384.7,786.8 1384.7,789.4 1384.7,792.1 1384.7,794.7 1384.7,797.3 1384.7,800.0 1384.8,802.6 1384.8,805.2 1384.8,807.9 1384.8,810.5 1384.8,813.1 1384.8,815.8 1384.8,818.4 1384.8,821.0 1384.9,823.7 1384.9,826.3 1384.9,828.9 1384.9,831.6 1384.9,834.2 1385.0,836.8 1385.0,839.5 1385.0,842.1 1385.0,844.8 1385.1,847.4 1385.1,850.0 1385.1,852.7 1385.1,855.3 1385.2,857.9 1385.2,860.6 1385.2,863.2 1385.3,865.8 1385.3,868.5 1385.3,871.1 1385.4,873.7 1385.4,876.4 1385.4,879.0 1385.5,881.6 1385.5,884.3 1385.6,886.9 1385.6,889.5 1385.6,892.2 1385.7,894.8 1385.7,897.4 1385.8,900.1 1385.8,902.7 1385.9,905.3 1385.9,908.0 1386.0,910.6 1386.0,913.2 1386.1,915.9 1386.2,918.5 1386.2,921.1 1386.3,923.8 1386.3,926.4 1386.4,929.0 1386.5,931.7 1386.5,934.3 1386.6,936.9 1386.7,939.6 1386.7,942.2 1386.8,944.8 1386.9,947.5 1387.0,950.1"/>
<polyline stroke-width="4.1" stroke-dasharray="0 4.3" points="1385.5,911.8 1385.8,739.4 1385.8,739.4 1385.8,742.0 1385.8,744.7 1385.8,747.3 1385.8,749.9 1385.8,752.6 1385.8,755.2 1385.8,757.8 1385.8,760.5 1385.8,763.1 1385.8,765.7 1385.8,768.4 1385.8,771.0 1385.8,773.6 1385.8,776.3 1385.8,778.9 1385.8,781.5 1385.8,784.2 1385.8,786.8 1385.8,789.4 1385.8,792.1 1385.8,794.7 1385.8,797.3 1385.8,800.0 1385.9,802.6 1385.9,805.2 1385.9,807.9 1385.9,810.5 1385.9,813.1 1385.9,815.8 1385.9,818.4 1385.9,821.0 1386.0,823.7 1386.0,826.3 1386.0,828.9 1386.0,831.6 1386.0,834.2 1386.1,836.8 1386.1,839.5 1386.1,842.1 1386.1,844.8 1386.2,847.4 1386.2,850.0 1386.2,852.7 1386.2,855.3 1386.3,857.9 1386.3,860.6 1386.3,863.2 1386.4,865.8 1386.4,868.5 1386.4,871.1 1386.5,873.7 1386.5,876.4 1386.5,879.0 1386.6,881.6 1386.6,884.3 1386.7,886.9 1386.7,889.5 1386.7,892.2 1386.8,894.8 1386.8,897.4 1386.9,900.1 1386.9,902.7 1387.0,905.3 1387.0,908.0 1387.1,910.6 1387.1,913.2 1387.2,915.9 1387.3,918.5 1387.3,921.1 1387.4,923.8 1387.4,926.4 1387.5,929.0 1387.6,931.7 1387.6,934.3 1387.7,936.9 1387.8,939.6 1387.8,942.2 1387.9,944.8 1388.0,947.5 1388.0,950.1"/>
<circle cx="1409.9" cy="730.4" r="2.15" fill="#000" stroke="none"/>
<polyline stroke-width="2.7" points="1409.2,906.6 1409.4,730.4 1409.4,730.4 1409.4,733.1 1409.4,735.8 1409.4,738.4 1409.4,741.1 1409.4,743.8 1409.4,746.5 1409.4,749.2 1409.4,751.8 1409.4,754.5 1409.4,757.2 1409.4,759.9 1409.4,762.6 1409.4,765.2 1409.4,767.9 1409.4,770.6 1409.4,773.3 1409.4,776.0 1409.4,778.6 1409.4,781.3 1409.4,784.0 1409.4,786.7 1409.4,789.4 1409.4,792.0 1409.5,794.7 1409.5,797.4 1409.5,800.1 1409.5,802.8 1409.5,805.4 1409.5,808.1 1409.5,810.8 1409.5,813.5 1409.6,816.2 1409.6,818.8 1409.6,821.5 1409.6,824.2 1409.6,826.9 1409.7,829.6 1409.7,832.2 1409.7,834.9 1409.7,837.6 1409.8,840.3 1409.8,843.0 1409.8,845.6 1409.8,848.3 1409.9,851.0 1409.9,853.7 1409.9,856.4 1410.0,859.0 1410.0,861.7 1410.0,864.4 1410.1,867.1 1410.1,869.8 1410.1,872.4 1410.2,875.1 1410.2,877.8 1410.3,880.5 1410.3,883.2 1410.3,885.8 1410.4,888.5 1410.4,891.2 1410.5,893.9 1410.5,896.6 1410.6,899.2 1410.6,901.9 1410.7,904.6 1410.7,907.3 1410.8,910.0 1410.9,912.6 1410.9,915.3 1411.0,918.0 1411.0,920.7 1411.1,923.4 1411.2,926.0 1411.2,928.7 1411.3,931.4 1411.4,934.1 1411.4,936.8 1411.5,939.4 1411.6,942.1 1411.7,944.8"/>
<polyline stroke-width="4.1" stroke-dasharray="0 4.3" points="1410.2,906.6 1410.5,730.4 1410.5,730.4 1410.5,733.1 1410.5,735.8 1410.5,738.4 1410.5,741.1 1410.5,743.8 1410.5,746.5 1410.5,749.2 1410.5,751.8 1410.5,754.5 1410.5,757.2 1410.5,759.9 1410.5,762.6 1410.5,765.2 1410.5,767.9 1410.5,770.6 1410.5,773.3 1410.5,776.0 1410.5,778.6 1410.5,781.3 1410.5,784.0 1410.5,786.7 1410.5,789.4 1410.5,792.0 1410.6,794.7 1410.6,797.4 1410.6,800.1 1410.6,802.8 1410.6,805.4 1410.6,808.1 1410.6,810.8 1410.6,813.5 1410.7,816.2 1410.7,818.8 1410.7,821.5 1410.7,824.2 1410.7,826.9 1410.8,829.6 1410.8,832.2 1410.8,834.9 1410.8,837.6 1410.9,840.3 1410.9,843.0 1410.9,845.6 1410.9,848.3 1411.0,851.0 1411.0,853.7 1411.0,856.4 1411.1,859.0 1411.1,861.7 1411.1,864.4 1411.2,867.1 1411.2,869.8 1411.2,872.4 1411.3,875.1 1411.3,877.8 1411.4,880.5 1411.4,883.2 1411.4,885.8 1411.5,888.5 1411.5,891.2 1411.6,893.9 1411.6,896.6 1411.7,899.2 1411.7,901.9 1411.8,904.6 1411.8,907.3 1411.9,910.0 1412.0,912.6 1412.0,915.3 1412.1,918.0 1412.1,920.7 1412.2,923.4 1412.3,926.0 1412.3,928.7 1412.4,931.4 1412.5,934.1 1412.5,936.8 1412.6,939.4 1412.7,942.1 1412.8,944.8"/>
<circle cx="1434.1" cy="720.4" r="2.15" fill="#000" stroke="none"/>
<polyline stroke-width="2.7" points="1433.3,901.3 1433.5,720.4 1433.5,720.4 1433.6,723.1 1433.6,725.9 1433.6,728.6 1433.6,731.4 1433.6,734.1 1433.6,736.8 1433.6,739.6 1433.6,742.3 1433.6,745.1 1433.6,747.8 1433.6,750.5 1433.6,753.3 1433.6,756.0 1433.6,758.8 1433.6,761.5 1433.6,764.2 1433.6,767.0 1433.6,769.7 1433.6,772.5 1433.6,775.2 1433.6,777.9 1433.6,780.7 1433.6,783.4 1433.7,786.2 1433.7,788.9 1433.7,791.6 1433.7,794.4 1433.7,797.1 1433.7,799.9 1433.7,802.6 1433.8,805.3 1433.8,808.1 1433.8,810.8 1433.8,813.6 1433.8,816.3 1433.9,819.0 1433.9,821.8 1433.9,824.5 1433.9,827.3 1433.9,830.0 1434.0,832.7 1434.0,835.5 1434.0,838.2 1434.1,841.0 1434.1,843.7 1434.1,846.4 1434.2,849.2 1434.2,851.9 1434.2,854.7 1434.3,857.4 1434.3,860.1 1434.3,862.9 1434.4,865.6 1434.4,868.4 1434.5,871.1 1434.5,873.8 1434.5,876.6 1434.6,879.3 1434.6,882.1 1434.7,884.8 1434.7,887.5 1434.8,890.3 1434.8,893.0 1434.9,895.8 1434.9,898.5 1435.0,901.2 1435.1,904.0 1435.1,906.7 1435.2,909.5 1435.2,912.2 1435.3,914.9 1435.4,917.7 1435.4,920.4 1435.5,923.2 1435.6,925.9 1435.7,928.6 1435.7,931.4 1435.8,934.1 1435.9,936.9 1436.0,939.6"/>
<polyline stroke-width="4.1" stroke-dasharray="0 4.3" points="1434.4,901.3 1434.6,720.4 1434.6,720.4 1434.7,723.1 1434.7,725.9 1434.7,728.6 1434.7,731.4 1434.7,734.1 1434.7,736.8 1434.7,739.6 1434.7,742.3 1434.7,745.1 1434.7,747.8 1434.7,750.5 1434.7,753.3 1434.7,756.0 1434.7,758.8 1434.7,761.5 1434.7,764.2 1434.7,767.0 1434.7,769.7 1434.7,772.5 1434.7,775.2 1434.7,777.9 1434.7,780.7 1434.7,783.4 1434.8,786.2 1434.8,788.9 1434.8,791.6 1434.8,794.4 1434.8,797.1 1434.8,799.9 1434.8,802.6 1434.9,805.3 1434.9,808.1 1434.9,810.8 1434.9,813.6 1434.9,816.3 1435.0,819.0 1435.0,821.8 1435.0,824.5 1435.0,827.3 1435.0,830.0 1435.1,832.7 1435.1,835.5 1435.1,838.2 1435.2,841.0 1435.2,843.7 1435.2,846.4 1435.3,849.2 1435.3,851.9 1435.3,854.7 1435.4,857.4 1435.4,860.1 1435.4,862.9 1435.5,865.6 1435.5,868.4 1435.6,871.1 1435.6,873.8 1435.6,876.6 1435.7,879.3 1435.7,882.1 1435.8,884.8 1435.8,887.5 1435.9,890.3 1435.9,893.0 1436.0,895.8 1436.0,898.5 1436.1,901.2 1436.2,904.0 1436.2,906.7 1436.3,909.5 1436.3,912.2 1436.4,914.9 1436.5,917.7 1436.5,920.4 1436.6,923.2 1436.7,925.9 1436.8,928.6 1436.8,931.4 1436.9,934.1 1437.0,936.9 1437.0,939.6"/>
<circle cx="1457.7" cy="711.4" r="2.15" fill="#000" stroke="none"/>
<polyline stroke-width="2.7" points="1457.0,894.6 1457.2,711.4 1457.2,711.4 1457.2,714.2 1457.2,716.9 1457.2,719.7 1457.2,722.5 1457.2,725.3 1457.2,728.0 1457.2,730.8 1457.2,733.6 1457.2,736.4 1457.2,739.1 1457.2,741.9 1457.2,744.7 1457.2,747.5 1457.2,750.2 1457.2,753.0 1457.2,755.8 1457.2,758.6 1457.2,761.3 1457.2,764.1 1457.2,766.9 1457.2,769.6 1457.2,772.4 1457.2,775.2 1457.2,778.0 1457.2,780.7 1457.2,783.5 1457.3,786.3 1457.3,789.1 1457.3,791.8 1457.3,794.6 1457.3,797.4 1457.3,800.2 1457.3,802.9 1457.3,805.7 1457.4,808.5 1457.4,811.3 1457.4,814.0 1457.4,816.8 1457.4,819.6 1457.4,822.4 1457.5,825.1 1457.5,827.9 1457.5,830.7 1457.5,833.4 1457.6,836.2 1457.6,839.0 1457.6,841.8 1457.6,844.5 1457.7,847.3 1457.7,850.1 1457.7,852.9 1457.7,855.6 1457.8,858.4 1457.8,861.2 1457.8,864.0 1457.9,866.7 1457.9,869.5 1457.9,872.3 1458.0,875.1 1458.0,877.8 1458.0,880.6 1458.1,883.4 1458.1,886.1 1458.2,888.9 1458.2,891.7 1458.2,894.5 1458.3,897.2 1458.3,900.0 1458.4,902.8 1458.4,905.6 1458.5,908.3 1458.5,911.1 1458.6,913.9 1458.6,916.7 1458.7,919.4 1458.7,922.2 1458.8,925.0 1458.8,927.8 1458.9,930.5 1459.0,933.3"/>
<polyline stroke-width="4.1" stroke-dasharray="0 4.3" points="1458.0,894.6 1458.2,711.4 1458.2,711.4 1458.3,714.2 1458.3,716.9 1458.3,719.7 1458.3,722.5 1458.3,725.3 1458.3,728.0 1458.3,730.8 1458.3,733.6 1458.3,736.4 1458.3,739.1 1458.3,741.9 1458.3,744.7 1458.3,747.5 1458.3,750.2 1458.3,753.0 1458.3,755.8 1458.3,758.6 1458.3,761.3 1458.3,764.1 1458.3,766.9 1458.3,769.6 1458.3,772.4 1458.3,775.2 1458.3,778.0 1458.3,780.7 1458.3,783.5 1458.4,786.3 1458.4,789.1 1458.4,791.8 1458.4,794.6 1458.4,797.4 1458.4,800.2 1458.4,802.9 1458.4,805.7 1458.5,808.5 1458.5,811.3 1458.5,814.0 1458.5,816.8 1458.5,819.6 1458.5,822.4 1458.6,825.1 1458.6,827.9 1458.6,830.7 1458.6,833.4 1458.7,836.2 1458.7,839.0 1458.7,841.8 1458.7,844.5 1458.8,847.3 1458.8,850.1 1458.8,852.9 1458.8,855.6 1458.9,858.4 1458.9,861.2 1458.9,864.0 1459.0,866.7 1459.0,869.5 1459.0,872.3 1459.1,875.1 1459.1,877.8 1459.1,880.6 1459.2,883.4 1459.2,886.1 1459.3,888.9 1459.3,891.7 1459.3,894.5 1459.4,897.2 1459.4,900.0 1459.5,902.8 1459.5,905.6 1459.6,908.3 1459.6,911.1 1459.7,913.9 1459.7,916.7 1459.8,919.4 1459.8,922.2 1459.9,925.0 1459.9,927.8 1460.0,930.5 1460.0,933.3"/>
<circle cx="1479.8" cy="701.1" r="2.15" fill="#000" stroke="none"/>
<polyline stroke-width="2.7" points="1479.0,889.1 1479.2,701.1 1479.2,701.1 1479.3,703.9 1479.3,706.8 1479.3,709.6 1479.3,712.4 1479.3,715.3 1479.3,718.1 1479.3,721.0 1479.3,723.8 1479.3,726.6 1479.3,729.5 1479.3,732.3 1479.3,735.1 1479.3,738.0 1479.3,740.8 1479.3,743.6 1479.3,746.5 1479.3,749.3 1479.3,752.2 1479.3,755.0 1479.3,757.8 1479.3,760.7 1479.3,763.5 1479.3,766.3 1479.3,769.2 1479.3,772.0 1479.3,774.8 1479.4,777.7 1479.4,780.5 1479.4,783.4 1479.4,786.2 1479.4,789.0 1479.4,791.9 1479.4,794.7 1479.4,797.5 1479.4,800.4 1479.5,803.2 1479.5,806.0 1479.5,808.9 1479.5,811.7 1479.5,814.5 1479.5,817.4 1479.6,820.2 1479.6,823.1 1479.6,825.9 1479.6,828.7 1479.7,831.6 1479.7,834.4 1479.7,837.2 1479.7,840.1 1479.8,842.9 1479.8,845.7 1479.8,848.6 1479.8,851.4 1479.9,854.3 1479.9,857.1 1479.9,859.9 1480.0,862.8 1480.0,865.6 1480.0,868.4 1480.1,871.3 1480.1,874.1 1480.1,876.9 1480.2,879.8 1480.2,882.6 1480.2,885.5 1480.3,888.3 1480.3,891.1 1480.4,894.0 1480.4,896.8 1480.5,899.6 1480.5,902.5 1480.5,905.3 1480.6,908.1 1480.6,911.0 1480.7,913.8 1480.7,916.7 1480.8,919.5 1480.8,922.3 1480.9,925.2 1481.0,928.0"/>
<polyline stroke-width="4.1" stroke-dasharray="0 4.3" points="1480.1,889.1 1480.3,701.1 1480.3,701.1 1480.4,703.9 1480.4,706.8 1480.4,709.6 1480.4,712.4 1480.4,715.3 1480.4,718.1 1480.4,721.0 1480.4,723.8 1480.4,726.6 1480.4,729.5 1480.4,732.3 1480.4,735.1 1480.4,738.0 1480.4,740.8 1480.4,743.6 1480.4,746.5 1480.4,749.3 1480.4,752.2 1480.4,755.0 1480.4,757.8 1480.4,760.7 1480.4,763.5 1480.4,766.3 1480.4,769.2 1480.4,772.0 1480.4,774.8 1480.5,777.7 1480.5,780.5 1480.5,783.4 1480.5,786.2 1480.5,789.0 1480.5,791.9 1480.5,794.7 1480.5,797.5 1480.5,800.4 1480.6,803.2 1480.6,806.0 1480.6,808.9 1480.6,811.7 1480.6,814.5 1480.6,817.4 1480.7,820.2 1480.7,823.1 1480.7,825.9 1480.7,828.7 1480.8,831.6 1480.8,834.4 1480.8,837.2 1480.8,840.1 1480.9,842.9 1480.9,845.7 1480.9,848.6 1480.9,851.4 1481.0,854.3 1481.0,857.1 1481.0,859.9 1481.1,862.8 1481.1,865.6 1481.1,868.4 1481.2,871.3 1481.2,874.1 1481.2,876.9 1481.3,879.8 1481.3,882.6 1481.3,885.5 1481.4,888.3 1481.4,891.1 1481.5,894.0 1481.5,896.8 1481.6,899.6 1481.6,902.5 1481.6,905.3 1481.7,908.1 1481.7,911.0 1481.8,913.8 1481.8,916.7 1481.9,919.5 1481.9,922.3 1482.0,925.2 1482.0,928.0"/>
<circle cx="1501.7" cy="689.9" r="2.15" fill="#000" stroke="none"/>
<polyline stroke-width="2.7" points="1501.0,882.6 1501.2,689.9 1501.2,689.9 1501.2,692.8 1501.2,695.7 1501.2,698.6 1501.2,701.5 1501.2,704.4 1501.2,707.2 1501.2,710.1 1501.2,713.0 1501.2,715.9 1501.2,718.8 1501.2,721.7 1501.2,724.6 1501.2,727.5 1501.2,730.4 1501.2,733.2 1501.2,736.1 1501.2,739.0 1501.2,741.9 1501.2,744.8 1501.2,747.7 1501.2,750.6 1501.2,753.5 1501.2,756.4 1501.2,759.3 1501.2,762.1 1501.2,765.0 1501.3,767.9 1501.3,770.8 1501.3,773.7 1501.3,776.6 1501.3,779.5 1501.3,782.4 1501.3,785.3 1501.3,788.2 1501.3,791.0 1501.4,793.9 1501.4,796.8 1501.4,799.7 1501.4,802.6 1501.4,805.5 1501.4,808.4 1501.5,811.3 1501.5,814.2 1501.5,817.1 1501.5,820.0 1501.6,822.8 1501.6,825.7 1501.6,828.6 1501.6,831.5 1501.7,834.4 1501.7,837.3 1501.7,840.2 1501.7,843.1 1501.8,846.0 1501.8,848.9 1501.8,851.7 1501.9,854.6 1501.9,857.5 1501.9,860.4 1502.0,863.3 1502.0,866.2 1502.0,869.1 1502.1,872.0 1502.1,874.9 1502.1,877.8 1502.2,880.6 1502.2,883.5 1502.3,886.4 1502.3,889.3 1502.4,892.2 1502.4,895.1 1502.4,898.0 1502.5,900.9 1502.5,903.8 1502.6,906.7 1502.6,909.5 1502.7,912.4 1502.7,915.3 1502.8,918.2 1502.9,921.1"/>
<polyline stroke-width="4.1" stroke-dasharray="0 4.3" points="1502.0,882.6 1502.2,689.9 1502.2,689.9 1502.3,692.8 1502.3,695.7 1502.3,698.6 1502.3,701.5 1502.3,704.4 1502.3,707.2 1502.3,710.1 1502.3,713.0 1502.3,715.9 1502.3,718.8 1502.3,721.7 1502.3,724.6 1502.3,727.5 1502.3,730.4 1502.3,733.2 1502.3,736.1 1502.3,739.0 1502.3,741.9 1502.3,744.8 1502.3,747.7 1502.3,750.6 1502.3,753.5 1502.3,756.4 1502.3,759.3 1502.3,762.1 1502.3,765.0 1502.4,767.9 1502.4,770.8 1502.4,773.7 1502.4,776.6 1502.4,779.5 1502.4,782.4 1502.4,785.3 1502.4,788.2 1502.4,791.0 1502.5,793.9 1502.5,796.8 1502.5,799.7 1502.5,802.6 1502.5,805.5 1502.5,808.4 1502.6,811.3 1502.6,814.2 1502.6,817.1 1502.6,820.0 1502.7,822.8 1502.7,825.7 1502.7,828.6 1502.7,831.5 1502.8,834.4 1502.8,837.3 1502.8,840.2 1502.8,843.1 1502.9,846.0 1502.9,848.9 1502.9,851.7 1503.0,854.6 1503.0,857.5 1503.0,860.4 1503.1,863.3 1503.1,866.2 1503.1,869.1 1503.2,872.0 1503.2,874.9 1503.2,877.8 1503.3,880.6 1503.3,883.5 1503.4,886.4 1503.4,889.3 1503.5,892.2 1503.5,895.1 1503.5,898.0 1503.6,900.9 1503.6,903.8 1503.7,906.7 1503.7,909.5 1503.8,912.4 1503.8,915.3 1503.9,918.2 1504.0,921.1"/>
<circle cx="1522.4" cy="679.6" r="2.15" fill="#000" stroke="none"/>
<polyline stroke-width="2.7" points="1521.7,875.8 1521.9,679.6 1521.9,679.6 1521.9,682.5 1521.9,685.5 1521.9,688.4 1521.9,691.4 1521.9,694.3 1521.9,697.2 1521.9,700.2 1521.9,703.1 1521.9,706.1 1521.9,709.0 1521.9,712.0 1521.9,714.9 1521.9,717.8 1521.9,720.8 1521.9,723.7 1521.9,726.7 1521.9,729.6 1521.9,732.5 1521.9,735.5 1521.9,738.4 1521.9,741.4 1521.9,744.3 1521.9,747.2 1521.9,750.2 1521.9,753.1 1522.0,756.1 1522.0,759.0 1522.0,762.0 1522.0,764.9 1522.0,767.8 1522.0,770.8 1522.0,773.7 1522.0,776.7 1522.1,779.6 1522.1,782.5 1522.1,785.5 1522.1,788.4 1522.1,791.4 1522.1,794.3 1522.2,797.2 1522.2,800.2 1522.2,803.1 1522.2,806.1 1522.3,809.0 1522.3,812.0 1522.3,814.9 1522.3,817.8 1522.4,820.8 1522.4,823.7 1522.4,826.7 1522.4,829.6 1522.5,832.5 1522.5,835.5 1522.5,838.4 1522.6,841.4 1522.6,844.3 1522.6,847.3 1522.7,850.2 1522.7,853.1 1522.7,856.1 1522.8,859.0 1522.8,862.0 1522.9,864.9 1522.9,867.8 1523.0,870.8 1523.0,873.7 1523.0,876.7 1523.1,879.6 1523.1,882.5 1523.2,885.5 1523.2,888.4 1523.3,891.4 1523.3,894.3 1523.4,897.3 1523.5,900.2 1523.5,903.1 1523.6,906.1 1523.6,909.0 1523.7,912.0 1523.8,914.9"/>
<polyline stroke-width="4.1" stroke-dasharray="0 4.3" points="1522.8,875.8 1523.0,679.6 1523.0,679.6 1523.0,682.5 1523.0,685.5 1523.0,688.4 1523.0,691.4 1523.0,694.3 1523.0,697.2 1523.0,700.2 1523.0,703.1 1523.0,706.1 1523.0,709.0 1523.0,712.0 1523.0,714.9 1523.0,717.8 1523.0,720.8 1523.0,723.7 1523.0,726.7 1523.0,729.6 1523.0,732.5 1523.0,735.5 1523.0,738.4 1523.0,741.4 1523.0,744.3 1523.0,747.2 1523.0,750.2 1523.0,753.1 1523.1,756.1 1523.1,759.0 1523.1,762.0 1523.1,764.9 1523.1,767.8 1523.1,770.8 1523.1,773.7 1523.1,776.7 1523.2,779.6 1523.2,782.5 1523.2,785.5 1523.2,788.4 1523.2,791.4 1523.2,794.3 1523.3,797.2 1523.3,800.2 1523.3,803.1 1523.3,806.1 1523.4,809.0 1523.4,812.0 1523.4,814.9 1523.4,817.8 1523.5,820.8 1523.5,823.7 1523.5,826.7 1523.5,829.6 1523.6,832.5 1523.6,835.5 1523.6,838.4 1523.7,841.4 1523.7,844.3 1523.7,847.3 1523.8,850.2 1523.8,853.1 1523.8,856.1 1523.9,859.0 1523.9,862.0 1524.0,864.9 1524.0,867.8 1524.1,870.8 1524.1,873.7 1524.1,876.7 1524.2,879.6 1524.2,882.5 1524.3,885.5 1524.3,888.4 1524.4,891.4 1524.4,894.3 1524.5,897.3 1524.6,900.2 1524.6,903.1 1524.7,906.1 1524.7,909.0 1524.8,912.0 1524.8,914.9"/>
<circle cx="1542.9" cy="668.2" r="2.15" fill="#000" stroke="none"/>
<polyline stroke-width="2.3" points="1542.4,868.9 1542.6,668.2 1542.6,668.2 1542.6,671.2 1542.6,674.2 1542.6,677.2 1542.6,680.2 1542.6,683.2 1542.6,686.2 1542.6,689.1 1542.6,692.1 1542.6,695.1 1542.6,698.1 1542.6,701.1 1542.6,704.1 1542.6,707.1 1542.6,710.1 1542.6,713.1 1542.6,716.1 1542.6,719.1 1542.6,722.1 1542.6,725.1 1542.6,728.0 1542.6,731.0 1542.6,734.0 1542.6,737.0 1542.6,740.0 1542.6,743.0 1542.6,746.0 1542.6,749.0 1542.6,752.0 1542.7,755.0 1542.7,758.0 1542.7,761.0 1542.7,764.0 1542.7,767.0 1542.7,769.9 1542.7,772.9 1542.7,775.9 1542.8,778.9 1542.8,781.9 1542.8,784.9 1542.8,787.9 1542.8,790.9 1542.8,793.9 1542.8,796.9 1542.9,799.9 1542.9,802.9 1542.9,805.9 1542.9,808.8 1542.9,811.8 1543.0,814.8 1543.0,817.8 1543.0,820.8 1543.0,823.8 1543.1,826.8 1543.1,829.8 1543.1,832.8 1543.1,835.8 1543.2,838.8 1543.2,841.8 1543.2,844.8 1543.3,847.8 1543.3,850.7 1543.3,853.7 1543.4,856.7 1543.4,859.7 1543.4,862.7 1543.5,865.7 1543.5,868.7 1543.5,871.7 1543.6,874.7 1543.6,877.7 1543.6,880.7 1543.7,883.7 1543.7,886.7 1543.8,889.6 1543.8,892.6 1543.9,895.6 1543.9,898.6 1544.0,901.6 1544.0,904.6 1544.1,907.6"/>
<polyline stroke-width="4.1" stroke-dasharray="0 5.4" points="1543.0,868.9 1543.2,668.2 1543.2,668.2 1543.3,671.2 1543.3,674.2 1543.3,677.2 1543.3,680.2 1543.3,683.2 1543.3,686.2 1543.3,689.1 1543.3,692.1 1543.3,695.1 1543.3,698.1 1543.3,701.1 1543.3,704.1 1543.3,707.1 1543.3,710.1 1543.3,713.1 1543.3,716.1 1543.3,719.1 1543.3,722.1 1543.3,725.1 1543.3,728.0 1543.3,731.0 1543.3,734.0 1543.3,737.0 1543.3,740.0 1543.3,743.0 1543.3,746.0 1543.3,749.0 1543.3,752.0 1543.4,755.0 1543.4,758.0 1543.4,761.0 1543.4,764.0 1543.4,767.0 1543.4,769.9 1543.4,772.9 1543.4,775.9 1543.5,778.9 1543.5,781.9 1543.5,784.9 1543.5,787.9 1543.5,790.9 1543.5,793.9 1543.5,796.9 1543.6,799.9 1543.6,802.9 1543.6,805.9 1543.6,808.8 1543.6,811.8 1543.7,814.8 1543.7,817.8 1543.7,820.8 1543.7,823.8 1543.8,826.8 1543.8,829.8 1543.8,832.8 1543.8,835.8 1543.9,838.8 1543.9,841.8 1543.9,844.8 1544.0,847.8 1544.0,850.7 1544.0,853.7 1544.1,856.7 1544.1,859.7 1544.1,862.7 1544.2,865.7 1544.2,868.7 1544.2,871.7 1544.3,874.7 1544.3,877.7 1544.3,880.7 1544.4,883.7 1544.4,886.7 1544.5,889.6 1544.5,892.6 1544.6,895.6 1544.6,898.6 1544.7,901.6 1544.7,904.6 1544.8,907.6"/>
<circle cx="1562.3" cy="655.7" r="2.15" fill="#000" stroke="none"/>
<polyline stroke-width="2.3" points="1561.8,861.6 1562.0,655.7 1562.0,655.7 1562.0,658.8 1562.0,661.8 1562.0,664.9 1562.0,667.9 1562.0,671.0 1562.0,674.0 1562.0,677.1 1562.0,680.1 1562.0,683.2 1562.0,686.2 1562.0,689.3 1562.0,692.4 1562.0,695.4 1562.0,698.5 1562.0,701.5 1562.0,704.6 1562.0,707.6 1562.0,710.7 1562.0,713.7 1562.0,716.8 1562.0,719.9 1562.0,722.9 1562.0,726.0 1562.0,729.0 1562.0,732.1 1562.0,735.1 1562.0,738.2 1562.0,741.2 1562.0,744.3 1562.1,747.3 1562.1,750.4 1562.1,753.5 1562.1,756.5 1562.1,759.6 1562.1,762.6 1562.1,765.7 1562.1,768.7 1562.1,771.8 1562.2,774.8 1562.2,777.9 1562.2,781.0 1562.2,784.0 1562.2,787.1 1562.2,790.1 1562.2,793.2 1562.3,796.2 1562.3,799.3 1562.3,802.3 1562.3,805.4 1562.3,808.5 1562.4,811.5 1562.4,814.6 1562.4,817.6 1562.4,820.7 1562.4,823.7 1562.5,826.8 1562.5,829.8 1562.5,832.9 1562.5,835.9 1562.6,839.0 1562.6,842.1 1562.6,845.1 1562.6,848.2 1562.7,851.2 1562.7,854.3 1562.7,857.3 1562.8,860.4 1562.8,863.4 1562.8,866.5 1562.9,869.5 1562.9,872.6 1562.9,875.7 1563.0,878.7 1563.0,881.8 1563.0,884.8 1563.1,887.9 1563.1,890.9 1563.2,894.0 1563.2,897.0 1563.2,900.1"/>
<polyline stroke-width="4.1" stroke-dasharray="0 5.4" points="1562.4,861.6 1562.6,655.7 1562.6,655.7 1562.7,658.8 1562.7,661.8 1562.7,664.9 1562.7,667.9 1562.7,671.0 1562.7,674.0 1562.7,677.1 1562.7,680.1 1562.7,683.2 1562.7,686.2 1562.7,689.3 1562.7,692.4 1562.7,695.4 1562.7,698.5 1562.7,701.5 1562.7,704.6 1562.7,707.6 1562.7,710.7 1562.7,713.7 1562.7,716.8 1562.7,719.9 1562.7,722.9 1562.7,726.0 1562.7,729.0 1562.7,732.1 1562.7,735.1 1562.7,738.2 1562.7,741.2 1562.7,744.3 1562.8,747.3 1562.8,750.4 1562.8,753.5 1562.8,756.5 1562.8,759.6 1562.8,762.6 1562.8,765.7 1562.8,768.7 1562.8,771.8 1562.9,774.8 1562.9,777.9 1562.9,781.0 1562.9,784.0 1562.9,787.1 1562.9,790.1 1562.9,793.2 1563.0,796.2 1563.0,799.3 1563.0,802.3 1563.0,805.4 1563.0,808.5 1563.1,811.5 1563.1,814.6 1563.1,817.6 1563.1,820.7 1563.1,823.7 1563.2,826.8 1563.2,829.8 1563.2,832.9 1563.2,835.9 1563.3,839.0 1563.3,842.1 1563.3,845.1 1563.3,848.2 1563.4,851.2 1563.4,854.3 1563.4,857.3 1563.5,860.4 1563.5,863.4 1563.5,866.5 1563.6,869.5 1563.6,872.6 1563.6,875.7 1563.7,878.7 1563.7,881.8 1563.7,884.8 1563.8,887.9 1563.8,890.9 1563.9,894.0 1563.9,897.0 1563.9,900.1"/>
<circle cx="1581.2" cy="641.7" r="2.15" fill="#000" stroke="none"/>
<polyline stroke-width="2.3" points="1580.7,853.6 1580.9,641.7 1580.9,641.7 1580.9,644.8 1580.9,648.0 1580.9,651.1 1580.9,654.2 1580.9,657.4 1580.9,660.5 1580.9,663.7 1580.9,666.8 1580.9,669.9 1580.9,673.1 1580.9,676.2 1580.9,679.3 1580.9,682.5 1580.9,685.6 1580.9,688.7 1580.9,691.9 1580.9,695.0 1580.9,698.2 1580.9,701.3 1580.9,704.4 1580.9,707.6 1580.9,710.7 1580.9,713.8 1580.9,717.0 1580.9,720.1 1580.9,723.2 1580.9,726.4 1580.9,729.5 1580.9,732.7 1580.9,735.8 1581.0,738.9 1581.0,742.1 1581.0,745.2 1581.0,748.3 1581.0,751.5 1581.0,754.6 1581.0,757.7 1581.0,760.9 1581.0,764.0 1581.0,767.1 1581.1,770.3 1581.1,773.4 1581.1,776.6 1581.1,779.7 1581.1,782.8 1581.1,786.0 1581.2,789.1 1581.2,792.2 1581.2,795.4 1581.2,798.5 1581.2,801.6 1581.2,804.8 1581.3,807.9 1581.3,811.1 1581.3,814.2 1581.3,817.3 1581.3,820.5 1581.4,823.6 1581.4,826.7 1581.4,829.9 1581.4,833.0 1581.5,836.1 1581.5,839.3 1581.5,842.4 1581.5,845.6 1581.6,848.7 1581.6,851.8 1581.6,855.0 1581.7,858.1 1581.7,861.2 1581.7,864.4 1581.8,867.5 1581.8,870.6 1581.8,873.8 1581.9,876.9 1581.9,880.1 1581.9,883.2 1582.0,886.3 1582.0,889.5 1582.1,892.6"/>
<polyline stroke-width="4.1" stroke-dasharray="0 5.4" points="1581.3,853.6 1581.5,641.7 1581.5,641.7 1581.6,644.8 1581.6,648.0 1581.6,651.1 1581.6,654.2 1581.6,657.4 1581.6,660.5 1581.6,663.7 1581.6,666.8 1581.6,669.9 1581.6,673.1 1581.6,676.2 1581.6,679.3 1581.6,682.5 1581.6,685.6 1581.6,688.7 1581.6,691.9 1581.6,695.0 1581.6,698.2 1581.6,701.3 1581.6,704.4 1581.6,707.6 1581.6,710.7 1581.6,713.8 1581.6,717.0 1581.6,720.1 1581.6,723.2 1581.6,726.4 1581.6,729.5 1581.6,732.7 1581.6,735.8 1581.7,738.9 1581.7,742.1 1581.7,745.2 1581.7,748.3 1581.7,751.5 1581.7,754.6 1581.7,757.7 1581.7,760.9 1581.7,764.0 1581.7,767.1 1581.8,770.3 1581.8,773.4 1581.8,776.6 1581.8,779.7 1581.8,782.8 1581.8,786.0 1581.9,789.1 1581.9,792.2 1581.9,795.4 1581.9,798.5 1581.9,801.6 1581.9,804.8 1582.0,807.9 1582.0,811.1 1582.0,814.2 1582.0,817.3 1582.0,820.5 1582.1,823.6 1582.1,826.7 1582.1,829.9 1582.1,833.0 1582.2,836.1 1582.2,839.3 1582.2,842.4 1582.2,845.6 1582.3,848.7 1582.3,851.8 1582.3,855.0 1582.4,858.1 1582.4,861.2 1582.4,864.4 1582.5,867.5 1582.5,870.6 1582.5,873.8 1582.6,876.9 1582.6,880.1 1582.6,883.2 1582.7,886.3 1582.7,889.5 1582.8,892.6"/>
<circle cx="1599.5" cy="624.4" r="2.15" fill="#000" stroke="none"/>
<polyline stroke-width="2.3" points="1599.0,845.6 1599.2,624.4 1599.2,624.4 1599.2,627.6 1599.2,630.9 1599.2,634.1 1599.2,637.4 1599.2,640.6 1599.2,643.9 1599.2,647.1 1599.2,650.4 1599.2,653.6 1599.2,656.8 1599.2,660.1 1599.2,663.3 1599.2,666.6 1599.2,669.8 1599.2,673.1 1599.2,676.3 1599.2,679.5 1599.2,682.8 1599.2,686.0 1599.2,689.3 1599.2,692.5 1599.2,695.8 1599.2,699.0 1599.2,702.2 1599.2,705.5 1599.2,708.7 1599.2,712.0 1599.2,715.2 1599.2,718.5 1599.2,721.7 1599.3,725.0 1599.3,728.2 1599.3,731.4 1599.3,734.7 1599.3,737.9 1599.3,741.2 1599.3,744.4 1599.3,747.7 1599.3,750.9 1599.3,754.1 1599.4,757.4 1599.4,760.6 1599.4,763.9 1599.4,767.1 1599.4,770.4 1599.4,773.6 1599.5,776.9 1599.5,780.1 1599.5,783.3 1599.5,786.6 1599.5,789.8 1599.5,793.1 1599.6,796.3 1599.6,799.6 1599.6,802.8 1599.6,806.0 1599.6,809.3 1599.7,812.5 1599.7,815.8 1599.7,819.0 1599.7,822.3 1599.8,825.5 1599.8,828.8 1599.8,832.0 1599.8,835.2 1599.9,838.5 1599.9,841.7 1599.9,845.0 1600.0,848.2 1600.0,851.5 1600.0,854.7 1600.1,858.0 1600.1,861.2 1600.1,864.4 1600.2,867.7 1600.2,870.9 1600.2,874.2 1600.3,877.4 1600.3,880.7 1600.4,883.9"/>
<polyline stroke-width="4.1" stroke-dasharray="0 5.4" points="1599.6,845.6 1599.8,624.4 1599.8,624.4 1599.9,627.6 1599.9,630.9 1599.9,634.1 1599.9,637.4 1599.9,640.6 1599.9,643.9 1599.9,647.1 1599.9,650.4 1599.9,653.6 1599.9,656.8 1599.9,660.1 1599.9,663.3 1599.9,666.6 1599.9,669.8 1599.9,673.1 1599.9,676.3 1599.9,679.5 1599.9,682.8 1599.9,686.0 1599.9,689.3 1599.9,692.5 1599.9,695.8 1599.9,699.0 1599.9,702.2 1599.9,705.5 1599.9,708.7 1599.9,712.0 1599.9,715.2 1599.9,718.5 1599.9,721.7 1600.0,725.0 1600.0,728.2 1600.0,731.4 1600.0,734.7 1600.0,737.9 1600.0,741.2 1600.0,744.4 1600.0,747.7 1600.0,750.9 1600.0,754.1 1600.1,757.4 1600.1,760.6 1600.1,763.9 1600.1,767.1 1600.1,770.4 1600.1,773.6 1600.2,776.9 1600.2,780.1 1600.2,783.3 1600.2,786.6 1600.2,789.8 1600.2,793.1 1600.3,796.3 1600.3,799.6 1600.3,802.8 1600.3,806.0 1600.3,809.3 1600.4,812.5 1600.4,815.8 1600.4,819.0 1600.4,822.3 1600.5,825.5 1600.5,828.8 1600.5,832.0 1600.5,835.2 1600.6,838.5 1600.6,841.7 1600.6,845.0 1600.7,848.2 1600.7,851.5 1600.7,854.7 1600.8,858.0 1600.8,861.2 1600.8,864.4 1600.9,867.7 1600.9,870.9 1600.9,874.2 1601.0,877.4 1601.0,880.7 1601.0,883.9"/>
<circle cx="1617.2" cy="607.7" r="2.15" fill="#000" stroke="none"/>
<polyline stroke-width="2.3" points="1616.7,836.9 1616.9,607.7 1616.9,607.7 1616.9,611.0 1616.9,614.4 1616.9,617.7 1616.9,621.0 1616.9,624.4 1616.9,627.7 1616.9,631.1 1616.9,634.4 1616.9,637.7 1616.9,641.1 1616.9,644.4 1616.9,647.8 1616.9,651.1 1616.9,654.4 1616.9,657.8 1616.9,661.1 1616.9,664.4 1616.9,667.8 1616.9,671.1 1616.9,674.4 1616.9,677.8 1616.9,681.1 1616.9,684.5 1616.9,687.8 1616.9,691.1 1616.9,694.5 1616.9,697.8 1616.9,701.1 1616.9,704.5 1616.9,707.8 1617.0,711.2 1617.0,714.5 1617.0,717.8 1617.0,721.2 1617.0,724.5 1617.0,727.9 1617.0,731.2 1617.0,734.5 1617.0,737.9 1617.0,741.2 1617.1,744.5 1617.1,747.9 1617.1,751.2 1617.1,754.5 1617.1,757.9 1617.1,761.2 1617.2,764.6 1617.2,767.9 1617.2,771.2 1617.2,774.6 1617.2,777.9 1617.2,781.2 1617.3,784.6 1617.3,787.9 1617.3,791.3 1617.3,794.6 1617.3,797.9 1617.4,801.3 1617.4,804.6 1617.4,808.0 1617.4,811.3 1617.5,814.6 1617.5,818.0 1617.5,821.3 1617.5,824.6 1617.6,828.0 1617.6,831.3 1617.6,834.7 1617.7,838.0 1617.7,841.3 1617.7,844.7 1617.8,848.0 1617.8,851.3 1617.8,854.7 1617.9,858.0 1617.9,861.4 1617.9,864.7 1618.0,868.0 1618.0,871.4 1618.1,874.7"/>
<polyline stroke-width="4.1" stroke-dasharray="0 5.4" points="1617.3,836.9 1617.5,607.7 1617.5,607.7 1617.6,611.0 1617.6,614.4 1617.6,617.7 1617.6,621.0 1617.6,624.4 1617.6,627.7 1617.6,631.1 1617.6,634.4 1617.6,637.7 1617.6,641.1 1617.6,644.4 1617.6,647.8 1617.6,651.1 1617.6,654.4 1617.6,657.8 1617.6,661.1 1617.6,664.4 1617.6,667.8 1617.6,671.1 1617.6,674.4 1617.6,677.8 1617.6,681.1 1617.6,684.5 1617.6,687.8 1617.6,691.1 1617.6,694.5 1617.6,697.8 1617.6,701.1 1617.6,704.5 1617.6,707.8 1617.7,711.2 1617.7,714.5 1617.7,717.8 1617.7,721.2 1617.7,724.5 1617.7,727.9 1617.7,731.2 1617.7,734.5 1617.7,737.9 1617.7,741.2 1617.8,744.5 1617.8,747.9 1617.8,751.2 1617.8,754.5 1617.8,757.9 1617.8,761.2 1617.9,764.6 1617.9,767.9 1617.9,771.2 1617.9,774.6 1617.9,777.9 1617.9,781.2 1618.0,784.6 1618.0,787.9 1618.0,791.3 1618.0,794.6 1618.0,797.9 1618.1,801.3 1618.1,804.6 1618.1,808.0 1618.1,811.3 1618.2,814.6 1618.2,818.0 1618.2,821.3 1618.2,824.6 1618.3,828.0 1618.3,831.3 1618.3,834.7 1618.4,838.0 1618.4,841.3 1618.4,844.7 1618.5,848.0 1618.5,851.3 1618.5,854.7 1618.6,858.0 1618.6,861.4 1618.6,864.7 1618.7,868.0 1618.7,871.4 1618.8,874.7"/>
<circle cx="1634.6" cy="582.8" r="2.15" fill="#000" stroke="none"/>
<polyline stroke-width="2.3" points="1634.0,826.9 1634.2,582.8 1634.2,582.8 1634.3,586.3 1634.3,589.8 1634.3,593.4 1634.3,596.9 1634.3,600.4 1634.3,603.9 1634.3,607.4 1634.3,610.9 1634.3,614.5 1634.3,618.0 1634.3,621.5 1634.3,625.0 1634.3,628.5 1634.3,632.1 1634.3,635.6 1634.3,639.1 1634.3,642.6 1634.3,646.1 1634.3,649.7 1634.3,653.2 1634.3,656.7 1634.3,660.2 1634.3,663.7 1634.3,667.2 1634.3,670.8 1634.3,674.3 1634.3,677.8 1634.3,681.3 1634.3,684.8 1634.3,688.4 1634.3,691.9 1634.3,695.4 1634.3,698.9 1634.3,702.4 1634.4,706.0 1634.4,709.5 1634.4,713.0 1634.4,716.5 1634.4,720.0 1634.4,723.5 1634.4,727.1 1634.4,730.6 1634.4,734.1 1634.4,737.6 1634.5,741.1 1634.5,744.7 1634.5,748.2 1634.5,751.7 1634.5,755.2 1634.5,758.7 1634.5,762.3 1634.5,765.8 1634.6,769.3 1634.6,772.8 1634.6,776.3 1634.6,779.9 1634.6,783.4 1634.6,786.9 1634.7,790.4 1634.7,793.9 1634.7,797.4 1634.7,801.0 1634.7,804.5 1634.8,808.0 1634.8,811.5 1634.8,815.0 1634.8,818.6 1634.8,822.1 1634.9,825.6 1634.9,829.1 1634.9,832.6 1634.9,836.2 1635.0,839.7 1635.0,843.2 1635.0,846.7 1635.0,850.2 1635.1,853.7 1635.1,857.3 1635.1,860.8 1635.2,864.3"/>
<polyline stroke-width="4.1" stroke-dasharray="0 5.4" points="1634.7,826.9 1634.9,582.8 1634.9,582.8 1635.0,586.3 1635.0,589.8 1635.0,593.4 1635.0,596.9 1635.0,600.4 1635.0,603.9 1635.0,607.4 1635.0,610.9 1635.0,614.5 1635.0,618.0 1635.0,621.5 1635.0,625.0 1635.0,628.5 1635.0,632.1 1635.0,635.6 1635.0,639.1 1635.0,642.6 1635.0,646.1 1635.0,649.7 1635.0,653.2 1635.0,656.7 1635.0,660.2 1635.0,663.7 1635.0,667.2 1635.0,670.8 1635.0,674.3 1635.0,677.8 1635.0,681.3 1635.0,684.8 1635.0,688.4 1635.0,691.9 1635.0,695.4 1635.0,698.9 1635.0,702.4 1635.1,706.0 1635.1,709.5 1635.1,713.0 1635.1,716.5 1635.1,720.0 1635.1,723.5 1635.1,727.1 1635.1,730.6 1635.1,734.1 1635.1,737.6 1635.2,741.1 1635.2,744.7 1635.2,748.2 1635.2,751.7 1635.2,755.2 1635.2,758.7 1635.2,762.3 1635.2,765.8 1635.3,769.3 1635.3,772.8 1635.3,776.3 1635.3,779.9 1635.3,783.4 1635.3,786.9 1635.4,790.4 1635.4,793.9 1635.4,797.4 1635.4,801.0 1635.4,804.5 1635.5,808.0 1635.5,811.5 1635.5,815.0 1635.5,818.6 1635.5,822.1 1635.6,825.6 1635.6,829.1 1635.6,832.6 1635.6,836.2 1635.7,839.7 1635.7,843.2 1635.7,846.7 1635.7,850.2 1635.8,853.7 1635.8,857.3 1635.8,860.8 1635.8,864.3"/>
<circle cx="1651.6" cy="556.4" r="2.05" fill="#000" stroke="none"/>
<polyline stroke-width="2.1" points="1651.2,815.6 1651.6,556.4 1651.6,556.4 1651.6,560.1 1651.6,563.8 1651.6,567.5 1651.6,571.2 1651.6,574.9 1651.6,578.6 1651.6,582.2 1651.6,585.9 1651.6,589.6 1651.6,593.3 1651.6,597.0 1651.6,600.7 1651.6,604.4 1651.6,608.1 1651.6,611.8 1651.6,615.5 1651.6,619.2 1651.6,622.9 1651.6,626.6 1651.6,630.2 1651.6,633.9 1651.6,637.6 1651.7,641.3 1651.7,645.0 1651.7,648.7 1651.7,652.4 1651.7,656.1 1651.7,659.8 1651.7,663.5 1651.7,667.2 1651.7,670.9 1651.7,674.6 1651.7,678.3 1651.8,681.9 1651.8,685.6 1651.8,689.3 1651.8,693.0 1651.8,696.7 1651.8,700.4 1651.8,704.1 1651.8,707.8 1651.9,711.5 1651.9,715.2 1651.9,718.9 1651.9,722.6 1651.9,726.3 1652.0,729.9 1652.0,733.6 1652.0,737.3 1652.0,741.0 1652.0,744.7 1652.1,748.4 1652.1,752.1 1652.1,755.8 1652.1,759.5 1652.2,763.2 1652.2,766.9 1652.2,770.6 1652.2,774.3 1652.3,778.0 1652.3,781.6 1652.3,785.3 1652.4,789.0 1652.4,792.7 1652.4,796.4 1652.4,800.1 1652.5,803.8 1652.5,807.5 1652.6,811.2 1652.6,814.9 1652.6,818.6 1652.7,822.3 1652.7,826.0 1652.7,829.6 1652.8,833.3 1652.8,837.0 1652.9,840.7 1652.9,844.4 1653.0,848.1 1653.0,851.8"/>
<polyline stroke-width="3.9" stroke-dasharray="0 7.0" points="1651.2,815.6 1651.6,556.4 1651.6,556.4 1651.6,560.1 1651.6,563.8 1651.6,567.5 1651.6,571.2 1651.6,574.9 1651.6,578.6 1651.6,582.2 1651.6,585.9 1651.6,589.6 1651.6,593.3 1651.6,597.0 1651.6,600.7 1651.6,604.4 1651.6,608.1 1651.6,611.8 1651.6,615.5 1651.6,619.2 1651.6,622.9 1651.6,626.6 1651.6,630.2 1651.6,633.9 1651.6,637.6 1651.7,641.3 1651.7,645.0 1651.7,648.7 1651.7,652.4 1651.7,656.1 1651.7,659.8 1651.7,663.5 1651.7,667.2 1651.7,670.9 1651.7,674.6 1651.7,678.3 1651.8,681.9 1651.8,685.6 1651.8,689.3 1651.8,693.0 1651.8,696.7 1651.8,700.4 1651.8,704.1 1651.8,707.8 1651.9,711.5 1651.9,715.2 1651.9,718.9 1651.9,722.6 1651.9,726.3 1652.0,729.9 1652.0,733.6 1652.0,737.3 1652.0,741.0 1652.0,744.7 1652.1,748.4 1652.1,752.1 1652.1,755.8 1652.1,759.5 1652.2,763.2 1652.2,766.9 1652.2,770.6 1652.2,774.3 1652.3,778.0 1652.3,781.6 1652.3,785.3 1652.4,789.0 1652.4,792.7 1652.4,796.4 1652.4,800.1 1652.5,803.8 1652.5,807.5 1652.6,811.2 1652.6,814.9 1652.6,818.6 1652.7,822.3 1652.7,826.0 1652.7,829.6 1652.8,833.3 1652.8,837.0 1652.9,840.7 1652.9,844.4 1653.0,848.1 1653.0,851.8"/>
<circle cx="1668.3" cy="523.4" r="2.05" fill="#000" stroke="none"/>
<polyline stroke-width="2.1" points="1667.7,803.6 1668.3,523.4 1668.3,523.4 1668.3,527.3 1668.3,531.3 1668.3,535.2 1668.3,539.1 1668.3,543.1 1668.3,547.0 1668.3,550.9 1668.3,554.9 1668.3,558.8 1668.3,562.7 1668.3,566.6 1668.3,570.6 1668.3,574.5 1668.3,578.4 1668.3,582.4 1668.3,586.3 1668.3,590.2 1668.3,594.2 1668.3,598.1 1668.3,602.0 1668.3,606.0 1668.3,609.9 1668.3,613.8 1668.3,617.8 1668.3,621.7 1668.3,625.6 1668.3,629.5 1668.3,633.5 1668.3,637.4 1668.3,641.3 1668.3,645.3 1668.3,649.2 1668.3,653.1 1668.3,657.1 1668.3,661.0 1668.3,664.9 1668.3,668.9 1668.3,672.8 1668.3,676.7 1668.3,680.6 1668.3,684.6 1668.3,688.5 1668.3,692.4 1668.3,696.4 1668.3,700.3 1668.3,704.2 1668.3,708.2 1668.3,712.1 1668.3,716.0 1668.3,720.0 1668.3,723.9 1668.3,727.8 1668.3,731.8 1668.3,735.7 1668.3,739.6 1668.3,743.5 1668.3,747.5 1668.3,751.4 1668.3,755.3 1668.3,759.3 1668.3,763.2 1668.4,767.1 1668.4,771.1 1668.4,775.0 1668.4,778.9 1668.4,782.9 1668.4,786.8 1668.4,790.7 1668.4,794.7 1668.4,798.6 1668.4,802.5 1668.4,806.5 1668.4,810.4 1668.4,814.3 1668.4,818.2 1668.4,822.2 1668.4,826.1 1668.4,830.0 1668.4,834.0 1668.4,837.9"/>
<polyline stroke-width="3.9" stroke-dasharray="0 7.0" points="1667.7,803.6 1668.3,523.4 1668.3,523.4 1668.3,527.3 1668.3,531.3 1668.3,535.2 1668.3,539.1 1668.3,543.1 1668.3,547.0 1668.3,550.9 1668.3,554.9 1668.3,558.8 1668.3,562.7 1668.3,566.6 1668.3,570.6 1668.3,574.5 1668.3,578.4 1668.3,582.4 1668.3,586.3 1668.3,590.2 1668.3,594.2 1668.3,598.1 1668.3,602.0 1668.3,606.0 1668.3,609.9 1668.3,613.8 1668.3,617.8 1668.3,621.7 1668.3,625.6 1668.3,629.5 1668.3,633.5 1668.3,637.4 1668.3,641.3 1668.3,645.3 1668.3,649.2 1668.3,653.1 1668.3,657.1 1668.3,661.0 1668.3,664.9 1668.3,668.9 1668.3,672.8 1668.3,676.7 1668.3,680.6 1668.3,684.6 1668.3,688.5 1668.3,692.4 1668.3,696.4 1668.3,700.3 1668.3,704.2 1668.3,708.2 1668.3,712.1 1668.3,716.0 1668.3,720.0 1668.3,723.9 1668.3,727.8 1668.3,731.8 1668.3,735.7 1668.3,739.6 1668.3,743.5 1668.3,747.5 1668.3,751.4 1668.3,755.3 1668.3,759.3 1668.3,763.2 1668.4,767.1 1668.4,771.1 1668.4,775.0 1668.4,778.9 1668.4,782.9 1668.4,786.8 1668.4,790.7 1668.4,794.7 1668.4,798.6 1668.4,802.5 1668.4,806.5 1668.4,810.4 1668.4,814.3 1668.4,818.2 1668.4,822.2 1668.4,826.1 1668.4,830.0 1668.4,834.0 1668.4,837.9"/>
<circle cx="1684.3" cy="482.4" r="2.05" fill="#000" stroke="none"/>
<polyline stroke-width="2.1" points="1683.7,788.6 1684.3,482.4 1684.3,482.4 1684.3,486.6 1684.3,490.8 1684.3,495.1 1684.3,499.3 1684.3,503.5 1684.3,507.7 1684.3,511.9 1684.3,516.2 1684.3,520.4 1684.3,524.6 1684.3,528.8 1684.3,533.0 1684.3,537.3 1684.3,541.5 1684.3,545.7 1684.3,549.9 1684.3,554.1 1684.3,558.4 1684.3,562.6 1684.3,566.8 1684.3,571.0 1684.3,575.2 1684.3,579.5 1684.3,583.7 1684.3,587.9 1684.3,592.1 1684.3,596.3 1684.3,600.6 1684.3,604.8 1684.3,609.0 1684.3,613.2 1684.3,617.4 1684.3,621.7 1684.3,625.9 1684.3,630.1 1684.4,634.3 1684.4,638.5 1684.4,642.8 1684.4,647.0 1684.4,651.2 1684.4,655.4 1684.4,659.6 1684.4,663.9 1684.4,668.1 1684.4,672.3 1684.4,676.5 1684.4,680.7 1684.4,685.0 1684.4,689.2 1684.4,693.4 1684.4,697.6 1684.4,701.8 1684.4,706.1 1684.4,710.3 1684.5,714.5 1684.5,718.7 1684.5,722.9 1684.5,727.2 1684.5,731.4 1684.5,735.6 1684.5,739.8 1684.5,744.0 1684.5,748.3 1684.5,752.5 1684.5,756.7 1684.5,760.9 1684.6,765.1 1684.6,769.4 1684.6,773.6 1684.6,777.8 1684.6,782.0 1684.6,786.2 1684.6,790.5 1684.6,794.7 1684.6,798.9 1684.7,803.1 1684.7,807.3 1684.7,811.6 1684.7,815.8 1684.7,820.0"/>
<polyline stroke-width="3.9" stroke-dasharray="0 7.0" points="1683.7,788.6 1684.3,482.4 1684.3,482.4 1684.3,486.6 1684.3,490.8 1684.3,495.1 1684.3,499.3 1684.3,503.5 1684.3,507.7 1684.3,511.9 1684.3,516.2 1684.3,520.4 1684.3,524.6 1684.3,528.8 1684.3,533.0 1684.3,537.3 1684.3,541.5 1684.3,545.7 1684.3,549.9 1684.3,554.1 1684.3,558.4 1684.3,562.6 1684.3,566.8 1684.3,571.0 1684.3,575.2 1684.3,579.5 1684.3,583.7 1684.3,587.9 1684.3,592.1 1684.3,596.3 1684.3,600.6 1684.3,604.8 1684.3,609.0 1684.3,613.2 1684.3,617.4 1684.3,621.7 1684.3,625.9 1684.3,630.1 1684.4,634.3 1684.4,638.5 1684.4,642.8 1684.4,647.0 1684.4,651.2 1684.4,655.4 1684.4,659.6 1684.4,663.9 1684.4,668.1 1684.4,672.3 1684.4,676.5 1684.4,680.7 1684.4,685.0 1684.4,689.2 1684.4,693.4 1684.4,697.6 1684.4,701.8 1684.4,706.1 1684.4,710.3 1684.5,714.5 1684.5,718.7 1684.5,722.9 1684.5,727.2 1684.5,731.4 1684.5,735.6 1684.5,739.8 1684.5,744.0 1684.5,748.3 1684.5,752.5 1684.5,756.7 1684.5,760.9 1684.6,765.1 1684.6,769.4 1684.6,773.6 1684.6,777.8 1684.6,782.0 1684.6,786.2 1684.6,790.5 1684.6,794.7 1684.6,798.9 1684.7,803.1 1684.7,807.3 1684.7,811.6 1684.7,815.8 1684.7,820.0"/>
<circle cx="1700.3" cy="416.4" r="2.05" fill="#000" stroke="none"/>
<polyline stroke-width="2.1" points="1699.7,765.6 1700.3,416.4 1700.3,416.4 1700.3,421.1 1700.3,425.9 1700.3,430.6 1700.3,435.4 1700.3,440.1 1700.3,444.8 1700.3,449.6 1700.3,454.3 1700.3,459.1 1700.3,463.8 1700.3,468.5 1700.3,473.3 1700.3,478.0 1700.3,482.8 1700.3,487.5 1700.3,492.2 1700.3,497.0 1700.3,501.7 1700.3,506.5 1700.3,511.2 1700.3,515.9 1700.3,520.7 1700.3,525.4 1700.3,530.2 1700.3,534.9 1700.3,539.6 1700.3,544.4 1700.3,549.1 1700.3,553.9 1700.3,558.6 1700.3,563.3 1700.3,568.1 1700.3,572.8 1700.3,577.6 1700.3,582.3 1700.4,587.0 1700.4,591.8 1700.4,596.5 1700.4,601.3 1700.4,606.0 1700.4,610.7 1700.4,615.5 1700.4,620.2 1700.4,625.0 1700.4,629.7 1700.4,634.4 1700.4,639.2 1700.4,643.9 1700.4,648.7 1700.4,653.4 1700.4,658.1 1700.4,662.9 1700.4,667.6 1700.4,672.4 1700.5,677.1 1700.5,681.8 1700.5,686.6 1700.5,691.3 1700.5,696.1 1700.5,700.8 1700.5,705.5 1700.5,710.3 1700.5,715.0 1700.5,719.8 1700.5,724.5 1700.5,729.2 1700.6,734.0 1700.6,738.7 1700.6,743.5 1700.6,748.2 1700.6,752.9 1700.6,757.7 1700.6,762.4 1700.6,767.2 1700.6,771.9 1700.7,776.6 1700.7,781.4 1700.7,786.1 1700.7,790.9 1700.7,795.6"/>
<polyline stroke-width="3.9" stroke-dasharray="0 7.0" points="1699.7,765.6 1700.3,416.4 1700.3,416.4 1700.3,421.1 1700.3,425.9 1700.3,430.6 1700.3,435.4 1700.3,440.1 1700.3,444.8 1700.3,449.6 1700.3,454.3 1700.3,459.1 1700.3,463.8 1700.3,468.5 1700.3,473.3 1700.3,478.0 1700.3,482.8 1700.3,487.5 1700.3,492.2 1700.3,497.0 1700.3,501.7 1700.3,506.5 1700.3,511.2 1700.3,515.9 1700.3,520.7 1700.3,525.4 1700.3,530.2 1700.3,534.9 1700.3,539.6 1700.3,544.4 1700.3,549.1 1700.3,553.9 1700.3,558.6 1700.3,563.3 1700.3,568.1 1700.3,572.8 1700.3,577.6 1700.3,582.3 1700.4,587.0 1700.4,591.8 1700.4,596.5 1700.4,601.3 1700.4,606.0 1700.4,610.7 1700.4,615.5 1700.4,620.2 1700.4,625.0 1700.4,629.7 1700.4,634.4 1700.4,639.2 1700.4,643.9 1700.4,648.7 1700.4,653.4 1700.4,658.1 1700.4,662.9 1700.4,667.6 1700.4,672.4 1700.5,677.1 1700.5,681.8 1700.5,686.6 1700.5,691.3 1700.5,696.1 1700.5,700.8 1700.5,705.5 1700.5,710.3 1700.5,715.0 1700.5,719.8 1700.5,724.5 1700.5,729.2 1700.6,734.0 1700.6,738.7 1700.6,743.5 1700.6,748.2 1700.6,752.9 1700.6,757.7 1700.6,762.4 1700.6,767.2 1700.6,771.9 1700.7,776.6 1700.7,781.4 1700.7,786.1 1700.7,790.9 1700.7,795.6"/>
<circle cx="1714.3" cy="317.9" r="2.05" fill="#000" stroke="none"/>
<polyline stroke-width="2.1" points="1714.6,732.6 1714.3,317.9 1714.3,317.9 1714.3,323.3 1714.3,328.8 1714.3,334.2 1714.3,339.6 1714.3,345.0 1714.3,350.5 1714.3,355.9 1714.3,361.3 1714.3,366.8 1714.3,372.2 1714.3,377.6 1714.3,383.1 1714.3,388.5 1714.3,393.9 1714.3,399.4 1714.3,404.8 1714.3,410.2 1714.3,415.6 1714.3,421.1 1714.3,426.5 1714.4,431.9 1714.4,437.4 1714.4,442.8 1714.4,448.2 1714.4,453.6 1714.4,459.1 1714.4,464.5 1714.4,469.9 1714.4,475.4 1714.4,480.8 1714.4,486.2 1714.5,491.7 1714.5,497.1 1714.5,502.5 1714.5,508.0 1714.5,513.4 1714.5,518.8 1714.5,524.2 1714.6,529.7 1714.6,535.1 1714.6,540.5 1714.6,546.0 1714.6,551.4 1714.7,556.8 1714.7,562.2 1714.7,567.7 1714.7,573.1 1714.8,578.5 1714.8,584.0 1714.8,589.4 1714.8,594.8 1714.9,600.3 1714.9,605.7 1714.9,611.1 1714.9,616.6 1715.0,622.0 1715.0,627.4 1715.0,632.8 1715.1,638.3 1715.1,643.7 1715.1,649.1 1715.2,654.6 1715.2,660.0 1715.3,665.4 1715.3,670.9 1715.3,676.3 1715.4,681.7 1715.4,687.1 1715.5,692.6 1715.5,698.0 1715.5,703.4 1715.6,708.9 1715.6,714.3 1715.7,719.7 1715.7,725.2 1715.8,730.6 1715.8,736.0 1715.9,741.4 1715.9,746.9 1716.0,752.3"/>
<polyline stroke-width="3.9" stroke-dasharray="0 7.0" points="1714.6,732.6 1714.3,317.9 1714.3,317.9 1714.3,323.3 1714.3,328.8 1714.3,334.2 1714.3,339.6 1714.3,345.0 1714.3,350.5 1714.3,355.9 1714.3,361.3 1714.3,366.8 1714.3,372.2 1714.3,377.6 1714.3,383.1 1714.3,388.5 1714.3,393.9 1714.3,399.4 1714.3,404.8 1714.3,410.2 1714.3,415.6 1714.3,421.1 1714.3,426.5 1714.4,431.9 1714.4,437.4 1714.4,442.8 1714.4,448.2 1714.4,453.6 1714.4,459.1 1714.4,464.5 1714.4,469.9 1714.4,475.4 1714.4,480.8 1714.4,486.2 1714.5,491.7 1714.5,497.1 1714.5,502.5 1714.5,508.0 1714.5,513.4 1714.5,518.8 1714.5,524.2 1714.6,529.7 1714.6,535.1 1714.6,540.5 1714.6,546.0 1714.6,551.4 1714.7,556.8 1714.7,562.2 1714.7,567.7 1714.7,573.1 1714.8,578.5 1714.8,584.0 1714.8,589.4 1714.8,594.8 1714.9,600.3 1714.9,605.7 1714.9,611.1 1714.9,616.6 1715.0,622.0 1715.0,627.4 1715.0,632.8 1715.1,638.3 1715.1,643.7 1715.1,649.1 1715.2,654.6 1715.2,660.0 1715.3,665.4 1715.3,670.9 1715.3,676.3 1715.4,681.7 1715.4,687.1 1715.5,692.6 1715.5,698.0 1715.5,703.4 1715.6,708.9 1715.6,714.3 1715.7,719.7 1715.7,725.2 1715.8,730.6 1715.8,736.0 1715.9,741.4 1715.9,746.9 1716.0,752.3"/>
<polyline stroke-width="2.1" points="1729.6,564.5 1730.0,212.5 1731.0,235.0 1731.0,335.0 1729.9,350.0 1729.9,596.0 1731.3,612.0 1731.4,726.5"/>
<polyline stroke-width="4" stroke-dasharray="0 3" points="1729.6,562.0 1729.9,345.0"/>
<polyline stroke-width="3.0" stroke-dasharray="0 8" points="1730.6,212.5 1731.1,252.0"/>
<polyline stroke-width="3.2" stroke-dasharray="0 11" points="1731.1,318.0 1731.1,335.0"/>
<polyline stroke-width="3.4" stroke-dasharray="0 6" points="1731.3,612.0 1731.4,726.5"/>
</g>
<line x1="1650.0" x2="1650.0" y1="100" y2="1100" stroke="#0000ff" stroke-width="4.17"/>
<line x1="1729.0" x2="1729.0" y1="100" y2="1100" stroke="#0000ff" stroke-width="4.17"/>
<line x1="200" x2="1850" y1="615.0" y2="615.0" stroke="#008000" stroke-width="4.17"/>
<line x1="200" x2="1850" y1="345.0" y2="345.0" stroke="#ffa500" stroke-width="2.08"/>
<line x1="200" x2="1850" y1="506.0" y2="506.0" stroke="#ffa500" stroke-width="2.08"/>
<g fill="#90ee90">
<circle cx="1699.3" cy="417.8" r="4.17"/>
<circle cx="1699.3" cy="423.4" r="4.17"/>
<circle cx="1699.3" cy="428.0" r="4.17"/>
<circle cx="1699.3" cy="437.5" r="4.17"/>
<circle cx="1699.3" cy="449.7" r="4.17"/>
<circle cx="1699.3" cy="463.0" r="4.17"/>
<circle cx="1699.3" cy="467.0" r="4.17"/>
<circle cx="1699.3" cy="471.0" r="4.17"/>
<circle cx="1699.3" cy="482.5" r="4.17"/>
<circle cx="1699.3" cy="487.0" r="4.17"/>
<circle cx="1699.3" cy="492.0" r="4.17"/>
<circle cx="1699.3" cy="499.0" r="4.17"/>
<circle cx="1699.3" cy="503.0" r="4.17"/>
<circle cx="1699.3" cy="507.0" r="4.17"/>
<circle cx="1699.3" cy="511.0" r="4.17"/>
<circle cx="1699.3" cy="515.0" r="4.17"/>
<circle cx="1699.3" cy="519.0" r="4.17"/>
<circle cx="1699.3" cy="523.0" r="4.17"/>
<circle cx="1699.3" cy="527.0" r="4.17"/>
<circle cx="1699.3" cy="531.0" r="4.17"/>
<circle cx="1699.3" cy="535.0" r="4.17"/>
<circle cx="1699.3" cy="539.0" r="4.17"/>
<circle cx="1699.3" cy="543.0" r="4.17"/>
<circle cx="1699.3" cy="547.0" r="4.17"/>
<circle cx="1699.3" cy="551.0" r="4.17"/>
<circle cx="1699.3" cy="556.6" r="4.17"/>
<circle cx="1699.3" cy="563.0" r="4.17"/>
<circle cx="1699.3" cy="575.0" r="4.17"/>
<circle cx="1699.3" cy="587.5" r="4.17"/>
<circle cx="1699.3" cy="601.6" r="4.17"/>
<circle cx="1699.3" cy="616.8" r="4.17"/>
<circle cx="1699.3" cy="631.2" r="4.17"/>
<circle cx="1699.3" cy="645.4" r="4.17"/>
<circle cx="1699.3" cy="660.0" r="4.17"/>
<circle cx="1699.3" cy="674.2" r="4.17"/>
<circle cx="1699.3" cy="688.3" r="4.17"/>
<circle cx="1699.6" cy="702.5" r="4.17"/>
<circle cx="1699.8" cy="715.0" r="4.17"/>
<circle cx="1700.1" cy="728.5" r="4.17"/>
<circle cx="1700.4" cy="741.0" r="4.17"/>
<circle cx="1700.6" cy="752.5" r="4.17"/>
</g>
<g fill="#ffff00" fill-opacity="0.25" stroke="#ffff00" stroke-opacity="0.25" stroke-width="1.4">
<circle cx="1650.4" cy="610.5" r="6.9"/>
<circle cx="1667.4" cy="584.3" r="6.9"/>
<circle cx="1667.4" cy="589.9" r="6.9"/>
<circle cx="1667.4" cy="594.9" r="6.9"/>
<circle cx="1667.4" cy="601.8" r="6.9"/>
<circle cx="1667.4" cy="606.5" r="6.9"/>
<circle cx="1683.4" cy="553.0" r="6.9"/>
<circle cx="1683.4" cy="559.4" r="6.9"/>
<circle cx="1683.4" cy="564.6" r="6.9"/>
<circle cx="1683.4" cy="571.6" r="6.9"/>
<circle cx="1683.4" cy="576.7" r="6.9"/>
<circle cx="1683.4" cy="583.4" r="6.9"/>
<circle cx="1683.4" cy="588.6" r="6.9"/>
<circle cx="1683.4" cy="593.9" r="6.9"/>
<circle cx="1683.4" cy="600.5" r="6.9"/>
<circle cx="1683.4" cy="608.9" r="6.9"/>
<circle cx="1699.4" cy="504.0" r="6.9"/>
<circle cx="1699.4" cy="510.3" r="6.9"/>
<circle cx="1699.4" cy="518.3" r="6.9"/>
<circle cx="1699.4" cy="527.8" r="6.9"/>
<circle cx="1699.4" cy="535.7" r="6.9"/>
<circle cx="1699.4" cy="542.7" r="6.9"/>
<circle cx="1699.4" cy="552.4" r="6.9"/>
<circle cx="1699.4" cy="557.8" r="6.9"/>
<circle cx="1699.4" cy="566.9" r="6.9"/>
<circle cx="1699.4" cy="573.5" r="6.9"/>
<circle cx="1699.4" cy="579.4" r="6.9"/>
<circle cx="1699.4" cy="585.2" r="6.9"/>
<circle cx="1699.4" cy="591.8" r="6.9"/>
<circle cx="1699.4" cy="600.7" r="6.9"/>
<circle cx="1699.4" cy="606.8" r="6.9"/>
<circle cx="1714.4" cy="426.0" r="6.9"/>
<circle cx="1714.4" cy="434.7" r="6.9"/>
<circle cx="1714.4" cy="442.1" r="6.9"/>
<circle cx="1714.4" cy="450.3" r="6.9"/>
<circle cx="1714.4" cy="456.2" r="6.9"/>
<circle cx="1714.4" cy="462.1" r="6.9"/>
<circle cx="1714.4" cy="468.7" r="6.9"/>
<circle cx="1714.4" cy="477.5" r="6.9"/>
<circle cx="1714.4" cy="485.2" r="6.9"/>
<circle cx="1714.4" cy="492.3" r="6.9"/>
<circle cx="1714.4" cy="500.7" r="6.9"/>
<circle cx="1714.4" cy="508.5" r="6.9"/>
<circle cx="1714.4" cy="515.5" r="6.9"/>
<circle cx="1714.4" cy="524.9" r="6.9"/>
<circle cx="1714.4" cy="533.9" r="6.9"/>
<circle cx="1714.4" cy="540.7" r="6.9"/>
<circle cx="1714.4" cy="549.0" r="6.9"/>
<circle cx="1714.4" cy="557.1" r="6.9"/>
<circle cx="1714.4" cy="566.9" r="6.9"/>
<circle cx="1714.4" cy="576.0" r="6.9"/>
<circle cx="1714.4" cy="583.0" r="6.9"/>
<circle cx="1714.4" cy="593.3" r="6.9"/>
<circle cx="1714.4" cy="599.5" r="6.9"/>
<circle cx="1714.4" cy="607.1" r="6.9"/>
<circle cx="1729.6" cy="347.9" r="6.9"/>
<circle cx="1729.6" cy="347.9" r="6.9"/>
<circle cx="1729.6" cy="347.9" r="6.9"/>
<circle cx="1729.6" cy="347.9" r="6.9"/>
<circle cx="1729.6" cy="347.9" r="6.9"/>
<circle cx="1729.6" cy="347.9" r="6.9"/>
<circle cx="1729.6" cy="348.2" r="6.9"/>
<circle cx="1729.6" cy="349.0" r="6.9"/>
<circle cx="1729.6" cy="349.8" r="6.9"/>
<circle cx="1729.6" cy="350.5" r="6.9"/>
<circle cx="1729.6" cy="351.3" r="6.9"/>
<circle cx="1729.6" cy="352.2" r="6.9"/>
<circle cx="1729.6" cy="353.0" r="6.9"/>
<circle cx="1729.6" cy="353.8" r="6.9"/>
<circle cx="1729.6" cy="354.6" r="6.9"/>
<circle cx="1729.6" cy="355.4" r="6.9"/>
<circle cx="1729.6" cy="356.2" r="6.9"/>
<circle cx="1729.6" cy="357.0" r="6.9"/>
<circle cx="1729.6" cy="357.8" r="6.9"/>
<circle cx="1729.6" cy="358.6" r="6.9"/>
<circle cx="1729.6" cy="359.5" r="6.9"/>
<circle cx="1729.6" cy="360.3" r="6.9"/>
<circle cx="1729.6" cy="361.1" r="6.9"/>
<circle cx="1729.6" cy="361.9" r="6.9"/>
<circle cx="1729.6" cy="362.7" r="6.9"/>
<circle cx="1729.6" cy="363.5" r="6.9"/>
<circle cx="1729.6" cy="364.3" r="6.9"/>
<circle cx="1729.6" cy="365.1" r="6.9"/>
<circle cx="1729.6" cy="365.9" r="6.9"/>
<circle cx="1729.6" cy="366.7" r="6.9"/>
<circle cx="1729.6" cy="367.5" r="6.9"/>
<circle cx="1729.6" cy="368.3" r="6.9"/>
<circle cx="1729.6" cy="369.1" r="6.9"/>
<circle cx="1729.6" cy="369.9" r="6.9"/>
<circle cx="1729.6" cy="370.6" r="6.9"/>
<circle cx="1729.6" cy="371.4" r="6.9"/>
<circle cx="1729.6" cy="372.2" r="6.9"/>
<circle cx="1729.6" cy="373.0" r="6.9"/>
<circle cx="1729.6" cy="373.8" r="6.9"/>
<circle cx="1729.6" cy="374.6" r="6.9"/>
<circle cx="1729.6" cy="375.4" r="6.9"/>
<circle cx="1729.6" cy="376.2" r="6.9"/>
<circle cx="1729.6" cy="377.0" r="6.9"/>
<circle cx="1729.6" cy="377.8" r="6.9"/>
<circle cx="1729.6" cy="378.0" r="6.9"/>
<circle cx="1729.6" cy="380.5" r="6.9"/>
<circle cx="1729.6" cy="383.1" r="6.9"/>
<circle cx="1729.6" cy="385.2" r="6.9"/>
<circle cx="1729.6" cy="387.5" r="6.9"/>
<circle cx="1729.6" cy="389.7" r="6.9"/>
<circle cx="1729.6" cy="392.2" r="6.9"/>
<circle cx="1729.6" cy="394.8" r="6.9"/>
<circle cx="1729.6" cy="396.9" r="6.9"/>
<circle cx="1729.6" cy="399.0" r="6.9"/>
<circle cx="1729.6" cy="401.1" r="6.9"/>
<circle cx="1729.6" cy="403.2" r="6.9"/>
<circle cx="1729.6" cy="412.0" r="6.9"/>
<circle cx="1729.6" cy="420.1" r="6.9"/>
<circle cx="1729.6" cy="427.1" r="6.9"/>
<circle cx="1729.6" cy="433.4" r="6.9"/>
<circle cx="1729.6" cy="440.9" r="6.9"/>
<circle cx="1729.6" cy="448.3" r="6.9"/>
<circle cx="1729.6" cy="457.0" r="6.9"/>
<circle cx="1729.6" cy="460.7" r="6.9"/>
<circle cx="1729.6" cy="464.2" r="6.9"/>
<circle cx="1729.6" cy="467.6" r="6.9"/>
<circle cx="1729.6" cy="478.0" r="6.9"/>
<circle cx="1729.6" cy="487.0" r="6.9"/>
<circle cx="1729.6" cy="503.0" r="6.9"/>
<circle cx="1729.6" cy="525.0" r="6.9"/>
<circle cx="1729.6" cy="549.0" r="6.9"/>
<circle cx="1720.8" cy="616.0" r="6.9"/>
<circle cx="1721.6" cy="615.7" r="6.9"/>
<circle cx="1720.9" cy="615.6" r="6.9"/>
<circle cx="1721.7" cy="615.3" r="6.9"/>
<circle cx="1721.0" cy="615.1" r="6.9"/>
<circle cx="1721.8" cy="614.8" r="6.9"/>
<circle cx="1721.1" cy="614.5" r="6.9"/>
<circle cx="1721.9" cy="614.2" r="6.9"/>
<circle cx="1721.2" cy="613.9" r="6.9"/>
<circle cx="1722.0" cy="613.6" r="6.9"/>
<circle cx="1721.4" cy="613.2" r="6.9"/>
<circle cx="1722.2" cy="612.9" r="6.9"/>
<circle cx="1721.5" cy="612.5" r="6.9"/>
<circle cx="1722.3" cy="612.2" r="6.9"/>
<circle cx="1721.7" cy="611.7" r="6.9"/>
<circle cx="1722.5" cy="611.4" r="6.9"/>
<circle cx="1721.8" cy="610.9" r="6.9"/>
<circle cx="1722.6" cy="610.6" r="6.9"/>
<circle cx="1722.0" cy="610.0" r="6.9"/>
<circle cx="1722.8" cy="609.7" r="6.9"/>
<circle cx="1722.2" cy="609.2" r="6.9"/>
<circle cx="1723.0" cy="608.9" r="6.9"/>
<circle cx="1722.4" cy="608.3" r="6.9"/>
<circle cx="1723.2" cy="608.0" r="6.9"/>
<circle cx="1722.5" cy="607.4" r="6.9"/>
<circle cx="1723.3" cy="607.1" r="6.9"/>
<circle cx="1722.7" cy="606.6" r="6.9"/>
<circle cx="1723.5" cy="606.3" r="6.9"/>
<circle cx="1722.9" cy="605.7" r="6.9"/>
<circle cx="1723.7" cy="605.4" r="6.9"/>
<circle cx="1723.1" cy="604.8" r="6.9"/>
<circle cx="1723.9" cy="604.5" r="6.9"/>
<circle cx="1723.3" cy="604.0" r="6.9"/>
<circle cx="1724.1" cy="603.7" r="6.9"/>
<circle cx="1723.4" cy="603.2" r="6.9"/>
<circle cx="1724.2" cy="602.9" r="6.9"/>
<circle cx="1723.6" cy="602.5" r="6.9"/>
<circle cx="1724.4" cy="602.2" r="6.9"/>
<circle cx="1723.8" cy="601.8" r="6.9"/>
<circle cx="1724.6" cy="601.5" r="6.9"/>
<circle cx="1723.9" cy="601.1" r="6.9"/>
<circle cx="1724.7" cy="600.8" r="6.9"/>
<circle cx="1724.1" cy="600.4" r="6.9"/>
<circle cx="1724.9" cy="600.1" r="6.9"/>
<circle cx="1724.3" cy="599.7" r="6.9"/>
<circle cx="1725.1" cy="599.4" r="6.9"/>
<circle cx="1724.5" cy="599.0" r="6.9"/>
<circle cx="1725.3" cy="598.7" r="6.9"/>
<circle cx="1724.7" cy="598.3" r="6.9"/>
<circle cx="1725.5" cy="598.0" r="6.9"/>
<circle cx="1724.8" cy="597.6" r="6.9"/>
<circle cx="1725.6" cy="597.3" r="6.9"/>
<circle cx="1725.0" cy="596.9" r="6.9"/>
<circle cx="1725.8" cy="596.6" r="6.9"/>
<circle cx="1725.2" cy="596.2" r="6.9"/>
<circle cx="1726.0" cy="595.9" r="6.9"/>
<circle cx="1725.4" cy="595.5" r="6.9"/>
<circle cx="1726.2" cy="595.2" r="6.9"/>
<circle cx="1725.6" cy="594.9" r="6.9"/>
<circle cx="1726.4" cy="594.6" r="6.9"/>
<circle cx="1725.7" cy="594.2" r="6.9"/>
<circle cx="1726.5" cy="593.9" r="6.9"/>
<circle cx="1725.9" cy="593.5" r="6.9"/>
<circle cx="1726.7" cy="593.2" r="6.9"/>
<circle cx="1726.1" cy="592.8" r="6.9"/>
<circle cx="1726.9" cy="592.5" r="6.9"/>
<circle cx="1726.2" cy="592.1" r="6.9"/>
<circle cx="1727.0" cy="591.8" r="6.9"/>
<circle cx="1726.4" cy="591.4" r="6.9"/>
<circle cx="1727.2" cy="591.1" r="6.9"/>
<circle cx="1726.6" cy="590.7" r="6.9"/>
<circle cx="1727.4" cy="590.4" r="6.9"/>
<circle cx="1726.7" cy="590.0" r="6.9"/>
<circle cx="1727.5" cy="589.7" r="6.9"/>
<circle cx="1726.8" cy="589.3" r="6.9"/>
<circle cx="1727.6" cy="589.0" r="6.9"/>
<circle cx="1727.0" cy="588.6" r="6.9"/>
<circle cx="1727.8" cy="588.3" r="6.9"/>
<circle cx="1727.1" cy="587.9" r="6.9"/>
<circle cx="1727.9" cy="587.6" r="6.9"/>
<circle cx="1727.2" cy="587.1" r="6.9"/>
<circle cx="1728.0" cy="586.8" r="6.9"/>
<circle cx="1727.3" cy="586.4" r="6.9"/>
<circle cx="1728.1" cy="586.1" r="6.9"/>
<circle cx="1727.5" cy="585.7" r="6.9"/>
<circle cx="1728.3" cy="585.4" r="6.9"/>
<circle cx="1727.6" cy="584.9" r="6.9"/>
<circle cx="1728.4" cy="584.6" r="6.9"/>
<circle cx="1726.6" cy="584.9" r="6.9"/>
<circle cx="1727.7" cy="584.2" r="6.9"/>
<circle cx="1728.5" cy="583.9" r="6.9"/>
<circle cx="1726.7" cy="584.2" r="6.9"/>
<circle cx="1727.8" cy="583.5" r="6.9"/>
<circle cx="1728.6" cy="583.2" r="6.9"/>
<circle cx="1726.8" cy="583.5" r="6.9"/>
<circle cx="1727.9" cy="582.8" r="6.9"/>
<circle cx="1728.7" cy="582.5" r="6.9"/>
<circle cx="1726.9" cy="582.8" r="6.9"/>
<circle cx="1728.0" cy="582.0" r="6.9"/>
<circle cx="1728.8" cy="581.7" r="6.9"/>
<circle cx="1727.0" cy="582.0" r="6.9"/>
<circle cx="1728.1" cy="581.3" r="6.9"/>
<circle cx="1728.9" cy="581.0" r="6.9"/>
<circle cx="1727.1" cy="581.3" r="6.9"/>
<circle cx="1728.2" cy="580.6" r="6.9"/>
<circle cx="1729.0" cy="580.3" r="6.9"/>
<circle cx="1727.2" cy="580.6" r="6.9"/>
<circle cx="1728.3" cy="579.8" r="6.9"/>
<circle cx="1729.1" cy="579.5" r="6.9"/>
<circle cx="1727.3" cy="579.8" r="6.9"/>
<circle cx="1728.3" cy="579.1" r="6.9"/>
<circle cx="1729.1" cy="578.8" r="6.9"/>
<circle cx="1727.3" cy="579.1" r="6.9"/>
<circle cx="1728.4" cy="578.4" r="6.9"/>
<circle cx="1729.2" cy="578.1" r="6.9"/>
<circle cx="1727.4" cy="578.4" r="6.9"/>
<circle cx="1728.5" cy="577.7" r="6.9"/>
<circle cx="1729.3" cy="577.4" r="6.9"/>
<circle cx="1727.5" cy="577.7" r="6.9"/>
<circle cx="1728.6" cy="577.0" r="6.9"/>
<circle cx="1729.4" cy="576.7" r="6.9"/>
<circle cx="1727.6" cy="577.0" r="6.9"/>
<circle cx="1728.7" cy="576.3" r="6.9"/>
<circle cx="1729.5" cy="576.0" r="6.9"/>
<circle cx="1727.7" cy="576.3" r="6.9"/>
<circle cx="1728.8" cy="575.5" r="6.9"/>
<circle cx="1729.6" cy="575.2" r="6.9"/>
<circle cx="1727.8" cy="575.5" r="6.9"/>
<circle cx="1728.8" cy="574.8" r="6.9"/>
<circle cx="1729.6" cy="574.5" r="6.9"/>
<circle cx="1727.8" cy="574.8" r="6.9"/>
<circle cx="1728.9" cy="574.0" r="6.9"/>
<circle cx="1729.7" cy="573.7" r="6.9"/>
<circle cx="1727.9" cy="574.0" r="6.9"/>
<circle cx="1729.0" cy="573.2" r="6.9"/>
<circle cx="1729.8" cy="572.9" r="6.9"/>
<circle cx="1728.0" cy="573.2" r="6.9"/>
<circle cx="1729.1" cy="572.4" r="6.9"/>
<circle cx="1729.9" cy="572.1" r="6.9"/>
<circle cx="1728.1" cy="572.4" r="6.9"/>
<circle cx="1729.1" cy="571.6" r="6.9"/>
<circle cx="1729.9" cy="571.3" r="6.9"/>
<circle cx="1728.1" cy="571.6" r="6.9"/>
<circle cx="1729.2" cy="570.9" r="6.9"/>
<circle cx="1730.0" cy="570.6" r="6.9"/>
<circle cx="1728.2" cy="570.9" r="6.9"/>
<circle cx="1729.3" cy="570.1" r="6.9"/>
<circle cx="1730.1" cy="569.8" r="6.9"/>
<circle cx="1728.3" cy="570.1" r="6.9"/>
<circle cx="1729.3" cy="569.3" r="6.9"/>
<circle cx="1730.1" cy="569.0" r="6.9"/>
<circle cx="1728.3" cy="569.3" r="6.9"/>
<circle cx="1729.4" cy="568.6" r="6.9"/>
<circle cx="1730.2" cy="568.3" r="6.9"/>
<circle cx="1728.4" cy="568.6" r="6.9"/>
<circle cx="1729.4" cy="567.9" r="6.9"/>
<circle cx="1730.2" cy="567.6" r="6.9"/>
<circle cx="1728.4" cy="567.9" r="6.9"/>
<circle cx="1729.5" cy="567.3" r="6.9"/>
<circle cx="1730.3" cy="567.0" r="6.9"/>
<circle cx="1728.5" cy="567.3" r="6.9"/>
<circle cx="1729.5" cy="566.7" r="6.9"/>
<circle cx="1730.3" cy="566.4" r="6.9"/>
<circle cx="1728.5" cy="566.7" r="6.9"/>
<circle cx="1729.6" cy="566.1" r="6.9"/>
<circle cx="1730.4" cy="565.8" r="6.9"/>
<circle cx="1728.6" cy="566.1" r="6.9"/>
<circle cx="1729.6" cy="565.6" r="6.9"/>
<circle cx="1730.4" cy="565.3" r="6.9"/>
<circle cx="1728.6" cy="565.6" r="6.9"/>
<circle cx="1729.7" cy="565.2" r="6.9"/>
<circle cx="1730.5" cy="564.9" r="6.9"/>
<circle cx="1728.7" cy="565.2" r="6.9"/>
<circle cx="1729.7" cy="564.8" r="6.9"/>
<circle cx="1730.5" cy="564.5" r="6.9"/>
<circle cx="1728.7" cy="564.8" r="6.9"/>
<circle cx="1731.3" cy="611.0" r="6.9"/>
<circle cx="1731.3" cy="618.0" r="6.9"/>
</g>
</g>
<rect x="250.5" y="144.5" width="1550.0" height="924.0" fill="none" stroke="#000" stroke-width="1.1"/>
<g stroke="#000" stroke-width="6">
<line x1="299.00" x2="299.00" y1="1068.5" y2="1078.8"/>
<line x1="354.00" x2="354.00" y1="1068.5" y2="1085.0"/>
<line x1="409.00" x2="409.00" y1="1068.5" y2="1078.8"/>
<line x1="464.00" x2="464.00" y1="1068.5" y2="1078.8"/>
<line x1="519.00" x2="519.00" y1="1068.5" y2="1078.8"/>
<line x1="574.00" x2="574.00" y1="1068.5" y2="1085.0"/>
<line x1="629.00" x2="629.00" y1="1068.5" y2="1078.8"/>
<line x1="684.00" x2="684.00" y1="1068.5" y2="1078.8"/>
<line x1="739.00" x2="739.00" y1="1068.5" y2="1078.8"/>
<line x1="794.00" x2="794.00" y1="1068.5" y2="1085.0"/>
<line x1="849.00" x2="849.00" y1="1068.5" y2="1078.8"/>
<line x1="904.00" x2="904.00" y1="1068.5" y2="1078.8"/>
<line x1="959.00" x2="959.00" y1="1068.5" y2="1078.8"/>
<line x1="1014.00" x2="1014.00" y1="1068.5" y2="1085.0"/>
<line x1="1068.00" x2="1068.00" y1="1068.5" y2="1078.8"/>
<line x1="1123.00" x2="1123.00" y1="1068.5" y2="1078.8"/>
<line x1="1178.00" x2="1178.00" y1="1068.5" y2="1078.8"/>
<line x1="1233.00" x2="1233.00" y1="1068.5" y2="1085.0"/>
<line x1="1288.00" x2="1288.00" y1="1068.5" y2="1078.8"/>
<line x1="1343.00" x2="1343.00" y1="1068.5" y2="1078.8"/>
<line x1="1398.00" x2="1398.00" y1="1068.5" y2="1078.8"/>
<line x1="1453.00" x2="1453.00" y1="1068.5" y2="1085.0"/>
<line x1="1508.00" x2="1508.00" y1="1068.5" y2="1078.8"/>
<line x1="1563.00" x2="1563.00" y1="1068.5" y2="1078.8"/>
<line x1="1618.00" x2="1618.00" y1="1068.5" y2="1078.8"/>
<line x1="1673.00" x2="1673.00" y1="1068.5" y2="1085.0"/>
<line x1="1728.00" x2="1728.00" y1="1068.5" y2="1078.8"/>
<line x1="1783.00" x2="1783.00" y1="1068.5" y2="1078.8"/>
<line x1="239.2" x2="250.5" y1="1062.00" y2="1062.00"/>
<line x1="239.2" x2="250.5" y1="1035.00" y2="1035.00"/>
<line x1="239.2" x2="250.5" y1="1009.00" y2="1009.00"/>
<line x1="239.2" x2="250.5" y1="982.00" y2="982.00"/>
<line x1="233.0" x2="250.5" y1="955.00" y2="955.00"/>
<line x1="239.2" x2="250.5" y1="928.00" y2="928.00"/>
<line x1="239.2" x2="250.5" y1="901.00" y2="901.00"/>
<line x1="239.2" x2="250.5" y1="875.00" y2="875.00"/>
<line x1="239.2" x2="250.5" y1="848.00" y2="848.00"/>
<line x1="233.0" x2="250.5" y1="821.00" y2="821.00"/>
<line x1="239.2" x2="250.5" y1="794.00" y2="794.00"/>
<line x1="239.2" x2="250.5" y1="768.00" y2="768.00"/>
<line x1="239.2" x2="250.5" y1="741.00" y2="741.00"/>
<line x1="239.2" x2="250.5" y1="714.00" y2="714.00"/>
<line x1="233.0" x2="250.5" y1="687.00" y2="687.00"/>
<line x1="239.2" x2="250.5" y1="661.00" y2="661.00"/>
<line x1="239.2" x2="250.5" y1="634.00" y2="634.00"/>
<line x1="239.2" x2="250.5" y1="607.00" y2="607.00"/>
<line x1="239.2" x2="250.5" y1="580.00" y2="580.00"/>
<line x1="233.0" x2="250.5" y1="554.00" y2="554.00"/>
<line x1="239.2" x2="250.5" y1="527.00" y2="527.00"/>
<line x1="239.2" x2="250.5" y1="500.00" y2="500.00"/>
<line x1="239.2" x2="250.5" y1="473.00" y2="473.00"/>
<line x1="239.2" x2="250.5" y1="446.00" y2="446.00"/>
<line x1="233.0" x2="250.5" y1="420.00" y2="420.00"/>
<line x1="239.2" x2="250.5" y1="393.00" y2="393.00"/>
<line x1="239.2" x2="250.5" y1="366.00" y2="366.00"/>
<line x1="239.2" x2="250.5" y1="339.00" y2="339.00"/>
<line x1="239.2" x2="250.5" y1="313.00" y2="313.00"/>
<line x1="233.0" x2="250.5" y1="286.00" y2="286.00"/>
<line x1="239.2" x2="250.5" y1="259.00" y2="259.00"/>
<line x1="239.2" x2="250.5" y1="232.00" y2="232.00"/>
<line x1="239.2" x2="250.5" y1="206.00" y2="206.00"/>
<line x1="239.2" x2="250.5" y1="179.00" y2="179.00"/>
<line x1="233.0" x2="250.5" y1="152.00" y2="152.00"/>
</g>
<g font-size="34.72px" letter-spacing="0.8">
<text x="354.20" y="1117" text-anchor="middle">330.0</text>
<text x="574.03" y="1117" text-anchor="middle">330.2</text>
<text x="793.87" y="1117" text-anchor="middle">330.4</text>
<text x="1013.70" y="1117" text-anchor="middle">330.6</text>
<text x="1233.54" y="1117" text-anchor="middle">330.8</text>
<text x="1453.37" y="1117" text-anchor="middle">331.0</text>
<text x="1673.20" y="1117" text-anchor="middle">331.2</text>
<text x="228.3" y="968.60" text-anchor="end">100</text>
<text x="228.3" y="834.77" text-anchor="end">200</text>
<text x="228.3" y="700.93" text-anchor="end">300</text>
<text x="228.3" y="567.10" text-anchor="end">400</text>
<text x="228.3" y="433.27" text-anchor="end">500</text>
<text x="228.3" y="299.44" text-anchor="end">600</text>
<text x="228.3" y="165.60" text-anchor="end">700</text>
</g>
<text x="1025.5" y="1171.8" font-size="55.56px" text-anchor="middle">Age (Myr)</text>
<text transform="translate(140.3,606.8) rotate(-90)" font-size="55.56px" text-anchor="middle">O1 period (days)</text>
<g font-size="16.67px">
<text transform="translate(729.3,896.5) rotate(-80)">n=1</text>
<text transform="translate(787.0,886.6) rotate(-80)">n=2</text>
<text transform="translate(893.7,866.8) rotate(-80)">n=3</text>
<text transform="translate(942.5,857.4) rotate(-80)">n=4</text>
<text transform="translate(989.4,848.0) rotate(-80)">n=5</text>
<text transform="translate(1033.4,838.6) rotate(-80)">n=6</text>
<text transform="translate(1074.4,830.0) rotate(-80)">n=7</text>
<text transform="translate(1114.0,821.0) rotate(-80)">n=8</text>
<text transform="translate(1151.4,812.4) rotate(-80)">n=9</text>
<text transform="translate(1187.4,804.0) rotate(-80)">n=10</text>
<text transform="translate(1221.4,795.0) rotate(-80)">n=11</text>
<text transform="translate(1285.2,778.0) rotate(-80)">n=12</text>
<text transform="translate(1314.6,769.0) rotate(-80)">n=13</text>
<text transform="translate(1343.4,761.0) rotate(-80)">n=14</text>
<text transform="translate(1370.4,752.0) rotate(-80)">n=15</text>
<text transform="translate(1396.7,742.0) rotate(-80)">n=16</text>
<text transform="translate(1421.4,733.0) rotate(-80)">n=17</text>
<text transform="translate(1469.2,714.0) rotate(-80)">n=18</text>
<text transform="translate(1491.3,703.7) rotate(-80)">n=19</text>
<text transform="translate(1513.2,692.5) rotate(-80)">n=20</text>
<text transform="translate(1533.9,682.2) rotate(-80)">n=21</text>
<text transform="translate(1554.4,670.8) rotate(-80)">n=22</text>
<text transform="translate(1573.8,658.3) rotate(-80)">n=23</text>
<text transform="translate(1592.7,644.3) rotate(-80)">n=24</text>
<text transform="translate(1611.0,627.0) rotate(-80)">n=25</text>
<text transform="translate(1628.7,610.3) rotate(-80)">n=26</text>
<text transform="translate(1646.1,585.4) rotate(-80)">n=27</text>
<text transform="translate(1662.9,559.0) rotate(-80)">n=28</text>
<text transform="translate(1679.4,526.0) rotate(-80)">n=29</text>
<text transform="translate(1695.4,485.0) rotate(-80)">n=30</text>
<text transform="translate(1711.4,419.0) rotate(-80)">n=31</text>
<text transform="translate(1726.3,320.5) rotate(-80)">n=32</text>
</g>
<rect x="263.7" y="157.3" width="534.8" height="291" rx="3.5" ry="3.5" fill="#fff" fill-opacity="0.8" stroke="#ccc" stroke-opacity="0.8" stroke-width="1.39"/>
<line x1="273" x2="323" y1="177" y2="177" stroke="#000" stroke-width="2.08" stroke-linecap="square"/>
<circle cx="298.5" cy="177" r="2.4" fill="#000"/>
<line x1="273" x2="323" y1="214" y2="214" stroke="#0000ff" stroke-width="4.17" stroke-linecap="square"/>
<line x1="273" x2="323" y1="251" y2="251" stroke="#008000" stroke-width="4.17" stroke-linecap="square"/>
<line x1="273" x2="323" y1="287" y2="287" stroke="#ffa500" stroke-width="2.08" stroke-linecap="square"/>
<circle cx="298.5" cy="324.4" r="4.2" fill="#90ee90"/>
<line x1="273" x2="323" y1="360.2" y2="360.2" stroke="#ff0000" stroke-width="2.08" stroke-linecap="square"/>
<polygon points="298.4,339.1 303.2,353.8 318.7,353.8 306.1,362.9 310.9,377.6 298.4,368.5 285.9,377.6 290.7,362.9 278.1,353.8 293.6,353.8" fill="#ff0000"/>
<circle cx="298.5" cy="413.5" r="6.9" fill="#ffff00" fill-opacity="0.25" stroke="#ffff00" stroke-opacity="0.25" stroke-width="1.4"/>
<g font-size="25px">
<text x="342.5" y="186.0">m2.70_z0.0030</text>
<text x="342.5" y="222.7">peak detector horizontal bounds</text>
<text x="342.5" y="259.4">min. P consistent with observations</text>
<text x="342.5" y="295.9">max. P must fall within this span</text>
<text x="342.5" y="332.8">pulse region fit with cubic spline</text>
<text x="342.5" y="369.0">pulses identified</text>
<text x="342.5" y="405.0">intersection w/ P,L,T,R</text>
<text x="342.5" y="432.8">loosely defined</text>
</g>
</svg></body></html>
